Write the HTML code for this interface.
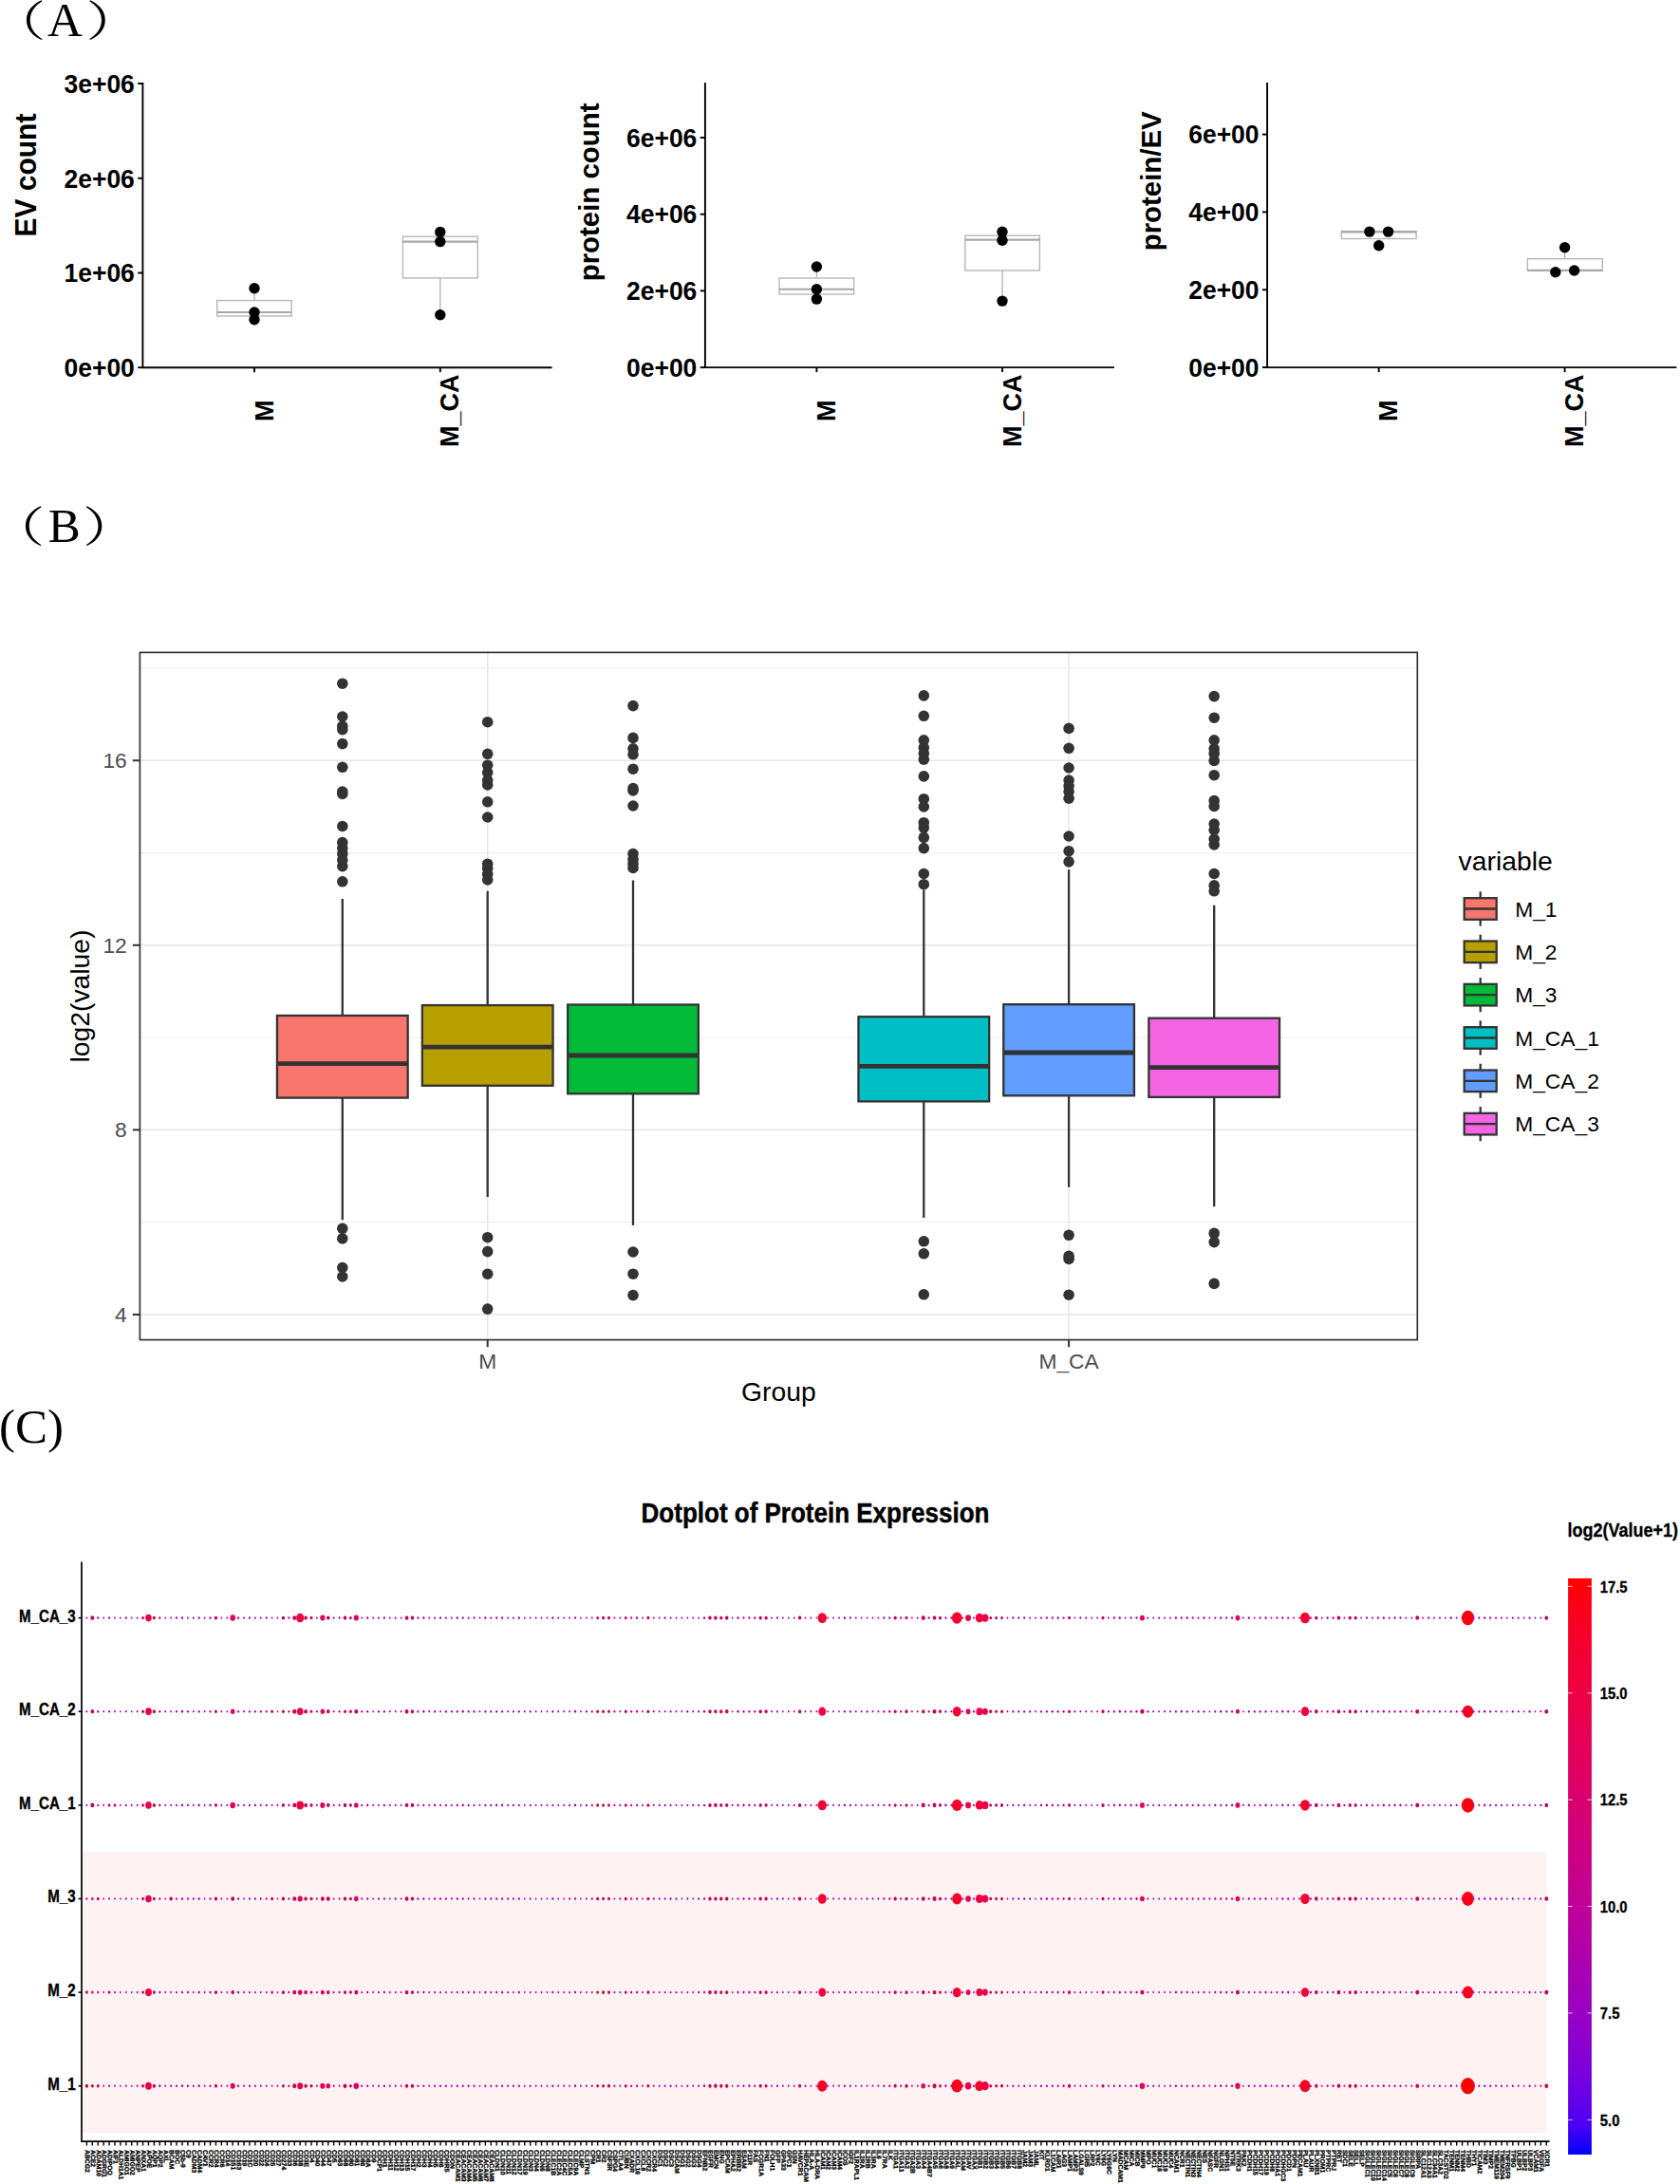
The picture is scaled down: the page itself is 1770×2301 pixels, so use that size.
<!DOCTYPE html>
<html lang="en"><head><meta charset="utf-8"><title>Figure</title>
<style>html,body{margin:0;padding:0;background:#fff}svg{display:block}text{font-family:'Liberation Sans', Arial, Helvetica, sans-serif}.b{font-weight:700}.lab,.lab text{font-family:'Liberation Serif', 'Noto Serif CJK SC', 'Times New Roman', serif}.lab{font-size:51px}.ax{stroke:#000;stroke-width:1.9;fill:none}.bx{stroke:#b5b5b5;stroke-width:1.35;fill:#fff}.bl{stroke:#b5b5b5;stroke-width:1.35;fill:none}.md{stroke:#a8a8a8;stroke-width:2.1;fill:none}.g3{fill:#4d4d4d}.bb{stroke:#333;stroke-width:2.3}.ol{fill:#333}</style></head><body>
<svg width="1770" height="2301" viewBox="0 0 1770 2301">
<rect width="1770" height="2301" fill="#fff"/>
<g class="lab">
<text font-size="44.5" transform="translate(-10 37.8) scale(1.31 1)">（</text>
<text x="50" y="38.4">A</text>
<text font-size="44.5" transform="translate(90.5 37.8) scale(1.31 1)">）</text>
</g>
<g class="lab">
<text font-size="44.5" transform="translate(-10.9 570.8) scale(1.31 1)">（</text>
<text x="50.8" y="571.4">B</text>
<text font-size="44.5" transform="translate(86.9 570.8) scale(1.31 1)">）</text>
</g>
<text class="lab" x="-1" y="1520">(C)</text>
<g>
<line class="bl" x1="268" y1="303.8" x2="268" y2="316.6"/>
<rect class="bx" x="228.7" y="316.6" width="78.5" height="16.4"/>
<line class="md" x1="228.7" y1="329" x2="307.2" y2="329"/>
<line class="bl" x1="463.8" y1="292.9" x2="463.8" y2="331.7"/>
<rect class="bx" x="424.4" y="249.2" width="78.9" height="43.7"/>
<line class="md" x1="424.4" y1="254.6" x2="503.3" y2="254.6"/>
<circle cx="268" cy="303.8" r="5.7" fill="#000"/>
<circle cx="268" cy="329" r="5.7" fill="#000"/>
<circle cx="268" cy="336.8" r="5.7" fill="#000"/>
<circle cx="463.8" cy="244.4" r="5.7" fill="#000"/>
<circle cx="463.8" cy="254.6" r="5.7" fill="#000"/>
<circle cx="463.8" cy="331.7" r="5.7" fill="#000"/>
<path class="ax" d="M150.4 87V387.2H581.6"/>
<line class="ax" x1="145.2" y1="88" x2="150.4" y2="88"/>
<text class="b" font-size="27" text-anchor="end" transform="translate(141.8 97.7) scale(0.98 1)">3e+06</text>
<line class="ax" x1="145.2" y1="187.8" x2="150.4" y2="187.8"/>
<text class="b" font-size="27" text-anchor="end" transform="translate(141.8 197.5) scale(0.98 1)">2e+06</text>
<line class="ax" x1="145.2" y1="287.5" x2="150.4" y2="287.5"/>
<text class="b" font-size="27" text-anchor="end" transform="translate(141.8 297.2) scale(0.98 1)">1e+06</text>
<line class="ax" x1="145.2" y1="387.2" x2="150.4" y2="387.2"/>
<text class="b" font-size="27" text-anchor="end" transform="translate(141.8 396.9) scale(0.98 1)">0e+00</text>
<line class="ax" x1="268" y1="387.2" x2="268" y2="392.2"/>
<text class="b" font-size="27" text-anchor="middle" transform="translate(287.5 432.8) rotate(-90)">M</text>
<line class="ax" x1="463.8" y1="387.2" x2="463.8" y2="392.2"/>
<text class="b" font-size="27" text-anchor="middle" transform="translate(483.3 432.8) rotate(-90)">M_CA</text>
<text class="b" font-size="30" text-anchor="middle" transform="translate(38 184.6) rotate(-90) scale(1 1.05)">EV count</text>
</g>
<g>
<line class="bl" x1="860.4" y1="281" x2="860.4" y2="293"/>
<rect class="bx" x="821" y="293" width="78.7" height="17"/>
<line class="md" x1="821" y1="304.7" x2="899.7" y2="304.7"/>
<line class="bl" x1="1056" y1="285" x2="1056" y2="317.1"/>
<rect class="bx" x="1016.8" y="248.2" width="78.6" height="36.8"/>
<line class="md" x1="1016.8" y1="252.6" x2="1095.4" y2="252.6"/>
<circle cx="860.4" cy="281" r="5.7" fill="#000"/>
<circle cx="860.4" cy="304.7" r="5.7" fill="#000"/>
<circle cx="860.4" cy="315.1" r="5.7" fill="#000"/>
<circle cx="1056" cy="244.3" r="5.7" fill="#000"/>
<circle cx="1056" cy="253.2" r="5.7" fill="#000"/>
<circle cx="1056" cy="317.1" r="5.7" fill="#000"/>
<path class="ax" d="M742.9 87V387.1H1173.9"/>
<line class="ax" x1="737.7" y1="145" x2="742.9" y2="145"/>
<text class="b" font-size="27" text-anchor="end" transform="translate(734.3 154.7) scale(0.98 1)">6e+06</text>
<line class="ax" x1="737.7" y1="225.7" x2="742.9" y2="225.7"/>
<text class="b" font-size="27" text-anchor="end" transform="translate(734.3 235.4) scale(0.98 1)">4e+06</text>
<line class="ax" x1="737.7" y1="306.4" x2="742.9" y2="306.4"/>
<text class="b" font-size="27" text-anchor="end" transform="translate(734.3 316.1) scale(0.98 1)">2e+06</text>
<line class="ax" x1="737.7" y1="387.1" x2="742.9" y2="387.1"/>
<text class="b" font-size="27" text-anchor="end" transform="translate(734.3 396.8) scale(0.98 1)">0e+00</text>
<line class="ax" x1="860.4" y1="387.1" x2="860.4" y2="392.1"/>
<text class="b" font-size="27" text-anchor="middle" transform="translate(879.9 432.8) rotate(-90)">M</text>
<line class="ax" x1="1056" y1="387.1" x2="1056" y2="392.1"/>
<text class="b" font-size="27" text-anchor="middle" transform="translate(1075.5 432.8) rotate(-90)">M_CA</text>
<text class="b" font-size="30" text-anchor="middle" transform="translate(630.5 202.4) rotate(-90) scale(0.98 1)">protein count</text>
</g>
<g>
<line class="bl" x1="1452.7" y1="251.5" x2="1452.7" y2="258.7"/>
<rect class="bx" x="1413.3" y="243.6" width="78.9" height="7.9"/>
<line class="md" x1="1413.3" y1="244.4" x2="1492.2" y2="244.4"/>
<line class="bl" x1="1648.6" y1="260.8" x2="1648.6" y2="272.7"/>
<rect class="bx" x="1609.3" y="272.7" width="79" height="12.7"/>
<line class="md" x1="1609.3" y1="284.8" x2="1688.3" y2="284.8"/>
<circle cx="1442.9" cy="244.1" r="5.7" fill="#000"/>
<circle cx="1462.6" cy="244.1" r="5.7" fill="#000"/>
<circle cx="1452.7" cy="258.7" r="5.7" fill="#000"/>
<circle cx="1648.6" cy="260.8" r="5.7" fill="#000"/>
<circle cx="1638.8" cy="286.8" r="5.7" fill="#000"/>
<circle cx="1658.6" cy="285" r="5.7" fill="#000"/>
<path class="ax" d="M1335.1 87V387.1H1766.4"/>
<line class="ax" x1="1329.9" y1="141.6" x2="1335.1" y2="141.6"/>
<text class="b" font-size="27" text-anchor="end" transform="translate(1326.5 151.3) scale(0.98 1)">6e+00</text>
<line class="ax" x1="1329.9" y1="223.4" x2="1335.1" y2="223.4"/>
<text class="b" font-size="27" text-anchor="end" transform="translate(1326.5 233.1) scale(0.98 1)">4e+00</text>
<line class="ax" x1="1329.9" y1="305.3" x2="1335.1" y2="305.3"/>
<text class="b" font-size="27" text-anchor="end" transform="translate(1326.5 315) scale(0.98 1)">2e+00</text>
<line class="ax" x1="1329.9" y1="387" x2="1335.1" y2="387"/>
<text class="b" font-size="27" text-anchor="end" transform="translate(1326.5 396.7) scale(0.98 1)">0e+00</text>
<line class="ax" x1="1452.7" y1="387.1" x2="1452.7" y2="392.1"/>
<text class="b" font-size="27" text-anchor="middle" transform="translate(1472.2 432.8) rotate(-90)">M</text>
<line class="ax" x1="1648.6" y1="387.1" x2="1648.6" y2="392.1"/>
<text class="b" font-size="27" text-anchor="middle" transform="translate(1668.1 432.8) rotate(-90)">M_CA</text>
<text class="b" font-size="30" text-anchor="middle" transform="translate(1222.7 190.8) rotate(-90) scale(0.98 1)">protein/EV</text>
</g>
<g>
<line x1="147.4" y1="703.9" x2="1493.3" y2="703.9" stroke="#ebebeb" stroke-width="0.9"/>
<line x1="147.4" y1="898.5" x2="1493.3" y2="898.5" stroke="#ebebeb" stroke-width="0.9"/>
<line x1="147.4" y1="1093.1" x2="1493.3" y2="1093.1" stroke="#ebebeb" stroke-width="0.9"/>
<line x1="147.4" y1="1287.7" x2="1493.3" y2="1287.7" stroke="#ebebeb" stroke-width="0.9"/>
<line x1="147.4" y1="801.2" x2="1493.3" y2="801.2" stroke="#e7e7e7" stroke-width="1.6"/>
<line x1="147.4" y1="995.8" x2="1493.3" y2="995.8" stroke="#e7e7e7" stroke-width="1.6"/>
<line x1="147.4" y1="1190.4" x2="1493.3" y2="1190.4" stroke="#e7e7e7" stroke-width="1.6"/>
<line x1="147.4" y1="1385" x2="1493.3" y2="1385" stroke="#e7e7e7" stroke-width="1.6"/>
<line x1="513.7" y1="687.4" x2="513.7" y2="1411.6" stroke="#e7e7e7" stroke-width="1.6"/>
<line x1="1126.1" y1="687.4" x2="1126.1" y2="1411.6" stroke="#e7e7e7" stroke-width="1.6"/>
<circle class="ol" cx="360.8" cy="720.2" r="5.8"/>
<circle class="ol" cx="360.8" cy="755" r="5.8"/>
<circle class="ol" cx="360.8" cy="765" r="5.8"/>
<circle class="ol" cx="360.8" cy="768.6" r="5.8"/>
<circle class="ol" cx="360.8" cy="783.6" r="5.8"/>
<circle class="ol" cx="360.8" cy="808.3" r="5.8"/>
<circle class="ol" cx="360.8" cy="834" r="5.8"/>
<circle class="ol" cx="360.8" cy="836.4" r="5.8"/>
<circle class="ol" cx="360.8" cy="870.5" r="5.8"/>
<circle class="ol" cx="360.8" cy="887.6" r="5.8"/>
<circle class="ol" cx="360.8" cy="893.6" r="5.8"/>
<circle class="ol" cx="360.8" cy="899.5" r="5.8"/>
<circle class="ol" cx="360.8" cy="906.2" r="5.8"/>
<circle class="ol" cx="360.8" cy="912.6" r="5.8"/>
<circle class="ol" cx="360.8" cy="928.8" r="5.8"/>
<circle class="ol" cx="360.8" cy="1294.3" r="5.8"/>
<circle class="ol" cx="360.8" cy="1304.9" r="5.8"/>
<circle class="ol" cx="360.8" cy="1335.5" r="5.8"/>
<circle class="ol" cx="360.8" cy="1345" r="5.8"/>
<path class="bb" fill="none" d="M360.8 947V1070M360.8 1156.6V1285.2"/>
<rect class="bb" x="291.95" y="1070" width="137.7" height="86.6" fill="#F8766D"/>
<line x1="291.95" y1="1120.6" x2="429.65" y2="1120.6" stroke="#333" stroke-width="4.8"/>
<circle class="ol" cx="513.7" cy="760.7" r="5.8"/>
<circle class="ol" cx="513.7" cy="794.3" r="5.8"/>
<circle class="ol" cx="513.7" cy="806.2" r="5.8"/>
<circle class="ol" cx="513.7" cy="813.8" r="5.8"/>
<circle class="ol" cx="513.7" cy="822.1" r="5.8"/>
<circle class="ol" cx="513.7" cy="826.9" r="5.8"/>
<circle class="ol" cx="513.7" cy="844.8" r="5.8"/>
<circle class="ol" cx="513.7" cy="861" r="5.8"/>
<circle class="ol" cx="513.7" cy="910.2" r="5.8"/>
<circle class="ol" cx="513.7" cy="915" r="5.8"/>
<circle class="ol" cx="513.7" cy="921" r="5.8"/>
<circle class="ol" cx="513.7" cy="926.9" r="5.8"/>
<circle class="ol" cx="513.7" cy="1303.7" r="5.8"/>
<circle class="ol" cx="513.7" cy="1318.6" r="5.8"/>
<circle class="ol" cx="513.7" cy="1342.2" r="5.8"/>
<circle class="ol" cx="513.7" cy="1379.1" r="5.8"/>
<path class="bb" fill="none" d="M513.7 938.8V1059.1M513.7 1143.8V1260.9"/>
<rect class="bb" x="444.85" y="1059.1" width="137.7" height="84.7" fill="#B79F00"/>
<line x1="444.85" y1="1103.1" x2="582.55" y2="1103.1" stroke="#333" stroke-width="4.8"/>
<circle class="ol" cx="667" cy="743.6" r="5.8"/>
<circle class="ol" cx="667" cy="777.4" r="5.8"/>
<circle class="ol" cx="667" cy="788.8" r="5.8"/>
<circle class="ol" cx="667" cy="794.8" r="5.8"/>
<circle class="ol" cx="667" cy="810.2" r="5.8"/>
<circle class="ol" cx="667" cy="830.5" r="5.8"/>
<circle class="ol" cx="667" cy="832.9" r="5.8"/>
<circle class="ol" cx="667" cy="849" r="5.8"/>
<circle class="ol" cx="667" cy="899.5" r="5.8"/>
<circle class="ol" cx="667" cy="905.5" r="5.8"/>
<circle class="ol" cx="667" cy="910.2" r="5.8"/>
<circle class="ol" cx="667" cy="914.5" r="5.8"/>
<circle class="ol" cx="667" cy="1319" r="5.8"/>
<circle class="ol" cx="667" cy="1342.2" r="5.8"/>
<circle class="ol" cx="667" cy="1364.6" r="5.8"/>
<path class="bb" fill="none" d="M667 927.4V1058.5M667 1152.3V1291.1"/>
<rect class="bb" x="598.15" y="1058.5" width="137.7" height="93.8" fill="#00BA38"/>
<line x1="598.15" y1="1112" x2="735.85" y2="1112" stroke="#333" stroke-width="4.8"/>
<circle class="ol" cx="973.3" cy="732.9" r="5.8"/>
<circle class="ol" cx="973.3" cy="754.3" r="5.8"/>
<circle class="ol" cx="973.3" cy="779.8" r="5.8"/>
<circle class="ol" cx="973.3" cy="787.6" r="5.8"/>
<circle class="ol" cx="973.3" cy="794" r="5.8"/>
<circle class="ol" cx="973.3" cy="800.2" r="5.8"/>
<circle class="ol" cx="973.3" cy="817.9" r="5.8"/>
<circle class="ol" cx="973.3" cy="841.7" r="5.8"/>
<circle class="ol" cx="973.3" cy="850" r="5.8"/>
<circle class="ol" cx="973.3" cy="866.7" r="5.8"/>
<circle class="ol" cx="973.3" cy="872.1" r="5.8"/>
<circle class="ol" cx="973.3" cy="882.4" r="5.8"/>
<circle class="ol" cx="973.3" cy="893.6" r="5.8"/>
<circle class="ol" cx="973.3" cy="920.5" r="5.8"/>
<circle class="ol" cx="973.3" cy="931.7" r="5.8"/>
<circle class="ol" cx="973.3" cy="1307.8" r="5.8"/>
<circle class="ol" cx="973.3" cy="1320.8" r="5.8"/>
<circle class="ol" cx="973.3" cy="1363.8" r="5.8"/>
<path class="bb" fill="none" d="M973.3 937.6V1071.2M973.3 1160.4V1283"/>
<rect class="bb" x="904.45" y="1071.2" width="137.7" height="89.2" fill="#00BFC4"/>
<line x1="904.45" y1="1123.4" x2="1042.15" y2="1123.4" stroke="#333" stroke-width="4.8"/>
<circle class="ol" cx="1126.1" cy="767.4" r="5.8"/>
<circle class="ol" cx="1126.1" cy="788.3" r="5.8"/>
<circle class="ol" cx="1126.1" cy="809" r="5.8"/>
<circle class="ol" cx="1126.1" cy="822.1" r="5.8"/>
<circle class="ol" cx="1126.1" cy="828.1" r="5.8"/>
<circle class="ol" cx="1126.1" cy="834" r="5.8"/>
<circle class="ol" cx="1126.1" cy="841.2" r="5.8"/>
<circle class="ol" cx="1126.1" cy="881" r="5.8"/>
<circle class="ol" cx="1126.1" cy="896.7" r="5.8"/>
<circle class="ol" cx="1126.1" cy="907.9" r="5.8"/>
<circle class="ol" cx="1126.1" cy="1301.3" r="5.8"/>
<circle class="ol" cx="1126.1" cy="1323.4" r="5.8"/>
<circle class="ol" cx="1126.1" cy="1326.5" r="5.8"/>
<circle class="ol" cx="1126.1" cy="1364.2" r="5.8"/>
<path class="bb" fill="none" d="M1126.1 916.2V1058.2M1126.1 1154.3V1250.7"/>
<rect class="bb" x="1057.25" y="1058.2" width="137.7" height="96.1" fill="#619CFF"/>
<line x1="1057.25" y1="1109" x2="1194.95" y2="1109" stroke="#333" stroke-width="4.8"/>
<circle class="ol" cx="1279.2" cy="733.6" r="5.8"/>
<circle class="ol" cx="1279.2" cy="756.2" r="5.8"/>
<circle class="ol" cx="1279.2" cy="779.8" r="5.8"/>
<circle class="ol" cx="1279.2" cy="788.8" r="5.8"/>
<circle class="ol" cx="1279.2" cy="794" r="5.8"/>
<circle class="ol" cx="1279.2" cy="801.4" r="5.8"/>
<circle class="ol" cx="1279.2" cy="816.7" r="5.8"/>
<circle class="ol" cx="1279.2" cy="843.6" r="5.8"/>
<circle class="ol" cx="1279.2" cy="849.5" r="5.8"/>
<circle class="ol" cx="1279.2" cy="868.1" r="5.8"/>
<circle class="ol" cx="1279.2" cy="874.5" r="5.8"/>
<circle class="ol" cx="1279.2" cy="884" r="5.8"/>
<circle class="ol" cx="1279.2" cy="890" r="5.8"/>
<circle class="ol" cx="1279.2" cy="920.5" r="5.8"/>
<circle class="ol" cx="1279.2" cy="932.9" r="5.8"/>
<circle class="ol" cx="1279.2" cy="938.8" r="5.8"/>
<circle class="ol" cx="1279.2" cy="1299.4" r="5.8"/>
<circle class="ol" cx="1279.2" cy="1308.6" r="5.8"/>
<circle class="ol" cx="1279.2" cy="1352.4" r="5.8"/>
<path class="bb" fill="none" d="M1279.2 953.8V1072.7M1279.2 1155.9V1271.2"/>
<rect class="bb" x="1210.35" y="1072.7" width="137.7" height="83.2" fill="#F564E3"/>
<line x1="1210.35" y1="1124.6" x2="1348.05" y2="1124.6" stroke="#333" stroke-width="4.8"/>
<rect x="147.4" y="687.4" width="1345.9" height="724.2" fill="none" stroke="#333" stroke-width="1.7"/>
<line x1="139.8" y1="801.2" x2="147.4" y2="801.2" stroke="#333" stroke-width="2"/>
<text class="g3" font-size="22.8" text-anchor="end" x="133.8" y="809.1">16</text>
<line x1="139.8" y1="995.8" x2="147.4" y2="995.8" stroke="#333" stroke-width="2"/>
<text class="g3" font-size="22.8" text-anchor="end" x="133.8" y="1003.7">12</text>
<line x1="139.8" y1="1190.4" x2="147.4" y2="1190.4" stroke="#333" stroke-width="2"/>
<text class="g3" font-size="22.8" text-anchor="end" x="133.8" y="1198.3">8</text>
<line x1="139.8" y1="1385" x2="147.4" y2="1385" stroke="#333" stroke-width="2"/>
<text class="g3" font-size="22.8" text-anchor="end" x="133.8" y="1392.9">4</text>
<line x1="513.7" y1="1411.6" x2="513.7" y2="1419.2" stroke="#333" stroke-width="2"/>
<text class="g3" font-size="22.8" text-anchor="middle" x="513.7" y="1441.7">M</text>
<line x1="1126.1" y1="1411.6" x2="1126.1" y2="1419.2" stroke="#333" stroke-width="2"/>
<text class="g3" font-size="22.8" text-anchor="middle" x="1126.1" y="1441.7">M_CA</text>
<text font-size="28.3" text-anchor="middle" x="820.4" y="1475.6">Group</text>
<text font-size="28.3" text-anchor="middle" transform="translate(94.3 1049.5) rotate(-90)">log2(value)</text>
<text font-size="28.3" x="1536.6" y="916.7">variable</text>
<path class="bb" fill="none" d="M1559.7 939.4V975.6"/>
<rect class="bb" x="1542.7" y="946.2" width="34" height="22.6" fill="#F8766D"/>
<line class="bb" x1="1542.7" y1="957.5" x2="1576.7" y2="957.5"/>
<text font-size="22.8" x="1596.2" y="965.6">M_1</text>
<path class="bb" fill="none" d="M1559.7 984.73V1020.93"/>
<rect class="bb" x="1542.7" y="991.53" width="34" height="22.6" fill="#B79F00"/>
<line class="bb" x1="1542.7" y1="1002.83" x2="1576.7" y2="1002.83"/>
<text font-size="22.8" x="1596.2" y="1010.93">M_2</text>
<path class="bb" fill="none" d="M1559.7 1030.06V1066.26"/>
<rect class="bb" x="1542.7" y="1036.86" width="34" height="22.6" fill="#00BA38"/>
<line class="bb" x1="1542.7" y1="1048.16" x2="1576.7" y2="1048.16"/>
<text font-size="22.8" x="1596.2" y="1056.26">M_3</text>
<path class="bb" fill="none" d="M1559.7 1075.39V1111.59"/>
<rect class="bb" x="1542.7" y="1082.19" width="34" height="22.6" fill="#00BFC4"/>
<line class="bb" x1="1542.7" y1="1093.49" x2="1576.7" y2="1093.49"/>
<text font-size="22.8" x="1596.2" y="1101.59">M_CA_1</text>
<path class="bb" fill="none" d="M1559.7 1120.72V1156.92"/>
<rect class="bb" x="1542.7" y="1127.52" width="34" height="22.6" fill="#619CFF"/>
<line class="bb" x1="1542.7" y1="1138.82" x2="1576.7" y2="1138.82"/>
<text font-size="22.8" x="1596.2" y="1146.92">M_CA_2</text>
<path class="bb" fill="none" d="M1559.7 1166.05V1202.25"/>
<rect class="bb" x="1542.7" y="1172.85" width="34" height="22.6" fill="#F564E3"/>
<line class="bb" x1="1542.7" y1="1184.15" x2="1576.7" y2="1184.15"/>
<text font-size="22.8" x="1596.2" y="1192.25">M_CA_3</text>
</g>
<g stroke="#000" stroke-width="0" paint-order="stroke">
<text class="b" stroke-width="0.4" font-size="26" text-anchor="middle" transform="translate(859 1604.4) scale(1 1.13)">Dotplot of Protein Expression</text>
<rect x="87" y="1951.2" width="1542.2" height="295.7" fill="#fef3f2"/>
<ellipse cx="91.4" cy="1704.6" rx="0.96" ry="1.11" fill="#ab00b1"/><ellipse cx="97.32" cy="1704.6" rx="2" ry="2.32" fill="#c2064f"/><ellipse cx="103.23" cy="1704.6" rx="1.09" ry="1.27" fill="#b200a9"/><ellipse cx="109.15" cy="1704.6" rx="0.96" ry="1.11" fill="#aa00b2"/><ellipse cx="115.06" cy="1704.6" rx="1.07" ry="1.24" fill="#ad00af"/><ellipse cx="120.98" cy="1704.6" rx="0.96" ry="1.11" fill="#ab00b1"/><ellipse cx="126.89" cy="1704.6" rx="0.89" ry="1.03" fill="#b800a1"/><ellipse cx="132.81" cy="1704.6" rx="1.08" ry="1.25" fill="#a700b5"/><ellipse cx="138.72" cy="1704.6" rx="0.91" ry="1.06" fill="#b400a7"/><ellipse cx="144.63" cy="1704.6" rx="0.99" ry="1.14" fill="#a200bb"/><ellipse cx="150.55" cy="1704.6" rx="1.43" ry="1.66" fill="#c2064f"/><ellipse cx="156.47" cy="1704.6" rx="3.3" ry="3.83" fill="#ea004a"/><ellipse cx="162.38" cy="1704.6" rx="1.57" ry="1.82" fill="#c2064f"/><ellipse cx="168.3" cy="1704.6" rx="1.12" ry="1.29" fill="#b900a0"/><ellipse cx="174.21" cy="1704.6" rx="0.92" ry="1.07" fill="#b900a1"/><ellipse cx="180.12" cy="1704.6" rx="0.97" ry="1.13" fill="#b700a2"/><ellipse cx="186.04" cy="1704.6" rx="1.09" ry="1.27" fill="#a200bb"/><ellipse cx="191.96" cy="1704.6" rx="1.15" ry="1.33" fill="#a000bd"/><ellipse cx="197.87" cy="1704.6" rx="1" ry="1.15" fill="#a900b3"/><ellipse cx="203.79" cy="1704.6" rx="1.03" ry="1.2" fill="#ae00ae"/><ellipse cx="209.7" cy="1704.6" rx="1.1" ry="1.28" fill="#b600a4"/><ellipse cx="215.62" cy="1704.6" rx="0.97" ry="1.12" fill="#a400b9"/><ellipse cx="221.53" cy="1704.6" rx="1.1" ry="1.28" fill="#b000ab"/><ellipse cx="227.44" cy="1704.6" rx="1.69" ry="1.96" fill="#c2064f"/><ellipse cx="233.36" cy="1704.6" rx="0.92" ry="1.06" fill="#ae00ae"/><ellipse cx="239.28" cy="1704.6" rx="0.99" ry="1.15" fill="#af00ac"/><ellipse cx="245.19" cy="1704.6" rx="2.8" ry="3.25" fill="#e50057"/><ellipse cx="251.11" cy="1704.6" rx="1.12" ry="1.3" fill="#b400a7"/><ellipse cx="257.02" cy="1704.6" rx="0.96" ry="1.11" fill="#a600b7"/><ellipse cx="262.94" cy="1704.6" rx="1.06" ry="1.23" fill="#ad00af"/><ellipse cx="268.85" cy="1704.6" rx="1.04" ry="1.21" fill="#b600a4"/><ellipse cx="274.76" cy="1704.6" rx="0.99" ry="1.15" fill="#ac00b0"/><ellipse cx="280.68" cy="1704.6" rx="1.07" ry="1.24" fill="#b500a5"/><ellipse cx="286.6" cy="1704.6" rx="0.97" ry="1.13" fill="#b100ab"/><ellipse cx="292.51" cy="1704.6" rx="0.91" ry="1.06" fill="#b600a4"/><ellipse cx="298.43" cy="1704.6" rx="1.69" ry="1.96" fill="#c2064f"/><ellipse cx="304.34" cy="1704.6" rx="1.09" ry="1.27" fill="#b400a7"/><ellipse cx="310.25" cy="1704.6" rx="2" ry="2.32" fill="#c2064f"/><ellipse cx="316.17" cy="1704.6" rx="4.1" ry="4.76" fill="#f1003a"/><ellipse cx="322.09" cy="1704.6" rx="1.8" ry="2.09" fill="#c2064f"/><ellipse cx="328" cy="1704.6" rx="1.52" ry="1.76" fill="#c2064f"/><ellipse cx="333.92" cy="1704.6" rx="0.95" ry="1.1" fill="#b100aa"/><ellipse cx="339.83" cy="1704.6" rx="2.6" ry="3.02" fill="#e2005c"/><ellipse cx="345.75" cy="1704.6" rx="1.8" ry="2.09" fill="#c2064f"/><ellipse cx="351.66" cy="1704.6" rx="1.01" ry="1.17" fill="#a200bb"/><ellipse cx="357.58" cy="1704.6" rx="1.07" ry="1.24" fill="#b200a9"/><ellipse cx="363.49" cy="1704.6" rx="1.8" ry="2.09" fill="#c2064f"/><ellipse cx="369.4" cy="1704.6" rx="1.42" ry="1.65" fill="#c2064f"/><ellipse cx="375.32" cy="1704.6" rx="2.6" ry="3.02" fill="#e2005c"/><ellipse cx="381.24" cy="1704.6" rx="0.94" ry="1.09" fill="#af00ad"/><ellipse cx="387.15" cy="1704.6" rx="1.1" ry="1.28" fill="#a700b6"/><ellipse cx="393.07" cy="1704.6" rx="0.96" ry="1.11" fill="#b100ab"/><ellipse cx="398.98" cy="1704.6" rx="1.04" ry="1.2" fill="#ae00ae"/><ellipse cx="404.89" cy="1704.6" rx="1.07" ry="1.24" fill="#9d00c0"/><ellipse cx="410.81" cy="1704.6" rx="0.92" ry="1.06" fill="#a300ba"/><ellipse cx="416.73" cy="1704.6" rx="1.03" ry="1.19" fill="#b300a8"/><ellipse cx="422.64" cy="1704.6" rx="0.9" ry="1.05" fill="#a900b4"/><ellipse cx="428.56" cy="1704.6" rx="1.91" ry="2.22" fill="#c2064f"/><ellipse cx="434.47" cy="1704.6" rx="1.77" ry="2.06" fill="#c2064f"/><ellipse cx="440.38" cy="1704.6" rx="1.07" ry="1.24" fill="#b000ac"/><ellipse cx="446.3" cy="1704.6" rx="1.13" ry="1.31" fill="#ac00b1"/><ellipse cx="452.22" cy="1704.6" rx="0.99" ry="1.15" fill="#b200a9"/><ellipse cx="458.13" cy="1704.6" rx="1.04" ry="1.2" fill="#b500a6"/><ellipse cx="464.04" cy="1704.6" rx="1.09" ry="1.26" fill="#9e00bf"/><ellipse cx="469.96" cy="1704.6" rx="1.02" ry="1.18" fill="#a500b8"/><ellipse cx="475.88" cy="1704.6" rx="0.98" ry="1.14" fill="#a100bc"/><ellipse cx="481.79" cy="1704.6" rx="1.12" ry="1.3" fill="#a000bd"/><ellipse cx="487.71" cy="1704.6" rx="1.08" ry="1.25" fill="#b800a1"/><ellipse cx="493.62" cy="1704.6" rx="1.01" ry="1.18" fill="#ad00ae"/><ellipse cx="499.53" cy="1704.6" rx="1.06" ry="1.23" fill="#a800b5"/><ellipse cx="505.45" cy="1704.6" rx="0.93" ry="1.08" fill="#a300ba"/><ellipse cx="511.37" cy="1704.6" rx="1.08" ry="1.26" fill="#a500b8"/><ellipse cx="517.28" cy="1704.6" rx="1.02" ry="1.19" fill="#a300ba"/><ellipse cx="523.2" cy="1704.6" rx="1.13" ry="1.31" fill="#b800a1"/><ellipse cx="529.11" cy="1704.6" rx="1.11" ry="1.29" fill="#b900a0"/><ellipse cx="535.02" cy="1704.6" rx="0.97" ry="1.13" fill="#a500b8"/><ellipse cx="540.94" cy="1704.6" rx="1.03" ry="1.19" fill="#a300ba"/><ellipse cx="546.86" cy="1704.6" rx="1.12" ry="1.3" fill="#a900b4"/><ellipse cx="552.77" cy="1704.6" rx="0.9" ry="1.05" fill="#a500b8"/><ellipse cx="558.69" cy="1704.6" rx="1" ry="1.16" fill="#b800a1"/><ellipse cx="564.6" cy="1704.6" rx="1" ry="1.16" fill="#ae00ae"/><ellipse cx="570.51" cy="1704.6" rx="0.92" ry="1.07" fill="#9d00c0"/><ellipse cx="576.43" cy="1704.6" rx="0.89" ry="1.04" fill="#a600b7"/><ellipse cx="582.35" cy="1704.6" rx="1.1" ry="1.28" fill="#b000ac"/><ellipse cx="588.26" cy="1704.6" rx="0.98" ry="1.14" fill="#b500a5"/><ellipse cx="594.17" cy="1704.6" rx="0.96" ry="1.11" fill="#b100aa"/><ellipse cx="600.09" cy="1704.6" rx="1" ry="1.16" fill="#b300a8"/><ellipse cx="606" cy="1704.6" rx="1.08" ry="1.25" fill="#b900a0"/><ellipse cx="611.92" cy="1704.6" rx="0.89" ry="1.04" fill="#b000ac"/><ellipse cx="617.84" cy="1704.6" rx="1" ry="1.16" fill="#b500a6"/><ellipse cx="623.75" cy="1704.6" rx="1" ry="1.16" fill="#b700a3"/><ellipse cx="629.66" cy="1704.6" rx="1.4" ry="1.62" fill="#c2064f"/><ellipse cx="635.58" cy="1704.6" rx="1.55" ry="1.8" fill="#c2064f"/><ellipse cx="641.5" cy="1704.6" rx="1.54" ry="1.79" fill="#c2064f"/><ellipse cx="647.41" cy="1704.6" rx="0.98" ry="1.14" fill="#a200bb"/><ellipse cx="653.32" cy="1704.6" rx="1" ry="1.16" fill="#ab00b2"/><ellipse cx="659.24" cy="1704.6" rx="1.44" ry="1.67" fill="#c2064f"/><ellipse cx="665.15" cy="1704.6" rx="1.08" ry="1.25" fill="#b600a4"/><ellipse cx="671.07" cy="1704.6" rx="1.14" ry="1.32" fill="#a500b8"/><ellipse cx="676.99" cy="1704.6" rx="0.97" ry="1.12" fill="#b000ab"/><ellipse cx="682.9" cy="1704.6" rx="1.52" ry="1.76" fill="#c2064f"/><ellipse cx="688.81" cy="1704.6" rx="0.98" ry="1.14" fill="#af00ad"/><ellipse cx="694.73" cy="1704.6" rx="0.93" ry="1.08" fill="#a600b7"/><ellipse cx="700.64" cy="1704.6" rx="1.06" ry="1.23" fill="#af00ad"/><ellipse cx="706.56" cy="1704.6" rx="1.02" ry="1.18" fill="#a900b3"/><ellipse cx="712.48" cy="1704.6" rx="0.97" ry="1.13" fill="#b200a9"/><ellipse cx="718.39" cy="1704.6" rx="0.95" ry="1.11" fill="#9f00be"/><ellipse cx="724.3" cy="1704.6" rx="0.97" ry="1.12" fill="#ab00b2"/><ellipse cx="730.22" cy="1704.6" rx="0.95" ry="1.11" fill="#a100bc"/><ellipse cx="736.13" cy="1704.6" rx="1" ry="1.16" fill="#9f00be"/><ellipse cx="742.05" cy="1704.6" rx="1.14" ry="1.33" fill="#a000be"/><ellipse cx="747.97" cy="1704.6" rx="1.72" ry="1.99" fill="#c2064f"/><ellipse cx="753.88" cy="1704.6" rx="1.81" ry="2.1" fill="#c2064f"/><ellipse cx="759.79" cy="1704.6" rx="1.61" ry="1.87" fill="#c2064f"/><ellipse cx="765.71" cy="1704.6" rx="1.76" ry="2.04" fill="#c2064f"/><ellipse cx="771.62" cy="1704.6" rx="0.94" ry="1.09" fill="#a200bb"/><ellipse cx="777.54" cy="1704.6" rx="1.17" ry="1.36" fill="#b300a8"/><ellipse cx="783.45" cy="1704.6" rx="1.08" ry="1.25" fill="#b700a3"/><ellipse cx="789.37" cy="1704.6" rx="1.07" ry="1.24" fill="#b600a5"/><ellipse cx="795.28" cy="1704.6" rx="1.13" ry="1.31" fill="#a000bd"/><ellipse cx="801.2" cy="1704.6" rx="1.69" ry="1.96" fill="#c2064f"/><ellipse cx="807.12" cy="1704.6" rx="1.66" ry="1.93" fill="#c2064f"/><ellipse cx="813.03" cy="1704.6" rx="0.98" ry="1.14" fill="#a600b7"/><ellipse cx="818.94" cy="1704.6" rx="1.08" ry="1.26" fill="#b400a6"/><ellipse cx="824.86" cy="1704.6" rx="0.92" ry="1.07" fill="#9d00c0"/><ellipse cx="830.77" cy="1704.6" rx="0.89" ry="1.03" fill="#ac00b0"/><ellipse cx="836.69" cy="1704.6" rx="0.97" ry="1.13" fill="#a100bd"/><ellipse cx="842.61" cy="1704.6" rx="1.73" ry="2.01" fill="#c2064f"/><ellipse cx="848.52" cy="1704.6" rx="0.95" ry="1.1" fill="#ac00b1"/><ellipse cx="854.43" cy="1704.6" rx="0.93" ry="1.08" fill="#a300ba"/><ellipse cx="860.35" cy="1704.6" rx="0.88" ry="1.02" fill="#b700a2"/><ellipse cx="866.26" cy="1704.6" rx="4.68" ry="5.43" fill="#f40031"/><ellipse cx="872.18" cy="1704.6" rx="0.98" ry="1.13" fill="#af00ad"/><ellipse cx="878.1" cy="1704.6" rx="0.95" ry="1.11" fill="#ad00af"/><ellipse cx="884.01" cy="1704.6" rx="0.97" ry="1.12" fill="#b400a7"/><ellipse cx="889.92" cy="1704.6" rx="1.13" ry="1.31" fill="#9e00bf"/><ellipse cx="895.84" cy="1704.6" rx="1.06" ry="1.23" fill="#a400b9"/><ellipse cx="901.75" cy="1704.6" rx="1" ry="1.16" fill="#9d00c0"/><ellipse cx="907.67" cy="1704.6" rx="0.95" ry="1.1" fill="#b700a3"/><ellipse cx="913.59" cy="1704.6" rx="0.96" ry="1.11" fill="#a600b7"/><ellipse cx="919.5" cy="1704.6" rx="0.98" ry="1.14" fill="#b700a3"/><ellipse cx="925.41" cy="1704.6" rx="0.97" ry="1.12" fill="#b800a1"/><ellipse cx="931.33" cy="1704.6" rx="1.07" ry="1.24" fill="#9f00be"/><ellipse cx="937.25" cy="1704.6" rx="1.12" ry="1.3" fill="#b400a7"/><ellipse cx="943.16" cy="1704.6" rx="1.63" ry="1.89" fill="#c2064f"/><ellipse cx="949.07" cy="1704.6" rx="1.07" ry="1.24" fill="#b200a9"/><ellipse cx="954.99" cy="1704.6" rx="1.51" ry="1.75" fill="#c2064f"/><ellipse cx="960.9" cy="1704.6" rx="0.93" ry="1.07" fill="#a300ba"/><ellipse cx="966.82" cy="1704.6" rx="0.97" ry="1.13" fill="#b100aa"/><ellipse cx="972.74" cy="1704.6" rx="2.07" ry="2.4" fill="#c2064f"/><ellipse cx="978.65" cy="1704.6" rx="1.1" ry="1.27" fill="#b400a7"/><ellipse cx="984.56" cy="1704.6" rx="1.86" ry="2.16" fill="#c2064f"/><ellipse cx="990.48" cy="1704.6" rx="1.59" ry="1.84" fill="#c2064f"/><ellipse cx="996.39" cy="1704.6" rx="1.09" ry="1.27" fill="#b300a8"/><ellipse cx="1002.31" cy="1704.6" rx="1.07" ry="1.24" fill="#9e00bf"/><ellipse cx="1008.23" cy="1704.6" rx="5.31" ry="6.16" fill="#f70027"/><ellipse cx="1014.14" cy="1704.6" rx="1.04" ry="1.21" fill="#b900a0"/><ellipse cx="1020.05" cy="1704.6" rx="2.97" ry="3.45" fill="#e70052"/><ellipse cx="1025.97" cy="1704.6" rx="0.99" ry="1.14" fill="#ac00b0"/><ellipse cx="1031.88" cy="1704.6" rx="4.14" ry="4.8" fill="#f1003a"/><ellipse cx="1037.8" cy="1704.6" rx="3.6" ry="4.18" fill="#ed0044"/><ellipse cx="1043.72" cy="1704.6" rx="1.48" ry="1.72" fill="#c2064f"/><ellipse cx="1049.63" cy="1704.6" rx="1.48" ry="1.71" fill="#c2064f"/><ellipse cx="1055.55" cy="1704.6" rx="1.44" ry="1.67" fill="#c2064f"/><ellipse cx="1061.46" cy="1704.6" rx="0.93" ry="1.07" fill="#a500b8"/><ellipse cx="1067.38" cy="1704.6" rx="1.06" ry="1.23" fill="#a600b7"/><ellipse cx="1073.29" cy="1704.6" rx="1.08" ry="1.25" fill="#b900a1"/><ellipse cx="1079.2" cy="1704.6" rx="1.07" ry="1.24" fill="#9d00c0"/><ellipse cx="1085.12" cy="1704.6" rx="0.97" ry="1.12" fill="#b600a4"/><ellipse cx="1091.04" cy="1704.6" rx="0.94" ry="1.09" fill="#b100aa"/><ellipse cx="1096.95" cy="1704.6" rx="1.05" ry="1.22" fill="#a800b5"/><ellipse cx="1102.87" cy="1704.6" rx="1.1" ry="1.27" fill="#b000ac"/><ellipse cx="1108.78" cy="1704.6" rx="1.09" ry="1.27" fill="#b400a7"/><ellipse cx="1114.69" cy="1704.6" rx="1.1" ry="1.28" fill="#a900b3"/><ellipse cx="1120.61" cy="1704.6" rx="1.05" ry="1.21" fill="#b600a4"/><ellipse cx="1126.53" cy="1704.6" rx="1.5" ry="1.74" fill="#c2064f"/><ellipse cx="1132.44" cy="1704.6" rx="0.97" ry="1.12" fill="#ba00a0"/><ellipse cx="1138.36" cy="1704.6" rx="1.06" ry="1.23" fill="#a800b5"/><ellipse cx="1144.27" cy="1704.6" rx="1.04" ry="1.21" fill="#a500b8"/><ellipse cx="1150.19" cy="1704.6" rx="0.93" ry="1.08" fill="#ae00ad"/><ellipse cx="1156.1" cy="1704.6" rx="0.95" ry="1.1" fill="#a600b7"/><ellipse cx="1162.02" cy="1704.6" rx="1.58" ry="1.83" fill="#c2064f"/><ellipse cx="1167.93" cy="1704.6" rx="0.96" ry="1.11" fill="#b800a2"/><ellipse cx="1173.85" cy="1704.6" rx="1.1" ry="1.27" fill="#a700b5"/><ellipse cx="1179.76" cy="1704.6" rx="1.16" ry="1.35" fill="#b000ac"/><ellipse cx="1185.68" cy="1704.6" rx="0.99" ry="1.15" fill="#ac00b0"/><ellipse cx="1191.59" cy="1704.6" rx="1.08" ry="1.25" fill="#a300ba"/><ellipse cx="1197.51" cy="1704.6" rx="1.09" ry="1.26" fill="#9f00be"/><ellipse cx="1203.42" cy="1704.6" rx="2.52" ry="2.92" fill="#e2005c"/><ellipse cx="1209.34" cy="1704.6" rx="1.01" ry="1.17" fill="#b500a5"/><ellipse cx="1215.25" cy="1704.6" rx="1" ry="1.16" fill="#a400b9"/><ellipse cx="1221.17" cy="1704.6" rx="1.01" ry="1.18" fill="#a700b5"/><ellipse cx="1227.08" cy="1704.6" rx="0.98" ry="1.14" fill="#af00ad"/><ellipse cx="1233" cy="1704.6" rx="0.96" ry="1.12" fill="#b200a9"/><ellipse cx="1238.91" cy="1704.6" rx="1.1" ry="1.27" fill="#b200a9"/><ellipse cx="1244.83" cy="1704.6" rx="1.12" ry="1.3" fill="#b600a4"/><ellipse cx="1250.74" cy="1704.6" rx="1.13" ry="1.31" fill="#a900b4"/><ellipse cx="1256.66" cy="1704.6" rx="1.07" ry="1.25" fill="#a900b3"/><ellipse cx="1262.57" cy="1704.6" rx="1.01" ry="1.18" fill="#b900a0"/><ellipse cx="1268.49" cy="1704.6" rx="1.14" ry="1.33" fill="#ad00af"/><ellipse cx="1274.4" cy="1704.6" rx="0.96" ry="1.12" fill="#b200a9"/><ellipse cx="1280.32" cy="1704.6" rx="1.02" ry="1.19" fill="#b500a6"/><ellipse cx="1286.23" cy="1704.6" rx="1.13" ry="1.32" fill="#b900a0"/><ellipse cx="1292.15" cy="1704.6" rx="1.09" ry="1.26" fill="#a500b7"/><ellipse cx="1298.06" cy="1704.6" rx="1.11" ry="1.29" fill="#ae00ae"/><ellipse cx="1303.98" cy="1704.6" rx="2.43" ry="2.82" fill="#e2005c"/><ellipse cx="1309.89" cy="1704.6" rx="1" ry="1.15" fill="#9e00bf"/><ellipse cx="1315.81" cy="1704.6" rx="1.11" ry="1.29" fill="#b800a2"/><ellipse cx="1321.72" cy="1704.6" rx="0.96" ry="1.12" fill="#9f00be"/><ellipse cx="1327.63" cy="1704.6" rx="1.1" ry="1.27" fill="#b100ab"/><ellipse cx="1333.55" cy="1704.6" rx="1.15" ry="1.33" fill="#ad00af"/><ellipse cx="1339.47" cy="1704.6" rx="0.99" ry="1.15" fill="#b200a9"/><ellipse cx="1345.38" cy="1704.6" rx="1.06" ry="1.23" fill="#ac00b0"/><ellipse cx="1351.3" cy="1704.6" rx="1.12" ry="1.3" fill="#b900a0"/><ellipse cx="1357.21" cy="1704.6" rx="1.04" ry="1.21" fill="#ae00ae"/><ellipse cx="1363.12" cy="1704.6" rx="0.99" ry="1.15" fill="#b400a6"/><ellipse cx="1369.04" cy="1704.6" rx="0.97" ry="1.13" fill="#b100aa"/><ellipse cx="1374.96" cy="1704.6" rx="4.95" ry="5.74" fill="#f6002d"/><ellipse cx="1380.87" cy="1704.6" rx="1.11" ry="1.29" fill="#b900a0"/><ellipse cx="1386.79" cy="1704.6" rx="1.67" ry="1.94" fill="#c2064f"/><ellipse cx="1392.7" cy="1704.6" rx="0.94" ry="1.1" fill="#ab00b2"/><ellipse cx="1398.62" cy="1704.6" rx="1.13" ry="1.31" fill="#a600b7"/><ellipse cx="1404.53" cy="1704.6" rx="1.1" ry="1.28" fill="#ab00b2"/><ellipse cx="1410.45" cy="1704.6" rx="1.83" ry="2.13" fill="#c2064f"/><ellipse cx="1416.36" cy="1704.6" rx="1" ry="1.16" fill="#b700a3"/><ellipse cx="1422.28" cy="1704.6" rx="1.69" ry="1.96" fill="#c2064f"/><ellipse cx="1428.19" cy="1704.6" rx="1.63" ry="1.89" fill="#c2064f"/><ellipse cx="1434.11" cy="1704.6" rx="0.94" ry="1.09" fill="#a900b4"/><ellipse cx="1440.02" cy="1704.6" rx="1.08" ry="1.25" fill="#a900b3"/><ellipse cx="1445.94" cy="1704.6" rx="1.02" ry="1.19" fill="#b000ab"/><ellipse cx="1451.85" cy="1704.6" rx="1.08" ry="1.25" fill="#b300a8"/><ellipse cx="1457.77" cy="1704.6" rx="1.18" ry="1.37" fill="#a100bc"/><ellipse cx="1463.68" cy="1704.6" rx="1.05" ry="1.22" fill="#b400a7"/><ellipse cx="1469.6" cy="1704.6" rx="1.08" ry="1.26" fill="#ab00b1"/><ellipse cx="1475.51" cy="1704.6" rx="1.07" ry="1.24" fill="#a600b6"/><ellipse cx="1481.43" cy="1704.6" rx="0.97" ry="1.12" fill="#a900b4"/><ellipse cx="1487.34" cy="1704.6" rx="0.96" ry="1.12" fill="#b200a9"/><ellipse cx="1493.26" cy="1704.6" rx="1.95" ry="2.26" fill="#c2064f"/><ellipse cx="1499.17" cy="1704.6" rx="0.94" ry="1.09" fill="#ae00ad"/><ellipse cx="1505.09" cy="1704.6" rx="1.08" ry="1.25" fill="#9d00c0"/><ellipse cx="1511" cy="1704.6" rx="1" ry="1.16" fill="#9d00c0"/><ellipse cx="1516.92" cy="1704.6" rx="1" ry="1.17" fill="#a900b4"/><ellipse cx="1522.83" cy="1704.6" rx="0.9" ry="1.05" fill="#9f00be"/><ellipse cx="1528.75" cy="1704.6" rx="1.14" ry="1.32" fill="#a500b8"/><ellipse cx="1534.66" cy="1704.6" rx="1" ry="1.16" fill="#a200bb"/><ellipse cx="1540.58" cy="1704.6" rx="1.03" ry="1.2" fill="#b800a1"/><ellipse cx="1546.49" cy="1704.6" rx="6.66" ry="7.73" fill="#fc0012"/><ellipse cx="1552.41" cy="1704.6" rx="1.15" ry="1.33" fill="#a800b4"/><ellipse cx="1558.32" cy="1704.6" rx="1.06" ry="1.23" fill="#a800b5"/><ellipse cx="1564.24" cy="1704.6" rx="1.1" ry="1.27" fill="#aa00b2"/><ellipse cx="1570.15" cy="1704.6" rx="1.08" ry="1.25" fill="#a900b4"/><ellipse cx="1576.07" cy="1704.6" rx="1.02" ry="1.18" fill="#ae00ae"/><ellipse cx="1581.98" cy="1704.6" rx="1.05" ry="1.22" fill="#b400a7"/><ellipse cx="1587.9" cy="1704.6" rx="0.94" ry="1.09" fill="#b100aa"/><ellipse cx="1593.81" cy="1704.6" rx="1.01" ry="1.17" fill="#aa00b2"/><ellipse cx="1599.73" cy="1704.6" rx="1.01" ry="1.17" fill="#ac00b0"/><ellipse cx="1605.64" cy="1704.6" rx="0.94" ry="1.1" fill="#a800b5"/><ellipse cx="1611.56" cy="1704.6" rx="1.04" ry="1.21" fill="#a900b4"/><ellipse cx="1617.47" cy="1704.6" rx="0.96" ry="1.11" fill="#a900b3"/><ellipse cx="1623.38" cy="1704.6" rx="0.99" ry="1.15" fill="#a200bb"/><ellipse cx="1629.3" cy="1704.6" rx="1.87" ry="2.17" fill="#c2064f"/>
<ellipse cx="91.4" cy="1803.2" rx="1" ry="1.16" fill="#a300ba"/><ellipse cx="97.32" cy="1803.2" rx="1.8" ry="2.09" fill="#c2064f"/><ellipse cx="103.23" cy="1803.2" rx="1.11" ry="1.29" fill="#b800a2"/><ellipse cx="109.15" cy="1803.2" rx="0.93" ry="1.08" fill="#b100aa"/><ellipse cx="115.06" cy="1803.2" rx="1.01" ry="1.17" fill="#a400b9"/><ellipse cx="120.98" cy="1803.2" rx="0.98" ry="1.14" fill="#b200a9"/><ellipse cx="126.89" cy="1803.2" rx="0.91" ry="1.05" fill="#b900a0"/><ellipse cx="132.81" cy="1803.2" rx="0.99" ry="1.15" fill="#a300ba"/><ellipse cx="138.72" cy="1803.2" rx="0.89" ry="1.03" fill="#b400a7"/><ellipse cx="144.63" cy="1803.2" rx="1" ry="1.16" fill="#ab00b1"/><ellipse cx="150.55" cy="1803.2" rx="1.46" ry="1.7" fill="#c2064f"/><ellipse cx="156.47" cy="1803.2" rx="3.3" ry="3.83" fill="#ea004a"/><ellipse cx="162.38" cy="1803.2" rx="1.63" ry="1.89" fill="#c2064f"/><ellipse cx="168.3" cy="1803.2" rx="1.09" ry="1.27" fill="#a300ba"/><ellipse cx="174.21" cy="1803.2" rx="0.94" ry="1.09" fill="#a600b6"/><ellipse cx="180.12" cy="1803.2" rx="0.93" ry="1.08" fill="#b500a5"/><ellipse cx="186.04" cy="1803.2" rx="1.08" ry="1.25" fill="#b100aa"/><ellipse cx="191.96" cy="1803.2" rx="1.17" ry="1.36" fill="#a900b3"/><ellipse cx="197.87" cy="1803.2" rx="1.03" ry="1.2" fill="#aa00b2"/><ellipse cx="203.79" cy="1803.2" rx="1" ry="1.16" fill="#b100aa"/><ellipse cx="209.7" cy="1803.2" rx="1.08" ry="1.25" fill="#ab00b1"/><ellipse cx="215.62" cy="1803.2" rx="0.93" ry="1.08" fill="#a800b5"/><ellipse cx="221.53" cy="1803.2" rx="1.06" ry="1.22" fill="#b200a9"/><ellipse cx="227.44" cy="1803.2" rx="1.49" ry="1.73" fill="#c2064f"/><ellipse cx="233.36" cy="1803.2" rx="0.96" ry="1.11" fill="#a100bc"/><ellipse cx="239.28" cy="1803.2" rx="0.9" ry="1.05" fill="#a200bb"/><ellipse cx="245.19" cy="1803.2" rx="2.3" ry="2.67" fill="#e2005c"/><ellipse cx="251.11" cy="1803.2" rx="1.05" ry="1.22" fill="#a100bc"/><ellipse cx="257.02" cy="1803.2" rx="0.98" ry="1.13" fill="#b300a8"/><ellipse cx="262.94" cy="1803.2" rx="1.03" ry="1.2" fill="#b100ab"/><ellipse cx="268.85" cy="1803.2" rx="1.06" ry="1.23" fill="#ac00b0"/><ellipse cx="274.76" cy="1803.2" rx="1.04" ry="1.21" fill="#a700b6"/><ellipse cx="280.68" cy="1803.2" rx="1.08" ry="1.25" fill="#b200a9"/><ellipse cx="286.6" cy="1803.2" rx="1.44" ry="1.67" fill="#c2064f"/><ellipse cx="292.51" cy="1803.2" rx="0.89" ry="1.03" fill="#9f00be"/><ellipse cx="298.43" cy="1803.2" rx="1.5" ry="1.73" fill="#c2064f"/><ellipse cx="304.34" cy="1803.2" rx="1.05" ry="1.22" fill="#b800a1"/><ellipse cx="310.25" cy="1803.2" rx="2.11" ry="2.44" fill="#c2064f"/><ellipse cx="316.17" cy="1803.2" rx="3.3" ry="3.83" fill="#ea004a"/><ellipse cx="322.09" cy="1803.2" rx="1.89" ry="2.19" fill="#c2064f"/><ellipse cx="328" cy="1803.2" rx="1.42" ry="1.65" fill="#c2064f"/><ellipse cx="333.92" cy="1803.2" rx="1.01" ry="1.17" fill="#b400a7"/><ellipse cx="339.83" cy="1803.2" rx="2.3" ry="2.67" fill="#e2005c"/><ellipse cx="345.75" cy="1803.2" rx="1.8" ry="2.09" fill="#c2064f"/><ellipse cx="351.66" cy="1803.2" rx="1" ry="1.16" fill="#b400a6"/><ellipse cx="357.58" cy="1803.2" rx="1.01" ry="1.17" fill="#a200bb"/><ellipse cx="363.49" cy="1803.2" rx="1.5" ry="1.74" fill="#c2064f"/><ellipse cx="369.4" cy="1803.2" rx="1.56" ry="1.81" fill="#c2064f"/><ellipse cx="375.32" cy="1803.2" rx="2" ry="2.32" fill="#c2064f"/><ellipse cx="381.24" cy="1803.2" rx="1.01" ry="1.17" fill="#b700a3"/><ellipse cx="387.15" cy="1803.2" rx="1.13" ry="1.31" fill="#b700a3"/><ellipse cx="393.07" cy="1803.2" rx="0.91" ry="1.06" fill="#b900a1"/><ellipse cx="398.98" cy="1803.2" rx="1.05" ry="1.22" fill="#a700b5"/><ellipse cx="404.89" cy="1803.2" rx="1.04" ry="1.21" fill="#ae00ae"/><ellipse cx="410.81" cy="1803.2" rx="0.97" ry="1.13" fill="#a800b5"/><ellipse cx="416.73" cy="1803.2" rx="0.98" ry="1.14" fill="#a600b7"/><ellipse cx="422.64" cy="1803.2" rx="0.96" ry="1.11" fill="#9f00be"/><ellipse cx="428.56" cy="1803.2" rx="1.91" ry="2.22" fill="#c2064f"/><ellipse cx="434.47" cy="1803.2" rx="1.74" ry="2.01" fill="#c2064f"/><ellipse cx="440.38" cy="1803.2" rx="1.02" ry="1.18" fill="#a000bd"/><ellipse cx="446.3" cy="1803.2" rx="1.17" ry="1.35" fill="#b700a2"/><ellipse cx="452.22" cy="1803.2" rx="0.97" ry="1.13" fill="#a000be"/><ellipse cx="458.13" cy="1803.2" rx="1.09" ry="1.26" fill="#b700a3"/><ellipse cx="464.04" cy="1803.2" rx="1" ry="1.16" fill="#b000ab"/><ellipse cx="469.96" cy="1803.2" rx="1.08" ry="1.26" fill="#ab00b1"/><ellipse cx="475.88" cy="1803.2" rx="1.03" ry="1.19" fill="#b500a6"/><ellipse cx="481.79" cy="1803.2" rx="1.08" ry="1.25" fill="#a500b7"/><ellipse cx="487.71" cy="1803.2" rx="1.15" ry="1.33" fill="#ae00ae"/><ellipse cx="493.62" cy="1803.2" rx="1.03" ry="1.19" fill="#a700b5"/><ellipse cx="499.53" cy="1803.2" rx="1.11" ry="1.29" fill="#a600b7"/><ellipse cx="505.45" cy="1803.2" rx="0.95" ry="1.1" fill="#b700a3"/><ellipse cx="511.37" cy="1803.2" rx="1.06" ry="1.23" fill="#9e00bf"/><ellipse cx="517.28" cy="1803.2" rx="1.03" ry="1.2" fill="#9f00bf"/><ellipse cx="523.2" cy="1803.2" rx="1.1" ry="1.27" fill="#a000bd"/><ellipse cx="529.11" cy="1803.2" rx="1.08" ry="1.26" fill="#a800b4"/><ellipse cx="535.02" cy="1803.2" rx="0.98" ry="1.13" fill="#b100aa"/><ellipse cx="540.94" cy="1803.2" rx="1.02" ry="1.19" fill="#b200aa"/><ellipse cx="546.86" cy="1803.2" rx="1.05" ry="1.22" fill="#b100aa"/><ellipse cx="552.77" cy="1803.2" rx="0.93" ry="1.08" fill="#a100bc"/><ellipse cx="558.69" cy="1803.2" rx="1.03" ry="1.19" fill="#a700b6"/><ellipse cx="564.6" cy="1803.2" rx="0.97" ry="1.13" fill="#b300a8"/><ellipse cx="570.51" cy="1803.2" rx="0.92" ry="1.07" fill="#aa00b2"/><ellipse cx="576.43" cy="1803.2" rx="0.93" ry="1.08" fill="#a600b7"/><ellipse cx="582.35" cy="1803.2" rx="1.04" ry="1.21" fill="#9e00bf"/><ellipse cx="588.26" cy="1803.2" rx="1" ry="1.15" fill="#b300a8"/><ellipse cx="594.17" cy="1803.2" rx="0.97" ry="1.12" fill="#b100aa"/><ellipse cx="600.09" cy="1803.2" rx="0.98" ry="1.14" fill="#b200a9"/><ellipse cx="606" cy="1803.2" rx="1.16" ry="1.35" fill="#b400a7"/><ellipse cx="611.92" cy="1803.2" rx="0.93" ry="1.08" fill="#b900a0"/><ellipse cx="617.84" cy="1803.2" rx="1.06" ry="1.23" fill="#9e00bf"/><ellipse cx="623.75" cy="1803.2" rx="1.03" ry="1.2" fill="#ab00b1"/><ellipse cx="629.66" cy="1803.2" rx="1.45" ry="1.68" fill="#c2064f"/><ellipse cx="635.58" cy="1803.2" rx="1.52" ry="1.77" fill="#c2064f"/><ellipse cx="641.5" cy="1803.2" rx="1.43" ry="1.65" fill="#c2064f"/><ellipse cx="647.41" cy="1803.2" rx="1.01" ry="1.17" fill="#b600a4"/><ellipse cx="653.32" cy="1803.2" rx="0.97" ry="1.12" fill="#b200a9"/><ellipse cx="659.24" cy="1803.2" rx="1.45" ry="1.68" fill="#c2064f"/><ellipse cx="665.15" cy="1803.2" rx="1.13" ry="1.31" fill="#b200a9"/><ellipse cx="671.07" cy="1803.2" rx="1.18" ry="1.37" fill="#b500a6"/><ellipse cx="676.99" cy="1803.2" rx="0.94" ry="1.09" fill="#b300a8"/><ellipse cx="682.9" cy="1803.2" rx="1.52" ry="1.76" fill="#c2064f"/><ellipse cx="688.81" cy="1803.2" rx="0.99" ry="1.15" fill="#aa00b3"/><ellipse cx="694.73" cy="1803.2" rx="0.95" ry="1.1" fill="#a400b9"/><ellipse cx="700.64" cy="1803.2" rx="1" ry="1.16" fill="#b500a6"/><ellipse cx="706.56" cy="1803.2" rx="1.01" ry="1.17" fill="#a400b9"/><ellipse cx="712.48" cy="1803.2" rx="0.95" ry="1.1" fill="#a200bb"/><ellipse cx="718.39" cy="1803.2" rx="0.94" ry="1.09" fill="#af00ad"/><ellipse cx="724.3" cy="1803.2" rx="1.03" ry="1.19" fill="#b700a2"/><ellipse cx="730.22" cy="1803.2" rx="1" ry="1.16" fill="#9e00bf"/><ellipse cx="736.13" cy="1803.2" rx="1.01" ry="1.17" fill="#ad00af"/><ellipse cx="742.05" cy="1803.2" rx="1.15" ry="1.34" fill="#b800a2"/><ellipse cx="747.97" cy="1803.2" rx="1.7" ry="1.98" fill="#c2064f"/><ellipse cx="753.88" cy="1803.2" rx="1.63" ry="1.9" fill="#c2064f"/><ellipse cx="759.79" cy="1803.2" rx="1.72" ry="2" fill="#c2064f"/><ellipse cx="765.71" cy="1803.2" rx="1.8" ry="2.09" fill="#c2064f"/><ellipse cx="771.62" cy="1803.2" rx="0.92" ry="1.06" fill="#b800a1"/><ellipse cx="777.54" cy="1803.2" rx="1.16" ry="1.35" fill="#af00ad"/><ellipse cx="783.45" cy="1803.2" rx="1.09" ry="1.26" fill="#a100bc"/><ellipse cx="789.37" cy="1803.2" rx="1.07" ry="1.24" fill="#9e00bf"/><ellipse cx="795.28" cy="1803.2" rx="1.11" ry="1.28" fill="#b200a9"/><ellipse cx="801.2" cy="1803.2" rx="1.71" ry="1.98" fill="#c2064f"/><ellipse cx="807.12" cy="1803.2" rx="1.62" ry="1.88" fill="#c2064f"/><ellipse cx="813.03" cy="1803.2" rx="0.99" ry="1.15" fill="#a900b3"/><ellipse cx="818.94" cy="1803.2" rx="1.02" ry="1.18" fill="#9e00bf"/><ellipse cx="824.86" cy="1803.2" rx="0.91" ry="1.06" fill="#ad00af"/><ellipse cx="830.77" cy="1803.2" rx="0.98" ry="1.14" fill="#a600b7"/><ellipse cx="836.69" cy="1803.2" rx="0.94" ry="1.09" fill="#b300a8"/><ellipse cx="842.61" cy="1803.2" rx="1.67" ry="1.94" fill="#c2064f"/><ellipse cx="848.52" cy="1803.2" rx="1" ry="1.16" fill="#a100bc"/><ellipse cx="854.43" cy="1803.2" rx="0.96" ry="1.12" fill="#b800a2"/><ellipse cx="860.35" cy="1803.2" rx="0.94" ry="1.09" fill="#b800a1"/><ellipse cx="866.26" cy="1803.2" rx="3.95" ry="4.58" fill="#f0003d"/><ellipse cx="872.18" cy="1803.2" rx="0.93" ry="1.07" fill="#9d00c0"/><ellipse cx="878.1" cy="1803.2" rx="0.98" ry="1.14" fill="#b700a3"/><ellipse cx="884.01" cy="1803.2" rx="0.92" ry="1.07" fill="#a300ba"/><ellipse cx="889.92" cy="1803.2" rx="1.07" ry="1.25" fill="#a200bb"/><ellipse cx="895.84" cy="1803.2" rx="1.05" ry="1.22" fill="#b800a2"/><ellipse cx="901.75" cy="1803.2" rx="0.99" ry="1.15" fill="#b400a7"/><ellipse cx="907.67" cy="1803.2" rx="1" ry="1.16" fill="#a300ba"/><ellipse cx="913.59" cy="1803.2" rx="1.02" ry="1.19" fill="#a400b9"/><ellipse cx="919.5" cy="1803.2" rx="1" ry="1.16" fill="#9d00c0"/><ellipse cx="925.41" cy="1803.2" rx="0.98" ry="1.14" fill="#a100bc"/><ellipse cx="931.33" cy="1803.2" rx="1.12" ry="1.3" fill="#b100aa"/><ellipse cx="937.25" cy="1803.2" rx="1.15" ry="1.34" fill="#b100aa"/><ellipse cx="943.16" cy="1803.2" rx="1.57" ry="1.82" fill="#c2064f"/><ellipse cx="949.07" cy="1803.2" rx="1.06" ry="1.23" fill="#b800a1"/><ellipse cx="954.99" cy="1803.2" rx="1.63" ry="1.89" fill="#c2064f"/><ellipse cx="960.9" cy="1803.2" rx="0.99" ry="1.15" fill="#b600a4"/><ellipse cx="966.82" cy="1803.2" rx="0.95" ry="1.1" fill="#b100aa"/><ellipse cx="972.74" cy="1803.2" rx="1.75" ry="2.03" fill="#c2064f"/><ellipse cx="978.65" cy="1803.2" rx="1.06" ry="1.23" fill="#b100aa"/><ellipse cx="984.56" cy="1803.2" rx="1.96" ry="2.28" fill="#c2064f"/><ellipse cx="990.48" cy="1803.2" rx="1.57" ry="1.83" fill="#c2064f"/><ellipse cx="996.39" cy="1803.2" rx="1.08" ry="1.25" fill="#b800a1"/><ellipse cx="1002.31" cy="1803.2" rx="0.99" ry="1.15" fill="#9e00bf"/><ellipse cx="1008.23" cy="1803.2" rx="4.48" ry="5.2" fill="#f30034"/><ellipse cx="1014.14" cy="1803.2" rx="0.99" ry="1.15" fill="#a100bd"/><ellipse cx="1020.05" cy="1803.2" rx="2.51" ry="2.91" fill="#e2005c"/><ellipse cx="1025.97" cy="1803.2" rx="1.09" ry="1.26" fill="#b600a5"/><ellipse cx="1031.88" cy="1803.2" rx="3.5" ry="4.06" fill="#ec0046"/><ellipse cx="1037.8" cy="1803.2" rx="3.04" ry="3.53" fill="#e80050"/><ellipse cx="1043.72" cy="1803.2" rx="1.59" ry="1.84" fill="#c2064f"/><ellipse cx="1049.63" cy="1803.2" rx="1.43" ry="1.66" fill="#c2064f"/><ellipse cx="1055.55" cy="1803.2" rx="1.54" ry="1.79" fill="#c2064f"/><ellipse cx="1061.46" cy="1803.2" rx="0.98" ry="1.14" fill="#b300a8"/><ellipse cx="1067.38" cy="1803.2" rx="1.06" ry="1.24" fill="#b900a0"/><ellipse cx="1073.29" cy="1803.2" rx="1.06" ry="1.23" fill="#b200aa"/><ellipse cx="1079.2" cy="1803.2" rx="1.07" ry="1.24" fill="#a900b3"/><ellipse cx="1085.12" cy="1803.2" rx="1.02" ry="1.18" fill="#ad00af"/><ellipse cx="1091.04" cy="1803.2" rx="0.97" ry="1.12" fill="#b800a2"/><ellipse cx="1096.95" cy="1803.2" rx="1.09" ry="1.26" fill="#b600a4"/><ellipse cx="1102.87" cy="1803.2" rx="1.09" ry="1.26" fill="#ad00af"/><ellipse cx="1108.78" cy="1803.2" rx="1.13" ry="1.31" fill="#9d00c0"/><ellipse cx="1114.69" cy="1803.2" rx="1.12" ry="1.3" fill="#a600b7"/><ellipse cx="1120.61" cy="1803.2" rx="1.11" ry="1.29" fill="#b000ac"/><ellipse cx="1126.53" cy="1803.2" rx="1.52" ry="1.76" fill="#c2064f"/><ellipse cx="1132.44" cy="1803.2" rx="1.01" ry="1.17" fill="#a400b9"/><ellipse cx="1138.36" cy="1803.2" rx="1" ry="1.16" fill="#ab00b2"/><ellipse cx="1144.27" cy="1803.2" rx="0.95" ry="1.11" fill="#a000bd"/><ellipse cx="1150.19" cy="1803.2" rx="0.95" ry="1.1" fill="#a000bd"/><ellipse cx="1156.1" cy="1803.2" rx="0.93" ry="1.08" fill="#b700a3"/><ellipse cx="1162.02" cy="1803.2" rx="1.59" ry="1.84" fill="#c2064f"/><ellipse cx="1167.93" cy="1803.2" rx="1.01" ry="1.17" fill="#b500a5"/><ellipse cx="1173.85" cy="1803.2" rx="1.04" ry="1.2" fill="#9f00be"/><ellipse cx="1179.76" cy="1803.2" rx="1.16" ry="1.35" fill="#b600a4"/><ellipse cx="1185.68" cy="1803.2" rx="1.05" ry="1.22" fill="#b200a9"/><ellipse cx="1191.59" cy="1803.2" rx="1.13" ry="1.31" fill="#b900a1"/><ellipse cx="1197.51" cy="1803.2" rx="1.16" ry="1.35" fill="#b400a7"/><ellipse cx="1203.42" cy="1803.2" rx="2.13" ry="2.47" fill="#c2064f"/><ellipse cx="1209.34" cy="1803.2" rx="1.04" ry="1.21" fill="#9e00bf"/><ellipse cx="1215.25" cy="1803.2" rx="0.99" ry="1.15" fill="#af00ad"/><ellipse cx="1221.17" cy="1803.2" rx="0.92" ry="1.07" fill="#a500b8"/><ellipse cx="1227.08" cy="1803.2" rx="0.98" ry="1.14" fill="#ad00af"/><ellipse cx="1233" cy="1803.2" rx="0.97" ry="1.13" fill="#a600b7"/><ellipse cx="1238.91" cy="1803.2" rx="1.06" ry="1.23" fill="#b700a3"/><ellipse cx="1244.83" cy="1803.2" rx="1.17" ry="1.36" fill="#ae00ae"/><ellipse cx="1250.74" cy="1803.2" rx="1.13" ry="1.31" fill="#9f00be"/><ellipse cx="1256.66" cy="1803.2" rx="0.99" ry="1.15" fill="#ae00ae"/><ellipse cx="1262.57" cy="1803.2" rx="1.1" ry="1.27" fill="#a000bd"/><ellipse cx="1268.49" cy="1803.2" rx="1.06" ry="1.23" fill="#ac00b0"/><ellipse cx="1274.4" cy="1803.2" rx="0.92" ry="1.07" fill="#a100bc"/><ellipse cx="1280.32" cy="1803.2" rx="1.03" ry="1.19" fill="#aa00b2"/><ellipse cx="1286.23" cy="1803.2" rx="1.15" ry="1.34" fill="#a200bb"/><ellipse cx="1292.15" cy="1803.2" rx="1.13" ry="1.31" fill="#9f00be"/><ellipse cx="1298.06" cy="1803.2" rx="1.06" ry="1.23" fill="#b100aa"/><ellipse cx="1303.98" cy="1803.2" rx="2.05" ry="2.38" fill="#c2064f"/><ellipse cx="1309.89" cy="1803.2" rx="0.91" ry="1.06" fill="#a700b6"/><ellipse cx="1315.81" cy="1803.2" rx="1.06" ry="1.22" fill="#a400b9"/><ellipse cx="1321.72" cy="1803.2" rx="1.03" ry="1.2" fill="#a200bb"/><ellipse cx="1327.63" cy="1803.2" rx="1.12" ry="1.3" fill="#b800a2"/><ellipse cx="1333.55" cy="1803.2" rx="1.1" ry="1.28" fill="#b600a4"/><ellipse cx="1339.47" cy="1803.2" rx="0.99" ry="1.15" fill="#b400a7"/><ellipse cx="1345.38" cy="1803.2" rx="1.02" ry="1.18" fill="#a800b5"/><ellipse cx="1351.3" cy="1803.2" rx="1.17" ry="1.36" fill="#b200a9"/><ellipse cx="1357.21" cy="1803.2" rx="1.06" ry="1.23" fill="#ae00ad"/><ellipse cx="1363.12" cy="1803.2" rx="0.94" ry="1.09" fill="#a600b7"/><ellipse cx="1369.04" cy="1803.2" rx="0.99" ry="1.15" fill="#b900a0"/><ellipse cx="1374.96" cy="1803.2" rx="4.18" ry="4.85" fill="#f10039"/><ellipse cx="1380.87" cy="1803.2" rx="1.08" ry="1.25" fill="#b800a2"/><ellipse cx="1386.79" cy="1803.2" rx="1.85" ry="2.15" fill="#c2064f"/><ellipse cx="1392.7" cy="1803.2" rx="0.91" ry="1.05" fill="#a000bd"/><ellipse cx="1398.62" cy="1803.2" rx="1.09" ry="1.27" fill="#b700a3"/><ellipse cx="1404.53" cy="1803.2" rx="1.18" ry="1.37" fill="#a500b8"/><ellipse cx="1410.45" cy="1803.2" rx="1.79" ry="2.07" fill="#c2064f"/><ellipse cx="1416.36" cy="1803.2" rx="1.04" ry="1.21" fill="#a300ba"/><ellipse cx="1422.28" cy="1803.2" rx="1.61" ry="1.86" fill="#c2064f"/><ellipse cx="1428.19" cy="1803.2" rx="1.68" ry="1.95" fill="#c2064f"/><ellipse cx="1434.11" cy="1803.2" rx="0.94" ry="1.09" fill="#b700a3"/><ellipse cx="1440.02" cy="1803.2" rx="1.18" ry="1.36" fill="#9d00c0"/><ellipse cx="1445.94" cy="1803.2" rx="1.03" ry="1.19" fill="#a100bc"/><ellipse cx="1451.85" cy="1803.2" rx="1.05" ry="1.21" fill="#a900b3"/><ellipse cx="1457.77" cy="1803.2" rx="1.17" ry="1.36" fill="#b000ac"/><ellipse cx="1463.68" cy="1803.2" rx="1.03" ry="1.19" fill="#b200aa"/><ellipse cx="1469.6" cy="1803.2" rx="1.08" ry="1.25" fill="#b700a3"/><ellipse cx="1475.51" cy="1803.2" rx="1.14" ry="1.32" fill="#b500a5"/><ellipse cx="1481.43" cy="1803.2" rx="0.99" ry="1.15" fill="#a200bb"/><ellipse cx="1487.34" cy="1803.2" rx="0.93" ry="1.08" fill="#a800b4"/><ellipse cx="1493.26" cy="1803.2" rx="1.96" ry="2.27" fill="#c2064f"/><ellipse cx="1499.17" cy="1803.2" rx="0.94" ry="1.09" fill="#b600a3"/><ellipse cx="1505.09" cy="1803.2" rx="1.09" ry="1.26" fill="#b200a9"/><ellipse cx="1511" cy="1803.2" rx="0.98" ry="1.13" fill="#a100bc"/><ellipse cx="1516.92" cy="1803.2" rx="1.04" ry="1.21" fill="#a200bb"/><ellipse cx="1522.83" cy="1803.2" rx="0.95" ry="1.1" fill="#b400a7"/><ellipse cx="1528.75" cy="1803.2" rx="1.14" ry="1.32" fill="#a400b9"/><ellipse cx="1534.66" cy="1803.2" rx="1.04" ry="1.2" fill="#a700b6"/><ellipse cx="1540.58" cy="1803.2" rx="1.01" ry="1.17" fill="#aa00b2"/><ellipse cx="1546.49" cy="1803.2" rx="5.62" ry="6.52" fill="#f90022"/><ellipse cx="1552.41" cy="1803.2" rx="1.14" ry="1.32" fill="#9e00bf"/><ellipse cx="1558.32" cy="1803.2" rx="1.03" ry="1.19" fill="#ac00b0"/><ellipse cx="1564.24" cy="1803.2" rx="1.16" ry="1.34" fill="#a800b4"/><ellipse cx="1570.15" cy="1803.2" rx="1.04" ry="1.2" fill="#b900a0"/><ellipse cx="1576.07" cy="1803.2" rx="0.99" ry="1.15" fill="#b400a6"/><ellipse cx="1581.98" cy="1803.2" rx="1.03" ry="1.2" fill="#a600b7"/><ellipse cx="1587.9" cy="1803.2" rx="0.9" ry="1.05" fill="#a400b9"/><ellipse cx="1593.81" cy="1803.2" rx="1.05" ry="1.22" fill="#a300ba"/><ellipse cx="1599.73" cy="1803.2" rx="1" ry="1.17" fill="#ad00af"/><ellipse cx="1605.64" cy="1803.2" rx="0.9" ry="1.05" fill="#b400a6"/><ellipse cx="1611.56" cy="1803.2" rx="1.1" ry="1.28" fill="#b700a3"/><ellipse cx="1617.47" cy="1803.2" rx="0.92" ry="1.07" fill="#b200a9"/><ellipse cx="1623.38" cy="1803.2" rx="0.98" ry="1.13" fill="#a200bb"/><ellipse cx="1629.3" cy="1803.2" rx="1.98" ry="2.29" fill="#c2064f"/>
<ellipse cx="91.4" cy="1901.9" rx="0.96" ry="1.11" fill="#b000ac"/><ellipse cx="97.32" cy="1901.9" rx="2" ry="2.32" fill="#c2064f"/><ellipse cx="103.23" cy="1901.9" rx="1.03" ry="1.19" fill="#b200a9"/><ellipse cx="109.15" cy="1901.9" rx="0.95" ry="1.1" fill="#a900b4"/><ellipse cx="115.06" cy="1901.9" rx="1.42" ry="1.65" fill="#c2064f"/><ellipse cx="120.98" cy="1901.9" rx="1.41" ry="1.64" fill="#c2064f"/><ellipse cx="126.89" cy="1901.9" rx="0.89" ry="1.03" fill="#ad00af"/><ellipse cx="132.81" cy="1901.9" rx="1.04" ry="1.21" fill="#ad00af"/><ellipse cx="138.72" cy="1901.9" rx="0.96" ry="1.12" fill="#b300a8"/><ellipse cx="144.63" cy="1901.9" rx="1" ry="1.16" fill="#a400b9"/><ellipse cx="150.55" cy="1901.9" rx="1.42" ry="1.65" fill="#c2064f"/><ellipse cx="156.47" cy="1901.9" rx="3.3" ry="3.83" fill="#ea004a"/><ellipse cx="162.38" cy="1901.9" rx="1.67" ry="1.94" fill="#c2064f"/><ellipse cx="168.3" cy="1901.9" rx="1.12" ry="1.3" fill="#af00ac"/><ellipse cx="174.21" cy="1901.9" rx="0.94" ry="1.09" fill="#ac00b0"/><ellipse cx="180.12" cy="1901.9" rx="0.94" ry="1.09" fill="#ad00af"/><ellipse cx="186.04" cy="1901.9" rx="1.02" ry="1.18" fill="#b000ac"/><ellipse cx="191.96" cy="1901.9" rx="1.14" ry="1.33" fill="#b100aa"/><ellipse cx="197.87" cy="1901.9" rx="1.02" ry="1.18" fill="#9f00be"/><ellipse cx="203.79" cy="1901.9" rx="0.99" ry="1.15" fill="#b200aa"/><ellipse cx="209.7" cy="1901.9" rx="1.14" ry="1.32" fill="#b300a8"/><ellipse cx="215.62" cy="1901.9" rx="0.92" ry="1.07" fill="#a900b3"/><ellipse cx="221.53" cy="1901.9" rx="1.15" ry="1.34" fill="#a200bb"/><ellipse cx="227.44" cy="1901.9" rx="1.53" ry="1.78" fill="#c2064f"/><ellipse cx="233.36" cy="1901.9" rx="0.96" ry="1.11" fill="#b000ab"/><ellipse cx="239.28" cy="1901.9" rx="0.94" ry="1.09" fill="#ae00ae"/><ellipse cx="245.19" cy="1901.9" rx="2.8" ry="3.25" fill="#e50057"/><ellipse cx="251.11" cy="1901.9" rx="1.09" ry="1.27" fill="#b100aa"/><ellipse cx="257.02" cy="1901.9" rx="1" ry="1.16" fill="#b500a5"/><ellipse cx="262.94" cy="1901.9" rx="1.06" ry="1.23" fill="#ab00b1"/><ellipse cx="268.85" cy="1901.9" rx="1.11" ry="1.29" fill="#ab00b2"/><ellipse cx="274.76" cy="1901.9" rx="1.01" ry="1.18" fill="#b600a3"/><ellipse cx="280.68" cy="1901.9" rx="1.06" ry="1.23" fill="#a900b4"/><ellipse cx="286.6" cy="1901.9" rx="0.96" ry="1.11" fill="#af00ac"/><ellipse cx="292.51" cy="1901.9" rx="0.97" ry="1.13" fill="#b000ac"/><ellipse cx="298.43" cy="1901.9" rx="1.61" ry="1.86" fill="#c2064f"/><ellipse cx="304.34" cy="1901.9" rx="1.12" ry="1.3" fill="#ad00af"/><ellipse cx="310.25" cy="1901.9" rx="1.97" ry="2.29" fill="#c2064f"/><ellipse cx="316.17" cy="1901.9" rx="3.8" ry="4.41" fill="#ef0040"/><ellipse cx="322.09" cy="1901.9" rx="1.91" ry="2.22" fill="#c2064f"/><ellipse cx="328" cy="1901.9" rx="1.59" ry="1.85" fill="#c2064f"/><ellipse cx="333.92" cy="1901.9" rx="0.95" ry="1.11" fill="#9f00be"/><ellipse cx="339.83" cy="1901.9" rx="2.6" ry="3.02" fill="#e2005c"/><ellipse cx="345.75" cy="1901.9" rx="1.8" ry="2.09" fill="#c2064f"/><ellipse cx="351.66" cy="1901.9" rx="1.01" ry="1.17" fill="#b700a3"/><ellipse cx="357.58" cy="1901.9" rx="1.03" ry="1.2" fill="#a500b8"/><ellipse cx="363.49" cy="1901.9" rx="1.8" ry="2.09" fill="#c2064f"/><ellipse cx="369.4" cy="1901.9" rx="1.54" ry="1.78" fill="#c2064f"/><ellipse cx="375.32" cy="1901.9" rx="2.3" ry="2.67" fill="#e2005c"/><ellipse cx="381.24" cy="1901.9" rx="1.03" ry="1.19" fill="#a300ba"/><ellipse cx="387.15" cy="1901.9" rx="1.13" ry="1.31" fill="#b100aa"/><ellipse cx="393.07" cy="1901.9" rx="0.92" ry="1.07" fill="#aa00b3"/><ellipse cx="398.98" cy="1901.9" rx="0.98" ry="1.13" fill="#ac00b1"/><ellipse cx="404.89" cy="1901.9" rx="1.06" ry="1.23" fill="#9f00be"/><ellipse cx="410.81" cy="1901.9" rx="0.94" ry="1.09" fill="#a100bc"/><ellipse cx="416.73" cy="1901.9" rx="0.99" ry="1.15" fill="#a100bc"/><ellipse cx="422.64" cy="1901.9" rx="0.92" ry="1.07" fill="#a700b6"/><ellipse cx="428.56" cy="1901.9" rx="1.86" ry="2.15" fill="#c2064f"/><ellipse cx="434.47" cy="1901.9" rx="1.78" ry="2.06" fill="#c2064f"/><ellipse cx="440.38" cy="1901.9" rx="1.02" ry="1.18" fill="#a300ba"/><ellipse cx="446.3" cy="1901.9" rx="1.09" ry="1.26" fill="#b300a8"/><ellipse cx="452.22" cy="1901.9" rx="0.96" ry="1.11" fill="#ab00b1"/><ellipse cx="458.13" cy="1901.9" rx="1.11" ry="1.28" fill="#b500a5"/><ellipse cx="464.04" cy="1901.9" rx="1.05" ry="1.21" fill="#b600a4"/><ellipse cx="469.96" cy="1901.9" rx="1.06" ry="1.23" fill="#a400b9"/><ellipse cx="475.88" cy="1901.9" rx="0.98" ry="1.14" fill="#a200bb"/><ellipse cx="481.79" cy="1901.9" rx="1.14" ry="1.32" fill="#a900b4"/><ellipse cx="487.71" cy="1901.9" rx="1.17" ry="1.35" fill="#b900a0"/><ellipse cx="493.62" cy="1901.9" rx="1.07" ry="1.24" fill="#ab00b1"/><ellipse cx="499.53" cy="1901.9" rx="1.01" ry="1.18" fill="#a500b7"/><ellipse cx="505.45" cy="1901.9" rx="0.91" ry="1.05" fill="#b100ab"/><ellipse cx="511.37" cy="1901.9" rx="1.1" ry="1.27" fill="#b800a2"/><ellipse cx="517.28" cy="1901.9" rx="1.08" ry="1.26" fill="#b900a0"/><ellipse cx="523.2" cy="1901.9" rx="1.15" ry="1.34" fill="#ac00b1"/><ellipse cx="529.11" cy="1901.9" rx="1.14" ry="1.32" fill="#a500b7"/><ellipse cx="535.02" cy="1901.9" rx="1.01" ry="1.17" fill="#b300a8"/><ellipse cx="540.94" cy="1901.9" rx="1.04" ry="1.21" fill="#9e00bf"/><ellipse cx="546.86" cy="1901.9" rx="1.03" ry="1.2" fill="#b900a1"/><ellipse cx="552.77" cy="1901.9" rx="0.89" ry="1.03" fill="#ab00b1"/><ellipse cx="558.69" cy="1901.9" rx="1.03" ry="1.2" fill="#ac00b0"/><ellipse cx="564.6" cy="1901.9" rx="0.99" ry="1.15" fill="#b900a1"/><ellipse cx="570.51" cy="1901.9" rx="0.93" ry="1.08" fill="#a100bc"/><ellipse cx="576.43" cy="1901.9" rx="0.97" ry="1.13" fill="#ab00b1"/><ellipse cx="582.35" cy="1901.9" rx="1.06" ry="1.23" fill="#a100bc"/><ellipse cx="588.26" cy="1901.9" rx="0.9" ry="1.05" fill="#af00ad"/><ellipse cx="594.17" cy="1901.9" rx="0.95" ry="1.11" fill="#ae00ae"/><ellipse cx="600.09" cy="1901.9" rx="1.05" ry="1.22" fill="#ac00b0"/><ellipse cx="606" cy="1901.9" rx="1.16" ry="1.35" fill="#9f00be"/><ellipse cx="611.92" cy="1901.9" rx="0.96" ry="1.12" fill="#b300a7"/><ellipse cx="617.84" cy="1901.9" rx="1.07" ry="1.24" fill="#9d00c0"/><ellipse cx="623.75" cy="1901.9" rx="1.04" ry="1.21" fill="#ae00ae"/><ellipse cx="629.66" cy="1901.9" rx="1.52" ry="1.76" fill="#c2064f"/><ellipse cx="635.58" cy="1901.9" rx="1.49" ry="1.73" fill="#c2064f"/><ellipse cx="641.5" cy="1901.9" rx="1.45" ry="1.68" fill="#c2064f"/><ellipse cx="647.41" cy="1901.9" rx="1.02" ry="1.18" fill="#b700a3"/><ellipse cx="653.32" cy="1901.9" rx="1.03" ry="1.2" fill="#b900a0"/><ellipse cx="659.24" cy="1901.9" rx="1.51" ry="1.75" fill="#c2064f"/><ellipse cx="665.15" cy="1901.9" rx="1.07" ry="1.24" fill="#b200a9"/><ellipse cx="671.07" cy="1901.9" rx="1.09" ry="1.26" fill="#b300a7"/><ellipse cx="676.99" cy="1901.9" rx="0.97" ry="1.12" fill="#a300ba"/><ellipse cx="682.9" cy="1901.9" rx="1.52" ry="1.77" fill="#c2064f"/><ellipse cx="688.81" cy="1901.9" rx="0.93" ry="1.08" fill="#a200bb"/><ellipse cx="694.73" cy="1901.9" rx="1.02" ry="1.18" fill="#a400b9"/><ellipse cx="700.64" cy="1901.9" rx="1.07" ry="1.24" fill="#a100bc"/><ellipse cx="706.56" cy="1901.9" rx="1.03" ry="1.2" fill="#ab00b1"/><ellipse cx="712.48" cy="1901.9" rx="0.96" ry="1.12" fill="#b900a0"/><ellipse cx="718.39" cy="1901.9" rx="0.9" ry="1.04" fill="#ac00b0"/><ellipse cx="724.3" cy="1901.9" rx="0.98" ry="1.14" fill="#a000bd"/><ellipse cx="730.22" cy="1901.9" rx="1.02" ry="1.18" fill="#a700b5"/><ellipse cx="736.13" cy="1901.9" rx="1.04" ry="1.21" fill="#b200a9"/><ellipse cx="742.05" cy="1901.9" rx="1.08" ry="1.26" fill="#9e00bf"/><ellipse cx="747.97" cy="1901.9" rx="1.74" ry="2.02" fill="#c2064f"/><ellipse cx="753.88" cy="1901.9" rx="1.82" ry="2.11" fill="#c2064f"/><ellipse cx="759.79" cy="1901.9" rx="1.59" ry="1.84" fill="#c2064f"/><ellipse cx="765.71" cy="1901.9" rx="1.69" ry="1.96" fill="#c2064f"/><ellipse cx="771.62" cy="1901.9" rx="0.98" ry="1.13" fill="#b600a5"/><ellipse cx="777.54" cy="1901.9" rx="1.17" ry="1.36" fill="#ad00af"/><ellipse cx="783.45" cy="1901.9" rx="1.14" ry="1.33" fill="#9e00bf"/><ellipse cx="789.37" cy="1901.9" rx="1.11" ry="1.29" fill="#b600a4"/><ellipse cx="795.28" cy="1901.9" rx="1.08" ry="1.26" fill="#ab00b2"/><ellipse cx="801.2" cy="1901.9" rx="1.59" ry="1.84" fill="#c2064f"/><ellipse cx="807.12" cy="1901.9" rx="1.57" ry="1.82" fill="#c2064f"/><ellipse cx="813.03" cy="1901.9" rx="0.97" ry="1.13" fill="#b900a0"/><ellipse cx="818.94" cy="1901.9" rx="1.03" ry="1.2" fill="#a700b6"/><ellipse cx="824.86" cy="1901.9" rx="0.96" ry="1.12" fill="#b300a8"/><ellipse cx="830.77" cy="1901.9" rx="0.96" ry="1.12" fill="#b100aa"/><ellipse cx="836.69" cy="1901.9" rx="1.01" ry="1.17" fill="#b600a4"/><ellipse cx="842.61" cy="1901.9" rx="1.73" ry="2.01" fill="#c2064f"/><ellipse cx="848.52" cy="1901.9" rx="0.97" ry="1.13" fill="#9f00be"/><ellipse cx="854.43" cy="1901.9" rx="0.97" ry="1.12" fill="#b600a4"/><ellipse cx="860.35" cy="1901.9" rx="0.96" ry="1.11" fill="#a500b8"/><ellipse cx="866.26" cy="1901.9" rx="4.68" ry="5.43" fill="#f40031"/><ellipse cx="872.18" cy="1901.9" rx="0.96" ry="1.12" fill="#b800a1"/><ellipse cx="878.1" cy="1901.9" rx="0.97" ry="1.13" fill="#9d00c0"/><ellipse cx="884.01" cy="1901.9" rx="0.9" ry="1.04" fill="#a400b9"/><ellipse cx="889.92" cy="1901.9" rx="1.13" ry="1.31" fill="#b500a5"/><ellipse cx="895.84" cy="1901.9" rx="1.09" ry="1.26" fill="#b200a9"/><ellipse cx="901.75" cy="1901.9" rx="1" ry="1.16" fill="#b900a0"/><ellipse cx="907.67" cy="1901.9" rx="0.97" ry="1.12" fill="#b800a2"/><ellipse cx="913.59" cy="1901.9" rx="1.02" ry="1.18" fill="#a400b8"/><ellipse cx="919.5" cy="1901.9" rx="1.01" ry="1.17" fill="#a200bb"/><ellipse cx="925.41" cy="1901.9" rx="0.94" ry="1.09" fill="#b500a5"/><ellipse cx="931.33" cy="1901.9" rx="1.05" ry="1.22" fill="#ad00af"/><ellipse cx="937.25" cy="1901.9" rx="1.13" ry="1.31" fill="#a600b7"/><ellipse cx="943.16" cy="1901.9" rx="1.5" ry="1.74" fill="#c2064f"/><ellipse cx="949.07" cy="1901.9" rx="1.03" ry="1.19" fill="#a700b5"/><ellipse cx="954.99" cy="1901.9" rx="1.51" ry="1.75" fill="#c2064f"/><ellipse cx="960.9" cy="1901.9" rx="0.93" ry="1.08" fill="#b100aa"/><ellipse cx="966.82" cy="1901.9" rx="0.95" ry="1.11" fill="#b400a6"/><ellipse cx="972.74" cy="1901.9" rx="2.07" ry="2.4" fill="#c2064f"/><ellipse cx="978.65" cy="1901.9" rx="1.06" ry="1.23" fill="#ab00b1"/><ellipse cx="984.56" cy="1901.9" rx="1.96" ry="2.28" fill="#c2064f"/><ellipse cx="990.48" cy="1901.9" rx="1.58" ry="1.83" fill="#c2064f"/><ellipse cx="996.39" cy="1901.9" rx="1.17" ry="1.36" fill="#b300a8"/><ellipse cx="1002.31" cy="1901.9" rx="1.01" ry="1.18" fill="#a700b6"/><ellipse cx="1008.23" cy="1901.9" rx="5.31" ry="6.16" fill="#f70027"/><ellipse cx="1014.14" cy="1901.9" rx="1.07" ry="1.24" fill="#ad00b0"/><ellipse cx="1020.05" cy="1901.9" rx="2.97" ry="3.45" fill="#e70052"/><ellipse cx="1025.97" cy="1901.9" rx="1.05" ry="1.22" fill="#b300a8"/><ellipse cx="1031.88" cy="1901.9" rx="4.14" ry="4.8" fill="#f1003a"/><ellipse cx="1037.8" cy="1901.9" rx="3.6" ry="4.18" fill="#ed0044"/><ellipse cx="1043.72" cy="1901.9" rx="1.44" ry="1.66" fill="#c2064f"/><ellipse cx="1049.63" cy="1901.9" rx="1.48" ry="1.71" fill="#c2064f"/><ellipse cx="1055.55" cy="1901.9" rx="1.6" ry="1.85" fill="#c2064f"/><ellipse cx="1061.46" cy="1901.9" rx="0.94" ry="1.09" fill="#b600a4"/><ellipse cx="1067.38" cy="1901.9" rx="1.05" ry="1.22" fill="#9d00c0"/><ellipse cx="1073.29" cy="1901.9" rx="1.04" ry="1.2" fill="#a600b7"/><ellipse cx="1079.2" cy="1901.9" rx="1.1" ry="1.28" fill="#b400a7"/><ellipse cx="1085.12" cy="1901.9" rx="0.95" ry="1.1" fill="#ac00b0"/><ellipse cx="1091.04" cy="1901.9" rx="0.96" ry="1.11" fill="#b700a2"/><ellipse cx="1096.95" cy="1901.9" rx="1.14" ry="1.32" fill="#b700a3"/><ellipse cx="1102.87" cy="1901.9" rx="1.16" ry="1.35" fill="#a800b5"/><ellipse cx="1108.78" cy="1901.9" rx="1.12" ry="1.3" fill="#ae00ae"/><ellipse cx="1114.69" cy="1901.9" rx="1.08" ry="1.26" fill="#a600b7"/><ellipse cx="1120.61" cy="1901.9" rx="1.12" ry="1.3" fill="#b700a3"/><ellipse cx="1126.53" cy="1901.9" rx="1.54" ry="1.79" fill="#c2064f"/><ellipse cx="1132.44" cy="1901.9" rx="0.96" ry="1.11" fill="#a200bb"/><ellipse cx="1138.36" cy="1901.9" rx="1.02" ry="1.18" fill="#a900b4"/><ellipse cx="1144.27" cy="1901.9" rx="0.96" ry="1.11" fill="#b000ab"/><ellipse cx="1150.19" cy="1901.9" rx="0.91" ry="1.06" fill="#b500a6"/><ellipse cx="1156.1" cy="1901.9" rx="0.9" ry="1.05" fill="#b300a8"/><ellipse cx="1162.02" cy="1901.9" rx="1.71" ry="1.98" fill="#c2064f"/><ellipse cx="1167.93" cy="1901.9" rx="0.94" ry="1.1" fill="#a800b4"/><ellipse cx="1173.85" cy="1901.9" rx="1.12" ry="1.3" fill="#a900b3"/><ellipse cx="1179.76" cy="1901.9" rx="1.11" ry="1.29" fill="#a100bc"/><ellipse cx="1185.68" cy="1901.9" rx="1.05" ry="1.22" fill="#a700b6"/><ellipse cx="1191.59" cy="1901.9" rx="1.17" ry="1.36" fill="#ae00ae"/><ellipse cx="1197.51" cy="1901.9" rx="1.1" ry="1.28" fill="#ba009f"/><ellipse cx="1203.42" cy="1901.9" rx="2.52" ry="2.92" fill="#e2005c"/><ellipse cx="1209.34" cy="1901.9" rx="1.04" ry="1.21" fill="#b300a7"/><ellipse cx="1215.25" cy="1901.9" rx="0.98" ry="1.13" fill="#b300a7"/><ellipse cx="1221.17" cy="1901.9" rx="1.01" ry="1.18" fill="#a300ba"/><ellipse cx="1227.08" cy="1901.9" rx="0.94" ry="1.09" fill="#b400a7"/><ellipse cx="1233" cy="1901.9" rx="0.96" ry="1.11" fill="#b900a0"/><ellipse cx="1238.91" cy="1901.9" rx="1.09" ry="1.27" fill="#ad00af"/><ellipse cx="1244.83" cy="1901.9" rx="1.08" ry="1.25" fill="#b000ac"/><ellipse cx="1250.74" cy="1901.9" rx="1.12" ry="1.29" fill="#af00ad"/><ellipse cx="1256.66" cy="1901.9" rx="1.05" ry="1.22" fill="#ac00b1"/><ellipse cx="1262.57" cy="1901.9" rx="1.11" ry="1.28" fill="#af00ad"/><ellipse cx="1268.49" cy="1901.9" rx="1.06" ry="1.23" fill="#b500a5"/><ellipse cx="1274.4" cy="1901.9" rx="0.91" ry="1.05" fill="#b700a2"/><ellipse cx="1280.32" cy="1901.9" rx="1.11" ry="1.29" fill="#a300ba"/><ellipse cx="1286.23" cy="1901.9" rx="1.09" ry="1.26" fill="#b200a9"/><ellipse cx="1292.15" cy="1901.9" rx="1.09" ry="1.26" fill="#a900b4"/><ellipse cx="1298.06" cy="1901.9" rx="1.11" ry="1.29" fill="#a700b5"/><ellipse cx="1303.98" cy="1901.9" rx="2.43" ry="2.82" fill="#e2005c"/><ellipse cx="1309.89" cy="1901.9" rx="0.92" ry="1.07" fill="#ae00ae"/><ellipse cx="1315.81" cy="1901.9" rx="1.13" ry="1.32" fill="#b900a0"/><ellipse cx="1321.72" cy="1901.9" rx="0.95" ry="1.11" fill="#b300a8"/><ellipse cx="1327.63" cy="1901.9" rx="1.08" ry="1.25" fill="#b900a0"/><ellipse cx="1333.55" cy="1901.9" rx="1.12" ry="1.3" fill="#a000bd"/><ellipse cx="1339.47" cy="1901.9" rx="0.99" ry="1.15" fill="#ad00af"/><ellipse cx="1345.38" cy="1901.9" rx="0.98" ry="1.13" fill="#b400a7"/><ellipse cx="1351.3" cy="1901.9" rx="1.11" ry="1.29" fill="#b300a8"/><ellipse cx="1357.21" cy="1901.9" rx="1.05" ry="1.22" fill="#ac00b0"/><ellipse cx="1363.12" cy="1901.9" rx="0.97" ry="1.13" fill="#a300ba"/><ellipse cx="1369.04" cy="1901.9" rx="0.93" ry="1.08" fill="#b600a4"/><ellipse cx="1374.96" cy="1901.9" rx="4.95" ry="5.74" fill="#f6002d"/><ellipse cx="1380.87" cy="1901.9" rx="1.11" ry="1.28" fill="#a800b5"/><ellipse cx="1386.79" cy="1901.9" rx="1.83" ry="2.12" fill="#c2064f"/><ellipse cx="1392.7" cy="1901.9" rx="0.97" ry="1.13" fill="#b600a4"/><ellipse cx="1398.62" cy="1901.9" rx="1.11" ry="1.29" fill="#b600a4"/><ellipse cx="1404.53" cy="1901.9" rx="1.18" ry="1.37" fill="#b800a2"/><ellipse cx="1410.45" cy="1901.9" rx="1.91" ry="2.21" fill="#c2064f"/><ellipse cx="1416.36" cy="1901.9" rx="1.02" ry="1.18" fill="#b200a9"/><ellipse cx="1422.28" cy="1901.9" rx="1.67" ry="1.94" fill="#c2064f"/><ellipse cx="1428.19" cy="1901.9" rx="1.61" ry="1.86" fill="#c2064f"/><ellipse cx="1434.11" cy="1901.9" rx="0.96" ry="1.12" fill="#aa00b3"/><ellipse cx="1440.02" cy="1901.9" rx="1.12" ry="1.29" fill="#ae00ae"/><ellipse cx="1445.94" cy="1901.9" rx="1.09" ry="1.26" fill="#b500a5"/><ellipse cx="1451.85" cy="1901.9" rx="1" ry="1.16" fill="#b400a6"/><ellipse cx="1457.77" cy="1901.9" rx="1.18" ry="1.36" fill="#b900a0"/><ellipse cx="1463.68" cy="1901.9" rx="1.06" ry="1.23" fill="#ae00ad"/><ellipse cx="1469.6" cy="1901.9" rx="1.16" ry="1.34" fill="#af00ad"/><ellipse cx="1475.51" cy="1901.9" rx="1.14" ry="1.32" fill="#ba009f"/><ellipse cx="1481.43" cy="1901.9" rx="0.95" ry="1.11" fill="#a000bd"/><ellipse cx="1487.34" cy="1901.9" rx="1" ry="1.16" fill="#b800a1"/><ellipse cx="1493.26" cy="1901.9" rx="2.01" ry="2.33" fill="#c2064f"/><ellipse cx="1499.17" cy="1901.9" rx="0.97" ry="1.12" fill="#ab00b2"/><ellipse cx="1505.09" cy="1901.9" rx="1.01" ry="1.17" fill="#b600a4"/><ellipse cx="1511" cy="1901.9" rx="0.95" ry="1.11" fill="#a000bd"/><ellipse cx="1516.92" cy="1901.9" rx="0.97" ry="1.13" fill="#b800a1"/><ellipse cx="1522.83" cy="1901.9" rx="0.94" ry="1.09" fill="#b400a6"/><ellipse cx="1528.75" cy="1901.9" rx="1.07" ry="1.24" fill="#ac00b0"/><ellipse cx="1534.66" cy="1901.9" rx="1.02" ry="1.19" fill="#b400a7"/><ellipse cx="1540.58" cy="1901.9" rx="0.99" ry="1.15" fill="#ac00b0"/><ellipse cx="1546.49" cy="1901.9" rx="6.66" ry="7.73" fill="#fc0012"/><ellipse cx="1552.41" cy="1901.9" rx="1.15" ry="1.34" fill="#b800a2"/><ellipse cx="1558.32" cy="1901.9" rx="0.97" ry="1.13" fill="#af00ad"/><ellipse cx="1564.24" cy="1901.9" rx="1.17" ry="1.35" fill="#b000ac"/><ellipse cx="1570.15" cy="1901.9" rx="1.06" ry="1.23" fill="#a600b7"/><ellipse cx="1576.07" cy="1901.9" rx="1.04" ry="1.2" fill="#9d00c0"/><ellipse cx="1581.98" cy="1901.9" rx="1.07" ry="1.24" fill="#ae00ae"/><ellipse cx="1587.9" cy="1901.9" rx="0.89" ry="1.04" fill="#b800a1"/><ellipse cx="1593.81" cy="1901.9" rx="0.99" ry="1.15" fill="#9d00c0"/><ellipse cx="1599.73" cy="1901.9" rx="0.98" ry="1.14" fill="#9f00be"/><ellipse cx="1605.64" cy="1901.9" rx="0.94" ry="1.09" fill="#a100bc"/><ellipse cx="1611.56" cy="1901.9" rx="1.04" ry="1.21" fill="#b300a8"/><ellipse cx="1617.47" cy="1901.9" rx="0.97" ry="1.12" fill="#b100aa"/><ellipse cx="1623.38" cy="1901.9" rx="1.05" ry="1.21" fill="#b200a9"/><ellipse cx="1629.3" cy="1901.9" rx="1.91" ry="2.21" fill="#c2064f"/>
<ellipse cx="91.4" cy="2000.5" rx="1.04" ry="1.2" fill="#ab00b1"/><ellipse cx="97.32" cy="2000.5" rx="1.3" ry="1.51" fill="#e2005c"/><ellipse cx="103.23" cy="2000.5" rx="1.44" ry="1.67" fill="#c2064f"/><ellipse cx="109.15" cy="2000.5" rx="0.96" ry="1.11" fill="#a300b9"/><ellipse cx="115.06" cy="2000.5" rx="0.99" ry="1.15" fill="#af00ac"/><ellipse cx="120.98" cy="2000.5" rx="0.96" ry="1.12" fill="#a900b4"/><ellipse cx="126.89" cy="2000.5" rx="0.97" ry="1.12" fill="#b700a3"/><ellipse cx="132.81" cy="2000.5" rx="0.99" ry="1.15" fill="#9f00be"/><ellipse cx="138.72" cy="2000.5" rx="0.9" ry="1.05" fill="#b500a5"/><ellipse cx="144.63" cy="2000.5" rx="0.97" ry="1.12" fill="#a400b9"/><ellipse cx="150.55" cy="2000.5" rx="1.42" ry="1.64" fill="#c2064f"/><ellipse cx="156.47" cy="2000.5" rx="3.3" ry="3.83" fill="#ea004a"/><ellipse cx="162.38" cy="2000.5" rx="1.52" ry="1.76" fill="#c2064f"/><ellipse cx="168.3" cy="2000.5" rx="1.1" ry="1.28" fill="#a200bb"/><ellipse cx="174.21" cy="2000.5" rx="0.94" ry="1.09" fill="#b300a8"/><ellipse cx="180.12" cy="2000.5" rx="1.75" ry="2.03" fill="#c2064f"/><ellipse cx="186.04" cy="2000.5" rx="1.05" ry="1.22" fill="#b400a6"/><ellipse cx="191.96" cy="2000.5" rx="1.14" ry="1.32" fill="#b500a5"/><ellipse cx="197.87" cy="2000.5" rx="1.02" ry="1.18" fill="#a800b4"/><ellipse cx="203.79" cy="2000.5" rx="1.02" ry="1.18" fill="#b800a1"/><ellipse cx="209.7" cy="2000.5" rx="1.15" ry="1.33" fill="#ac00b1"/><ellipse cx="215.62" cy="2000.5" rx="0.91" ry="1.05" fill="#a600b7"/><ellipse cx="221.53" cy="2000.5" rx="1.08" ry="1.25" fill="#b900a0"/><ellipse cx="227.44" cy="2000.5" rx="1.69" ry="1.96" fill="#c2064f"/><ellipse cx="233.36" cy="2000.5" rx="0.99" ry="1.15" fill="#ad00af"/><ellipse cx="239.28" cy="2000.5" rx="0.97" ry="1.12" fill="#a600b7"/><ellipse cx="245.19" cy="2000.5" rx="2" ry="2.32" fill="#c2064f"/><ellipse cx="251.11" cy="2000.5" rx="1.1" ry="1.27" fill="#a100bc"/><ellipse cx="257.02" cy="2000.5" rx="0.95" ry="1.1" fill="#a500b8"/><ellipse cx="262.94" cy="2000.5" rx="1.01" ry="1.17" fill="#b800a2"/><ellipse cx="268.85" cy="2000.5" rx="1.02" ry="1.18" fill="#b500a5"/><ellipse cx="274.76" cy="2000.5" rx="1.02" ry="1.19" fill="#9f00be"/><ellipse cx="280.68" cy="2000.5" rx="1.04" ry="1.21" fill="#ba009f"/><ellipse cx="286.6" cy="2000.5" rx="1.5" ry="1.73" fill="#c2064f"/><ellipse cx="292.51" cy="2000.5" rx="0.94" ry="1.09" fill="#b400a7"/><ellipse cx="298.43" cy="2000.5" rx="1.65" ry="1.91" fill="#c2064f"/><ellipse cx="304.34" cy="2000.5" rx="1.05" ry="1.22" fill="#ae00ae"/><ellipse cx="310.25" cy="2000.5" rx="2.03" ry="2.35" fill="#c2064f"/><ellipse cx="316.17" cy="2000.5" rx="2.6" ry="3.02" fill="#e2005c"/><ellipse cx="322.09" cy="2000.5" rx="1.77" ry="2.06" fill="#c2064f"/><ellipse cx="328" cy="2000.5" rx="1.57" ry="1.82" fill="#c2064f"/><ellipse cx="333.92" cy="2000.5" rx="0.98" ry="1.14" fill="#b300a7"/><ellipse cx="339.83" cy="2000.5" rx="2" ry="2.32" fill="#c2064f"/><ellipse cx="345.75" cy="2000.5" rx="2" ry="2.32" fill="#c2064f"/><ellipse cx="351.66" cy="2000.5" rx="0.93" ry="1.08" fill="#ab00b2"/><ellipse cx="357.58" cy="2000.5" rx="1" ry="1.16" fill="#b000ab"/><ellipse cx="363.49" cy="2000.5" rx="1.8" ry="2.09" fill="#c2064f"/><ellipse cx="369.4" cy="2000.5" rx="1.58" ry="1.83" fill="#c2064f"/><ellipse cx="375.32" cy="2000.5" rx="2.3" ry="2.67" fill="#e2005c"/><ellipse cx="381.24" cy="2000.5" rx="0.99" ry="1.15" fill="#ae00ae"/><ellipse cx="387.15" cy="2000.5" rx="1.15" ry="1.33" fill="#a400b9"/><ellipse cx="393.07" cy="2000.5" rx="0.94" ry="1.08" fill="#af00ad"/><ellipse cx="398.98" cy="2000.5" rx="1.03" ry="1.19" fill="#a900b4"/><ellipse cx="404.89" cy="2000.5" rx="1.08" ry="1.26" fill="#a700b6"/><ellipse cx="410.81" cy="2000.5" rx="0.96" ry="1.11" fill="#b100aa"/><ellipse cx="416.73" cy="2000.5" rx="1.01" ry="1.17" fill="#b200aa"/><ellipse cx="422.64" cy="2000.5" rx="0.96" ry="1.11" fill="#ad00af"/><ellipse cx="428.56" cy="2000.5" rx="1.92" ry="2.23" fill="#c2064f"/><ellipse cx="434.47" cy="2000.5" rx="1.75" ry="2.03" fill="#c2064f"/><ellipse cx="440.38" cy="2000.5" rx="1.09" ry="1.26" fill="#a200bb"/><ellipse cx="446.3" cy="2000.5" rx="1.1" ry="1.27" fill="#b500a5"/><ellipse cx="452.22" cy="2000.5" rx="0.94" ry="1.09" fill="#b000ac"/><ellipse cx="458.13" cy="2000.5" rx="1.11" ry="1.29" fill="#b800a1"/><ellipse cx="464.04" cy="2000.5" rx="1.07" ry="1.24" fill="#a800b5"/><ellipse cx="469.96" cy="2000.5" rx="1.03" ry="1.19" fill="#b000ab"/><ellipse cx="475.88" cy="2000.5" rx="0.98" ry="1.13" fill="#9d00c0"/><ellipse cx="481.79" cy="2000.5" rx="1.15" ry="1.33" fill="#b000ac"/><ellipse cx="487.71" cy="2000.5" rx="1.09" ry="1.26" fill="#aa00b2"/><ellipse cx="493.62" cy="2000.5" rx="1" ry="1.16" fill="#b600a3"/><ellipse cx="499.53" cy="2000.5" rx="1.04" ry="1.21" fill="#b300a8"/><ellipse cx="505.45" cy="2000.5" rx="0.96" ry="1.11" fill="#a700b6"/><ellipse cx="511.37" cy="2000.5" rx="1.05" ry="1.22" fill="#ad00af"/><ellipse cx="517.28" cy="2000.5" rx="1.05" ry="1.22" fill="#af00ad"/><ellipse cx="523.2" cy="2000.5" rx="1.12" ry="1.3" fill="#b500a6"/><ellipse cx="529.11" cy="2000.5" rx="1.09" ry="1.27" fill="#a100bc"/><ellipse cx="535.02" cy="2000.5" rx="1.01" ry="1.17" fill="#b700a3"/><ellipse cx="540.94" cy="2000.5" rx="1.02" ry="1.19" fill="#ae00ae"/><ellipse cx="546.86" cy="2000.5" rx="1.11" ry="1.28" fill="#b800a1"/><ellipse cx="552.77" cy="2000.5" rx="0.88" ry="1.02" fill="#ac00b0"/><ellipse cx="558.69" cy="2000.5" rx="0.97" ry="1.13" fill="#a700b5"/><ellipse cx="564.6" cy="2000.5" rx="0.93" ry="1.08" fill="#ab00b1"/><ellipse cx="570.51" cy="2000.5" rx="0.96" ry="1.12" fill="#b600a4"/><ellipse cx="576.43" cy="2000.5" rx="0.91" ry="1.06" fill="#9d00c0"/><ellipse cx="582.35" cy="2000.5" rx="1.14" ry="1.33" fill="#b400a6"/><ellipse cx="588.26" cy="2000.5" rx="0.95" ry="1.11" fill="#a000bd"/><ellipse cx="594.17" cy="2000.5" rx="0.93" ry="1.08" fill="#b800a1"/><ellipse cx="600.09" cy="2000.5" rx="1.01" ry="1.17" fill="#b600a4"/><ellipse cx="606" cy="2000.5" rx="1.14" ry="1.33" fill="#b300a7"/><ellipse cx="611.92" cy="2000.5" rx="0.97" ry="1.12" fill="#a500b8"/><ellipse cx="617.84" cy="2000.5" rx="0.99" ry="1.15" fill="#aa00b2"/><ellipse cx="623.75" cy="2000.5" rx="1.07" ry="1.24" fill="#b500a6"/><ellipse cx="629.66" cy="2000.5" rx="1.55" ry="1.8" fill="#c2064f"/><ellipse cx="635.58" cy="2000.5" rx="1.52" ry="1.76" fill="#c2064f"/><ellipse cx="641.5" cy="2000.5" rx="1.5" ry="1.73" fill="#c2064f"/><ellipse cx="647.41" cy="2000.5" rx="0.95" ry="1.1" fill="#b100aa"/><ellipse cx="653.32" cy="2000.5" rx="1.03" ry="1.19" fill="#ad00af"/><ellipse cx="659.24" cy="2000.5" rx="1.55" ry="1.8" fill="#c2064f"/><ellipse cx="665.15" cy="2000.5" rx="1.17" ry="1.35" fill="#b800a1"/><ellipse cx="671.07" cy="2000.5" rx="1.09" ry="1.26" fill="#a600b7"/><ellipse cx="676.99" cy="2000.5" rx="0.96" ry="1.12" fill="#b200a9"/><ellipse cx="682.9" cy="2000.5" rx="1.55" ry="1.8" fill="#c2064f"/><ellipse cx="688.81" cy="2000.5" rx="1.01" ry="1.17" fill="#ab00b1"/><ellipse cx="694.73" cy="2000.5" rx="1" ry="1.16" fill="#9e00bf"/><ellipse cx="700.64" cy="2000.5" rx="1" ry="1.16" fill="#9d00c0"/><ellipse cx="706.56" cy="2000.5" rx="1.08" ry="1.25" fill="#ad00af"/><ellipse cx="712.48" cy="2000.5" rx="1.02" ry="1.19" fill="#af00ac"/><ellipse cx="718.39" cy="2000.5" rx="0.9" ry="1.05" fill="#a800b5"/><ellipse cx="724.3" cy="2000.5" rx="1" ry="1.16" fill="#a300ba"/><ellipse cx="730.22" cy="2000.5" rx="0.96" ry="1.12" fill="#b100ab"/><ellipse cx="736.13" cy="2000.5" rx="1.03" ry="1.19" fill="#ab00b1"/><ellipse cx="742.05" cy="2000.5" rx="1.15" ry="1.34" fill="#a500b7"/><ellipse cx="747.97" cy="2000.5" rx="1.69" ry="1.96" fill="#c2064f"/><ellipse cx="753.88" cy="2000.5" rx="1.66" ry="1.92" fill="#c2064f"/><ellipse cx="759.79" cy="2000.5" rx="1.66" ry="1.92" fill="#c2064f"/><ellipse cx="765.71" cy="2000.5" rx="1.74" ry="2.02" fill="#c2064f"/><ellipse cx="771.62" cy="2000.5" rx="0.89" ry="1.04" fill="#a900b3"/><ellipse cx="777.54" cy="2000.5" rx="1.07" ry="1.25" fill="#b100aa"/><ellipse cx="783.45" cy="2000.5" rx="1.07" ry="1.24" fill="#b900a0"/><ellipse cx="789.37" cy="2000.5" rx="1.11" ry="1.29" fill="#b100aa"/><ellipse cx="795.28" cy="2000.5" rx="1.1" ry="1.27" fill="#b500a5"/><ellipse cx="801.2" cy="2000.5" rx="1.64" ry="1.91" fill="#c2064f"/><ellipse cx="807.12" cy="2000.5" rx="1.63" ry="1.89" fill="#c2064f"/><ellipse cx="813.03" cy="2000.5" rx="0.9" ry="1.04" fill="#a100bc"/><ellipse cx="818.94" cy="2000.5" rx="1.09" ry="1.26" fill="#aa00b3"/><ellipse cx="824.86" cy="2000.5" rx="0.98" ry="1.13" fill="#b000ab"/><ellipse cx="830.77" cy="2000.5" rx="0.97" ry="1.12" fill="#b300a8"/><ellipse cx="836.69" cy="2000.5" rx="1.01" ry="1.17" fill="#b100ab"/><ellipse cx="842.61" cy="2000.5" rx="1.8" ry="2.09" fill="#c2064f"/><ellipse cx="848.52" cy="2000.5" rx="0.99" ry="1.15" fill="#a500b8"/><ellipse cx="854.43" cy="2000.5" rx="0.9" ry="1.04" fill="#a500b8"/><ellipse cx="860.35" cy="2000.5" rx="0.96" ry="1.11" fill="#b100ab"/><ellipse cx="866.26" cy="2000.5" rx="4.47" ry="5.19" fill="#f30034"/><ellipse cx="872.18" cy="2000.5" rx="0.9" ry="1.04" fill="#9d00c0"/><ellipse cx="878.1" cy="2000.5" rx="1" ry="1.16" fill="#ae00ae"/><ellipse cx="884.01" cy="2000.5" rx="0.91" ry="1.06" fill="#9d00c0"/><ellipse cx="889.92" cy="2000.5" rx="1.09" ry="1.26" fill="#b700a3"/><ellipse cx="895.84" cy="2000.5" rx="1.08" ry="1.25" fill="#b500a5"/><ellipse cx="901.75" cy="2000.5" rx="0.93" ry="1.08" fill="#b100aa"/><ellipse cx="907.67" cy="2000.5" rx="0.95" ry="1.1" fill="#a600b7"/><ellipse cx="913.59" cy="2000.5" rx="1.04" ry="1.21" fill="#a300ba"/><ellipse cx="919.5" cy="2000.5" rx="0.98" ry="1.14" fill="#a400b9"/><ellipse cx="925.41" cy="2000.5" rx="0.98" ry="1.14" fill="#b200aa"/><ellipse cx="931.33" cy="2000.5" rx="1.12" ry="1.3" fill="#b600a4"/><ellipse cx="937.25" cy="2000.5" rx="1.13" ry="1.32" fill="#b800a2"/><ellipse cx="943.16" cy="2000.5" rx="1.66" ry="1.93" fill="#c2064f"/><ellipse cx="949.07" cy="2000.5" rx="1.01" ry="1.17" fill="#a400b9"/><ellipse cx="954.99" cy="2000.5" rx="1.61" ry="1.87" fill="#c2064f"/><ellipse cx="960.9" cy="2000.5" rx="0.94" ry="1.09" fill="#b400a6"/><ellipse cx="966.82" cy="2000.5" rx="1.01" ry="1.17" fill="#b300a8"/><ellipse cx="972.74" cy="2000.5" rx="1.98" ry="2.29" fill="#c2064f"/><ellipse cx="978.65" cy="2000.5" rx="1.11" ry="1.29" fill="#a500b8"/><ellipse cx="984.56" cy="2000.5" rx="2.07" ry="2.4" fill="#c2064f"/><ellipse cx="990.48" cy="2000.5" rx="1.6" ry="1.86" fill="#c2064f"/><ellipse cx="996.39" cy="2000.5" rx="1.14" ry="1.33" fill="#b200a9"/><ellipse cx="1002.31" cy="2000.5" rx="1.01" ry="1.17" fill="#a000bd"/><ellipse cx="1008.23" cy="2000.5" rx="5.07" ry="5.89" fill="#f6002b"/><ellipse cx="1014.14" cy="2000.5" rx="1.03" ry="1.2" fill="#af00ad"/><ellipse cx="1020.05" cy="2000.5" rx="2.84" ry="3.29" fill="#e50056"/><ellipse cx="1025.97" cy="2000.5" rx="1.06" ry="1.23" fill="#ac00b1"/><ellipse cx="1031.88" cy="2000.5" rx="3.96" ry="4.59" fill="#f0003d"/><ellipse cx="1037.8" cy="2000.5" rx="3.44" ry="3.99" fill="#ec0047"/><ellipse cx="1043.72" cy="2000.5" rx="1.51" ry="1.75" fill="#c2064f"/><ellipse cx="1049.63" cy="2000.5" rx="1.41" ry="1.64" fill="#c2064f"/><ellipse cx="1055.55" cy="2000.5" rx="1.41" ry="1.63" fill="#c2064f"/><ellipse cx="1061.46" cy="2000.5" rx="0.92" ry="1.07" fill="#a700b6"/><ellipse cx="1067.38" cy="2000.5" rx="1.06" ry="1.23" fill="#a100bc"/><ellipse cx="1073.29" cy="2000.5" rx="1.02" ry="1.18" fill="#a700b5"/><ellipse cx="1079.2" cy="2000.5" rx="1.13" ry="1.31" fill="#b800a1"/><ellipse cx="1085.12" cy="2000.5" rx="1.04" ry="1.21" fill="#b300a8"/><ellipse cx="1091.04" cy="2000.5" rx="0.92" ry="1.07" fill="#a400b9"/><ellipse cx="1096.95" cy="2000.5" rx="1.15" ry="1.34" fill="#b200a9"/><ellipse cx="1102.87" cy="2000.5" rx="1.18" ry="1.37" fill="#a300ba"/><ellipse cx="1108.78" cy="2000.5" rx="1.08" ry="1.25" fill="#a000bd"/><ellipse cx="1114.69" cy="2000.5" rx="1.1" ry="1.28" fill="#a800b4"/><ellipse cx="1120.61" cy="2000.5" rx="1.1" ry="1.27" fill="#a100bc"/><ellipse cx="1126.53" cy="2000.5" rx="1.49" ry="1.73" fill="#c2064f"/><ellipse cx="1132.44" cy="2000.5" rx="0.96" ry="1.11" fill="#b800a2"/><ellipse cx="1138.36" cy="2000.5" rx="1.05" ry="1.22" fill="#ae00ad"/><ellipse cx="1144.27" cy="2000.5" rx="0.95" ry="1.11" fill="#aa00b2"/><ellipse cx="1150.19" cy="2000.5" rx="0.91" ry="1.06" fill="#b000ab"/><ellipse cx="1156.1" cy="2000.5" rx="0.92" ry="1.06" fill="#b500a6"/><ellipse cx="1162.02" cy="2000.5" rx="1.55" ry="1.8" fill="#c2064f"/><ellipse cx="1167.93" cy="2000.5" rx="1" ry="1.16" fill="#9c00c1"/><ellipse cx="1173.85" cy="2000.5" rx="1.03" ry="1.2" fill="#b500a6"/><ellipse cx="1179.76" cy="2000.5" rx="1.17" ry="1.36" fill="#a600b6"/><ellipse cx="1185.68" cy="2000.5" rx="0.99" ry="1.15" fill="#b900a0"/><ellipse cx="1191.59" cy="2000.5" rx="1.14" ry="1.32" fill="#9f00be"/><ellipse cx="1197.51" cy="2000.5" rx="1.19" ry="1.38" fill="#ae00ae"/><ellipse cx="1203.42" cy="2000.5" rx="2.41" ry="2.79" fill="#e2005c"/><ellipse cx="1209.34" cy="2000.5" rx="0.98" ry="1.14" fill="#ac00b0"/><ellipse cx="1215.25" cy="2000.5" rx="0.96" ry="1.11" fill="#af00ad"/><ellipse cx="1221.17" cy="2000.5" rx="0.96" ry="1.12" fill="#a900b4"/><ellipse cx="1227.08" cy="2000.5" rx="0.99" ry="1.14" fill="#a600b6"/><ellipse cx="1233" cy="2000.5" rx="1" ry="1.16" fill="#b300a8"/><ellipse cx="1238.91" cy="2000.5" rx="1.1" ry="1.28" fill="#a100bc"/><ellipse cx="1244.83" cy="2000.5" rx="1.16" ry="1.34" fill="#b200a9"/><ellipse cx="1250.74" cy="2000.5" rx="1.07" ry="1.24" fill="#b800a2"/><ellipse cx="1256.66" cy="2000.5" rx="1.03" ry="1.19" fill="#a200bb"/><ellipse cx="1262.57" cy="2000.5" rx="1.03" ry="1.2" fill="#ba009f"/><ellipse cx="1268.49" cy="2000.5" rx="1.13" ry="1.31" fill="#a400b9"/><ellipse cx="1274.4" cy="2000.5" rx="0.98" ry="1.13" fill="#9e00bf"/><ellipse cx="1280.32" cy="2000.5" rx="1.09" ry="1.26" fill="#b000ab"/><ellipse cx="1286.23" cy="2000.5" rx="1.16" ry="1.35" fill="#b800a2"/><ellipse cx="1292.15" cy="2000.5" rx="1.12" ry="1.3" fill="#b600a4"/><ellipse cx="1298.06" cy="2000.5" rx="1.08" ry="1.25" fill="#b800a1"/><ellipse cx="1303.98" cy="2000.5" rx="2.32" ry="2.69" fill="#e2005c"/><ellipse cx="1309.89" cy="2000.5" rx="0.95" ry="1.1" fill="#b300a8"/><ellipse cx="1315.81" cy="2000.5" rx="1.12" ry="1.3" fill="#a900b3"/><ellipse cx="1321.72" cy="2000.5" rx="1.02" ry="1.19" fill="#b200a9"/><ellipse cx="1327.63" cy="2000.5" rx="1.06" ry="1.23" fill="#af00ad"/><ellipse cx="1333.55" cy="2000.5" rx="1.13" ry="1.31" fill="#af00ad"/><ellipse cx="1339.47" cy="2000.5" rx="0.96" ry="1.11" fill="#b200a9"/><ellipse cx="1345.38" cy="2000.5" rx="1" ry="1.16" fill="#b300a8"/><ellipse cx="1351.3" cy="2000.5" rx="1.1" ry="1.27" fill="#9d00c0"/><ellipse cx="1357.21" cy="2000.5" rx="1.08" ry="1.25" fill="#b000ab"/><ellipse cx="1363.12" cy="2000.5" rx="0.98" ry="1.14" fill="#ad00ae"/><ellipse cx="1369.04" cy="2000.5" rx="0.98" ry="1.14" fill="#a200bb"/><ellipse cx="1374.96" cy="2000.5" rx="4.73" ry="5.49" fill="#f40030"/><ellipse cx="1380.87" cy="2000.5" rx="1.08" ry="1.25" fill="#a900b3"/><ellipse cx="1386.79" cy="2000.5" rx="1.84" ry="2.13" fill="#c2064f"/><ellipse cx="1392.7" cy="2000.5" rx="0.98" ry="1.13" fill="#9e00bf"/><ellipse cx="1398.62" cy="2000.5" rx="1.11" ry="1.29" fill="#a800b5"/><ellipse cx="1404.53" cy="2000.5" rx="1.14" ry="1.32" fill="#a000bd"/><ellipse cx="1410.45" cy="2000.5" rx="1.71" ry="1.99" fill="#c2064f"/><ellipse cx="1416.36" cy="2000.5" rx="1.01" ry="1.17" fill="#a700b5"/><ellipse cx="1422.28" cy="2000.5" rx="1.81" ry="2.1" fill="#c2064f"/><ellipse cx="1428.19" cy="2000.5" rx="1.7" ry="1.97" fill="#c2064f"/><ellipse cx="1434.11" cy="2000.5" rx="0.91" ry="1.05" fill="#a300ba"/><ellipse cx="1440.02" cy="2000.5" rx="1.14" ry="1.32" fill="#ad00af"/><ellipse cx="1445.94" cy="2000.5" rx="1.04" ry="1.2" fill="#b900a0"/><ellipse cx="1451.85" cy="2000.5" rx="1.04" ry="1.2" fill="#b400a7"/><ellipse cx="1457.77" cy="2000.5" rx="1.15" ry="1.33" fill="#b600a5"/><ellipse cx="1463.68" cy="2000.5" rx="0.98" ry="1.13" fill="#b900a0"/><ellipse cx="1469.6" cy="2000.5" rx="1.12" ry="1.3" fill="#a200bb"/><ellipse cx="1475.51" cy="2000.5" rx="1.11" ry="1.29" fill="#9e00bf"/><ellipse cx="1481.43" cy="2000.5" rx="0.96" ry="1.11" fill="#a000bd"/><ellipse cx="1487.34" cy="2000.5" rx="0.93" ry="1.08" fill="#ab00b2"/><ellipse cx="1493.26" cy="2000.5" rx="1.99" ry="2.31" fill="#c2064f"/><ellipse cx="1499.17" cy="2000.5" rx="1" ry="1.16" fill="#b800a1"/><ellipse cx="1505.09" cy="2000.5" rx="1.08" ry="1.25" fill="#b000ac"/><ellipse cx="1511" cy="2000.5" rx="0.99" ry="1.14" fill="#b900a0"/><ellipse cx="1516.92" cy="2000.5" rx="0.97" ry="1.13" fill="#ad00af"/><ellipse cx="1522.83" cy="2000.5" rx="0.95" ry="1.11" fill="#9d00c0"/><ellipse cx="1528.75" cy="2000.5" rx="1.16" ry="1.35" fill="#b100aa"/><ellipse cx="1534.66" cy="2000.5" rx="0.98" ry="1.14" fill="#b500a6"/><ellipse cx="1540.58" cy="2000.5" rx="1.02" ry="1.18" fill="#b300a8"/><ellipse cx="1546.49" cy="2000.5" rx="6.36" ry="7.38" fill="#fb0017"/><ellipse cx="1552.41" cy="2000.5" rx="1.12" ry="1.3" fill="#b600a4"/><ellipse cx="1558.32" cy="2000.5" rx="1.01" ry="1.18" fill="#9f00be"/><ellipse cx="1564.24" cy="2000.5" rx="1.15" ry="1.34" fill="#a400b9"/><ellipse cx="1570.15" cy="2000.5" rx="1.04" ry="1.2" fill="#b800a1"/><ellipse cx="1576.07" cy="2000.5" rx="1.06" ry="1.23" fill="#9f00be"/><ellipse cx="1581.98" cy="2000.5" rx="1.07" ry="1.24" fill="#b900a0"/><ellipse cx="1587.9" cy="2000.5" rx="0.92" ry="1.07" fill="#a500b8"/><ellipse cx="1593.81" cy="2000.5" rx="1.01" ry="1.18" fill="#ad00af"/><ellipse cx="1599.73" cy="2000.5" rx="0.92" ry="1.06" fill="#b600a4"/><ellipse cx="1605.64" cy="2000.5" rx="0.93" ry="1.08" fill="#a900b3"/><ellipse cx="1611.56" cy="2000.5" rx="1.13" ry="1.31" fill="#a200bb"/><ellipse cx="1617.47" cy="2000.5" rx="1" ry="1.15" fill="#b600a4"/><ellipse cx="1623.38" cy="2000.5" rx="1.02" ry="1.19" fill="#a000bd"/><ellipse cx="1629.3" cy="2000.5" rx="1.99" ry="2.3" fill="#c2064f"/>
<ellipse cx="91.4" cy="2099.1" rx="1.49" ry="1.73" fill="#c2064f"/><ellipse cx="97.32" cy="2099.1" rx="1.3" ry="1.51" fill="#e2005c"/><ellipse cx="103.23" cy="2099.1" rx="1.1" ry="1.28" fill="#b300a8"/><ellipse cx="109.15" cy="2099.1" rx="0.91" ry="1.06" fill="#a700b6"/><ellipse cx="115.06" cy="2099.1" rx="1.44" ry="1.67" fill="#c2064f"/><ellipse cx="120.98" cy="2099.1" rx="1.03" ry="1.2" fill="#9d00c0"/><ellipse cx="126.89" cy="2099.1" rx="0.9" ry="1.05" fill="#b700a3"/><ellipse cx="132.81" cy="2099.1" rx="0.99" ry="1.15" fill="#b100ab"/><ellipse cx="138.72" cy="2099.1" rx="0.91" ry="1.06" fill="#b000ab"/><ellipse cx="144.63" cy="2099.1" rx="1.05" ry="1.22" fill="#af00ad"/><ellipse cx="150.55" cy="2099.1" rx="1.48" ry="1.71" fill="#c2064f"/><ellipse cx="156.47" cy="2099.1" rx="3.5" ry="4.06" fill="#ec0046"/><ellipse cx="162.38" cy="2099.1" rx="1.56" ry="1.81" fill="#c2064f"/><ellipse cx="168.3" cy="2099.1" rx="1.12" ry="1.29" fill="#b000ac"/><ellipse cx="174.21" cy="2099.1" rx="0.94" ry="1.09" fill="#ab00b1"/><ellipse cx="180.12" cy="2099.1" rx="0.97" ry="1.13" fill="#a500b8"/><ellipse cx="186.04" cy="2099.1" rx="1.02" ry="1.19" fill="#ae00ae"/><ellipse cx="191.96" cy="2099.1" rx="1.08" ry="1.26" fill="#af00ad"/><ellipse cx="197.87" cy="2099.1" rx="1.08" ry="1.25" fill="#b500a5"/><ellipse cx="203.79" cy="2099.1" rx="0.98" ry="1.14" fill="#aa00b3"/><ellipse cx="209.7" cy="2099.1" rx="1.18" ry="1.37" fill="#a800b5"/><ellipse cx="215.62" cy="2099.1" rx="0.98" ry="1.13" fill="#a300ba"/><ellipse cx="221.53" cy="2099.1" rx="1.15" ry="1.33" fill="#9e00bf"/><ellipse cx="227.44" cy="2099.1" rx="1.64" ry="1.9" fill="#c2064f"/><ellipse cx="233.36" cy="2099.1" rx="0.98" ry="1.14" fill="#ae00ae"/><ellipse cx="239.28" cy="2099.1" rx="0.96" ry="1.11" fill="#b800a2"/><ellipse cx="245.19" cy="2099.1" rx="1.8" ry="2.09" fill="#c2064f"/><ellipse cx="251.11" cy="2099.1" rx="1.15" ry="1.34" fill="#a200bb"/><ellipse cx="257.02" cy="2099.1" rx="0.96" ry="1.12" fill="#9e00bf"/><ellipse cx="262.94" cy="2099.1" rx="1.04" ry="1.2" fill="#a100bc"/><ellipse cx="268.85" cy="2099.1" rx="1.02" ry="1.19" fill="#b000ac"/><ellipse cx="274.76" cy="2099.1" rx="0.96" ry="1.11" fill="#a100bc"/><ellipse cx="280.68" cy="2099.1" rx="0.99" ry="1.15" fill="#b500a5"/><ellipse cx="286.6" cy="2099.1" rx="1.35" ry="1.57" fill="#e2005c"/><ellipse cx="292.51" cy="2099.1" rx="0.89" ry="1.04" fill="#b000ac"/><ellipse cx="298.43" cy="2099.1" rx="1.65" ry="1.91" fill="#c2064f"/><ellipse cx="304.34" cy="2099.1" rx="1.08" ry="1.26" fill="#ae00ae"/><ellipse cx="310.25" cy="2099.1" rx="2.01" ry="2.33" fill="#c2064f"/><ellipse cx="316.17" cy="2099.1" rx="2.3" ry="2.67" fill="#e2005c"/><ellipse cx="322.09" cy="2099.1" rx="1.86" ry="2.15" fill="#c2064f"/><ellipse cx="328" cy="2099.1" rx="1.46" ry="1.69" fill="#c2064f"/><ellipse cx="333.92" cy="2099.1" rx="1.02" ry="1.18" fill="#b200a9"/><ellipse cx="339.83" cy="2099.1" rx="2" ry="2.32" fill="#c2064f"/><ellipse cx="345.75" cy="2099.1" rx="1.8" ry="2.09" fill="#c2064f"/><ellipse cx="351.66" cy="2099.1" rx="1.01" ry="1.17" fill="#b700a3"/><ellipse cx="357.58" cy="2099.1" rx="1.08" ry="1.26" fill="#ad00af"/><ellipse cx="363.49" cy="2099.1" rx="1.6" ry="1.86" fill="#c2064f"/><ellipse cx="369.4" cy="2099.1" rx="1.5" ry="1.75" fill="#c2064f"/><ellipse cx="375.32" cy="2099.1" rx="2" ry="2.32" fill="#c2064f"/><ellipse cx="381.24" cy="2099.1" rx="1.01" ry="1.17" fill="#af00ad"/><ellipse cx="387.15" cy="2099.1" rx="1.08" ry="1.26" fill="#b800a2"/><ellipse cx="393.07" cy="2099.1" rx="0.92" ry="1.06" fill="#ac00b0"/><ellipse cx="398.98" cy="2099.1" rx="1.01" ry="1.17" fill="#9f00be"/><ellipse cx="404.89" cy="2099.1" rx="1.1" ry="1.27" fill="#af00ad"/><ellipse cx="410.81" cy="2099.1" rx="0.98" ry="1.14" fill="#b000ac"/><ellipse cx="416.73" cy="2099.1" rx="1.01" ry="1.17" fill="#ae00ae"/><ellipse cx="422.64" cy="2099.1" rx="0.97" ry="1.13" fill="#b000ab"/><ellipse cx="428.56" cy="2099.1" rx="1.89" ry="2.19" fill="#c2064f"/><ellipse cx="434.47" cy="2099.1" rx="1.68" ry="1.95" fill="#c2064f"/><ellipse cx="440.38" cy="2099.1" rx="1.07" ry="1.24" fill="#a300ba"/><ellipse cx="446.3" cy="2099.1" rx="1.08" ry="1.25" fill="#a700b6"/><ellipse cx="452.22" cy="2099.1" rx="0.96" ry="1.11" fill="#9f00be"/><ellipse cx="458.13" cy="2099.1" rx="1.04" ry="1.21" fill="#a400b9"/><ellipse cx="464.04" cy="2099.1" rx="1.02" ry="1.19" fill="#b500a6"/><ellipse cx="469.96" cy="2099.1" rx="1" ry="1.16" fill="#a300ba"/><ellipse cx="475.88" cy="2099.1" rx="0.97" ry="1.13" fill="#ac00b0"/><ellipse cx="481.79" cy="2099.1" rx="1.07" ry="1.25" fill="#ad00af"/><ellipse cx="487.71" cy="2099.1" rx="1.1" ry="1.27" fill="#a300ba"/><ellipse cx="493.62" cy="2099.1" rx="1.02" ry="1.19" fill="#9f00be"/><ellipse cx="499.53" cy="2099.1" rx="1.11" ry="1.28" fill="#ae00ae"/><ellipse cx="505.45" cy="2099.1" rx="0.92" ry="1.07" fill="#ae00ae"/><ellipse cx="511.37" cy="2099.1" rx="1.12" ry="1.3" fill="#ac00b0"/><ellipse cx="517.28" cy="2099.1" rx="1.05" ry="1.22" fill="#a400b9"/><ellipse cx="523.2" cy="2099.1" rx="1.12" ry="1.3" fill="#b400a7"/><ellipse cx="529.11" cy="2099.1" rx="1.11" ry="1.29" fill="#a500b7"/><ellipse cx="535.02" cy="2099.1" rx="1.02" ry="1.19" fill="#a100bc"/><ellipse cx="540.94" cy="2099.1" rx="0.99" ry="1.15" fill="#b400a7"/><ellipse cx="546.86" cy="2099.1" rx="1.11" ry="1.29" fill="#ab00b1"/><ellipse cx="552.77" cy="2099.1" rx="0.88" ry="1.02" fill="#ae00ae"/><ellipse cx="558.69" cy="2099.1" rx="1.01" ry="1.18" fill="#9d00c0"/><ellipse cx="564.6" cy="2099.1" rx="0.94" ry="1.09" fill="#b700a3"/><ellipse cx="570.51" cy="2099.1" rx="0.9" ry="1.05" fill="#a200bb"/><ellipse cx="576.43" cy="2099.1" rx="0.9" ry="1.05" fill="#b500a6"/><ellipse cx="582.35" cy="2099.1" rx="1.07" ry="1.24" fill="#b200aa"/><ellipse cx="588.26" cy="2099.1" rx="0.97" ry="1.12" fill="#9d00c0"/><ellipse cx="594.17" cy="2099.1" rx="0.97" ry="1.12" fill="#a000bd"/><ellipse cx="600.09" cy="2099.1" rx="1.04" ry="1.2" fill="#ac00b0"/><ellipse cx="606" cy="2099.1" rx="1.1" ry="1.27" fill="#b500a5"/><ellipse cx="611.92" cy="2099.1" rx="0.97" ry="1.12" fill="#9f00be"/><ellipse cx="617.84" cy="2099.1" rx="0.98" ry="1.13" fill="#a700b6"/><ellipse cx="623.75" cy="2099.1" rx="1.02" ry="1.18" fill="#ab00b2"/><ellipse cx="629.66" cy="2099.1" rx="1.48" ry="1.72" fill="#c2064f"/><ellipse cx="635.58" cy="2099.1" rx="1.6" ry="1.86" fill="#c2064f"/><ellipse cx="641.5" cy="2099.1" rx="1.54" ry="1.78" fill="#c2064f"/><ellipse cx="647.41" cy="2099.1" rx="1.03" ry="1.19" fill="#b000ac"/><ellipse cx="653.32" cy="2099.1" rx="0.98" ry="1.14" fill="#ae00ae"/><ellipse cx="659.24" cy="2099.1" rx="1.43" ry="1.66" fill="#c2064f"/><ellipse cx="665.15" cy="2099.1" rx="1.12" ry="1.3" fill="#a100bc"/><ellipse cx="671.07" cy="2099.1" rx="1.18" ry="1.37" fill="#a600b6"/><ellipse cx="676.99" cy="2099.1" rx="0.99" ry="1.15" fill="#a400b9"/><ellipse cx="682.9" cy="2099.1" rx="1.53" ry="1.78" fill="#c2064f"/><ellipse cx="688.81" cy="2099.1" rx="0.95" ry="1.1" fill="#b500a5"/><ellipse cx="694.73" cy="2099.1" rx="1" ry="1.16" fill="#b300a8"/><ellipse cx="700.64" cy="2099.1" rx="1.03" ry="1.2" fill="#a100bc"/><ellipse cx="706.56" cy="2099.1" rx="1.02" ry="1.19" fill="#9d00c0"/><ellipse cx="712.48" cy="2099.1" rx="1.02" ry="1.18" fill="#a100bc"/><ellipse cx="718.39" cy="2099.1" rx="0.94" ry="1.09" fill="#9c00c1"/><ellipse cx="724.3" cy="2099.1" rx="0.99" ry="1.15" fill="#af00ac"/><ellipse cx="730.22" cy="2099.1" rx="0.97" ry="1.12" fill="#9f00be"/><ellipse cx="736.13" cy="2099.1" rx="1.09" ry="1.26" fill="#a600b7"/><ellipse cx="742.05" cy="2099.1" rx="1.07" ry="1.25" fill="#b200a9"/><ellipse cx="747.97" cy="2099.1" rx="1.82" ry="2.11" fill="#c2064f"/><ellipse cx="753.88" cy="2099.1" rx="1.71" ry="1.98" fill="#c2064f"/><ellipse cx="759.79" cy="2099.1" rx="1.59" ry="1.84" fill="#c2064f"/><ellipse cx="765.71" cy="2099.1" rx="1.68" ry="1.95" fill="#c2064f"/><ellipse cx="771.62" cy="2099.1" rx="0.94" ry="1.09" fill="#a400b8"/><ellipse cx="777.54" cy="2099.1" rx="1.11" ry="1.29" fill="#b300a8"/><ellipse cx="783.45" cy="2099.1" rx="1.11" ry="1.29" fill="#b500a5"/><ellipse cx="789.37" cy="2099.1" rx="1.16" ry="1.35" fill="#ad00af"/><ellipse cx="795.28" cy="2099.1" rx="1.15" ry="1.33" fill="#a000bd"/><ellipse cx="801.2" cy="2099.1" rx="1.6" ry="1.86" fill="#c2064f"/><ellipse cx="807.12" cy="2099.1" rx="1.64" ry="1.9" fill="#c2064f"/><ellipse cx="813.03" cy="2099.1" rx="0.98" ry="1.14" fill="#ab00b1"/><ellipse cx="818.94" cy="2099.1" rx="1.05" ry="1.22" fill="#b700a3"/><ellipse cx="824.86" cy="2099.1" rx="0.93" ry="1.08" fill="#9e00bf"/><ellipse cx="830.77" cy="2099.1" rx="0.93" ry="1.08" fill="#a500b8"/><ellipse cx="836.69" cy="2099.1" rx="0.98" ry="1.14" fill="#b500a5"/><ellipse cx="842.61" cy="2099.1" rx="1.59" ry="1.85" fill="#c2064f"/><ellipse cx="848.52" cy="2099.1" rx="0.98" ry="1.13" fill="#b700a2"/><ellipse cx="854.43" cy="2099.1" rx="0.96" ry="1.11" fill="#b400a6"/><ellipse cx="860.35" cy="2099.1" rx="0.91" ry="1.06" fill="#b900a1"/><ellipse cx="866.26" cy="2099.1" rx="3.95" ry="4.58" fill="#f0003d"/><ellipse cx="872.18" cy="2099.1" rx="0.98" ry="1.13" fill="#b500a5"/><ellipse cx="878.1" cy="2099.1" rx="1" ry="1.17" fill="#b000ab"/><ellipse cx="884.01" cy="2099.1" rx="0.89" ry="1.03" fill="#9d00c0"/><ellipse cx="889.92" cy="2099.1" rx="1.06" ry="1.23" fill="#9e00bf"/><ellipse cx="895.84" cy="2099.1" rx="1.06" ry="1.23" fill="#b800a1"/><ellipse cx="901.75" cy="2099.1" rx="0.96" ry="1.11" fill="#b400a6"/><ellipse cx="907.67" cy="2099.1" rx="1" ry="1.16" fill="#b800a1"/><ellipse cx="913.59" cy="2099.1" rx="0.97" ry="1.13" fill="#ac00b0"/><ellipse cx="919.5" cy="2099.1" rx="1.04" ry="1.21" fill="#a700b6"/><ellipse cx="925.41" cy="2099.1" rx="0.97" ry="1.12" fill="#aa00b3"/><ellipse cx="931.33" cy="2099.1" rx="1.07" ry="1.24" fill="#a300ba"/><ellipse cx="937.25" cy="2099.1" rx="1.12" ry="1.3" fill="#9d00c0"/><ellipse cx="943.16" cy="2099.1" rx="1.69" ry="1.96" fill="#c2064f"/><ellipse cx="949.07" cy="2099.1" rx="1.01" ry="1.17" fill="#a400b9"/><ellipse cx="954.99" cy="2099.1" rx="1.67" ry="1.93" fill="#c2064f"/><ellipse cx="960.9" cy="2099.1" rx="0.9" ry="1.04" fill="#b400a7"/><ellipse cx="966.82" cy="2099.1" rx="0.99" ry="1.15" fill="#9f00be"/><ellipse cx="972.74" cy="2099.1" rx="1.75" ry="2.03" fill="#c2064f"/><ellipse cx="978.65" cy="2099.1" rx="1.09" ry="1.27" fill="#b900a0"/><ellipse cx="984.56" cy="2099.1" rx="1.87" ry="2.17" fill="#c2064f"/><ellipse cx="990.48" cy="2099.1" rx="1.45" ry="1.69" fill="#c2064f"/><ellipse cx="996.39" cy="2099.1" rx="1.09" ry="1.27" fill="#af00ad"/><ellipse cx="1002.31" cy="2099.1" rx="1.01" ry="1.17" fill="#b600a4"/><ellipse cx="1008.23" cy="2099.1" rx="4.48" ry="5.2" fill="#f30034"/><ellipse cx="1014.14" cy="2099.1" rx="1.03" ry="1.19" fill="#b900a1"/><ellipse cx="1020.05" cy="2099.1" rx="2.51" ry="2.91" fill="#e2005c"/><ellipse cx="1025.97" cy="2099.1" rx="1" ry="1.16" fill="#a400b9"/><ellipse cx="1031.88" cy="2099.1" rx="3.5" ry="4.06" fill="#ec0046"/><ellipse cx="1037.8" cy="2099.1" rx="3.04" ry="3.53" fill="#e80050"/><ellipse cx="1043.72" cy="2099.1" rx="1.4" ry="1.62" fill="#c2064f"/><ellipse cx="1049.63" cy="2099.1" rx="1.4" ry="1.63" fill="#c2064f"/><ellipse cx="1055.55" cy="2099.1" rx="1.43" ry="1.66" fill="#c2064f"/><ellipse cx="1061.46" cy="2099.1" rx="0.97" ry="1.12" fill="#ae00ae"/><ellipse cx="1067.38" cy="2099.1" rx="1.11" ry="1.29" fill="#a400b9"/><ellipse cx="1073.29" cy="2099.1" rx="1.05" ry="1.22" fill="#b900a0"/><ellipse cx="1079.2" cy="2099.1" rx="1.07" ry="1.24" fill="#a400b9"/><ellipse cx="1085.12" cy="2099.1" rx="0.96" ry="1.12" fill="#b900a0"/><ellipse cx="1091.04" cy="2099.1" rx="0.98" ry="1.14" fill="#ac00b0"/><ellipse cx="1096.95" cy="2099.1" rx="1.1" ry="1.27" fill="#9f00be"/><ellipse cx="1102.87" cy="2099.1" rx="1.11" ry="1.28" fill="#b200a9"/><ellipse cx="1108.78" cy="2099.1" rx="1.08" ry="1.25" fill="#ad00af"/><ellipse cx="1114.69" cy="2099.1" rx="1.14" ry="1.32" fill="#a200bb"/><ellipse cx="1120.61" cy="2099.1" rx="1.1" ry="1.27" fill="#b400a7"/><ellipse cx="1126.53" cy="2099.1" rx="1.65" ry="1.92" fill="#c2064f"/><ellipse cx="1132.44" cy="2099.1" rx="1" ry="1.16" fill="#b800a2"/><ellipse cx="1138.36" cy="2099.1" rx="1.04" ry="1.21" fill="#a400b9"/><ellipse cx="1144.27" cy="2099.1" rx="1" ry="1.16" fill="#b800a2"/><ellipse cx="1150.19" cy="2099.1" rx="0.9" ry="1.04" fill="#a600b7"/><ellipse cx="1156.1" cy="2099.1" rx="0.9" ry="1.04" fill="#b700a3"/><ellipse cx="1162.02" cy="2099.1" rx="1.51" ry="1.75" fill="#c2064f"/><ellipse cx="1167.93" cy="2099.1" rx="0.94" ry="1.09" fill="#af00ac"/><ellipse cx="1173.85" cy="2099.1" rx="1.1" ry="1.27" fill="#aa00b2"/><ellipse cx="1179.76" cy="2099.1" rx="1.16" ry="1.34" fill="#b200a9"/><ellipse cx="1185.68" cy="2099.1" rx="1.01" ry="1.17" fill="#9f00be"/><ellipse cx="1191.59" cy="2099.1" rx="1.15" ry="1.33" fill="#b000ac"/><ellipse cx="1197.51" cy="2099.1" rx="1.19" ry="1.38" fill="#b200a9"/><ellipse cx="1203.42" cy="2099.1" rx="2.13" ry="2.47" fill="#c2064f"/><ellipse cx="1209.34" cy="2099.1" rx="0.96" ry="1.11" fill="#a300ba"/><ellipse cx="1215.25" cy="2099.1" rx="0.95" ry="1.1" fill="#b300a8"/><ellipse cx="1221.17" cy="2099.1" rx="0.95" ry="1.1" fill="#a400b9"/><ellipse cx="1227.08" cy="2099.1" rx="0.93" ry="1.08" fill="#a500b8"/><ellipse cx="1233" cy="2099.1" rx="0.96" ry="1.12" fill="#b200a9"/><ellipse cx="1238.91" cy="2099.1" rx="1.09" ry="1.27" fill="#a000bd"/><ellipse cx="1244.83" cy="2099.1" rx="1.12" ry="1.3" fill="#b900a0"/><ellipse cx="1250.74" cy="2099.1" rx="1.09" ry="1.27" fill="#a000bd"/><ellipse cx="1256.66" cy="2099.1" rx="1.04" ry="1.21" fill="#b500a5"/><ellipse cx="1262.57" cy="2099.1" rx="1.01" ry="1.18" fill="#9f00be"/><ellipse cx="1268.49" cy="2099.1" rx="1.07" ry="1.25" fill="#a800b4"/><ellipse cx="1274.4" cy="2099.1" rx="0.9" ry="1.05" fill="#9f00be"/><ellipse cx="1280.32" cy="2099.1" rx="1.06" ry="1.23" fill="#b900a1"/><ellipse cx="1286.23" cy="2099.1" rx="1.13" ry="1.31" fill="#a500b7"/><ellipse cx="1292.15" cy="2099.1" rx="1.14" ry="1.32" fill="#a600b7"/><ellipse cx="1298.06" cy="2099.1" rx="1.05" ry="1.21" fill="#a000bd"/><ellipse cx="1303.98" cy="2099.1" rx="2.05" ry="2.38" fill="#c2064f"/><ellipse cx="1309.89" cy="2099.1" rx="0.91" ry="1.06" fill="#b800a2"/><ellipse cx="1315.81" cy="2099.1" rx="1.1" ry="1.27" fill="#b900a0"/><ellipse cx="1321.72" cy="2099.1" rx="1" ry="1.16" fill="#9f00be"/><ellipse cx="1327.63" cy="2099.1" rx="1.08" ry="1.26" fill="#a800b5"/><ellipse cx="1333.55" cy="2099.1" rx="1.1" ry="1.27" fill="#9f00be"/><ellipse cx="1339.47" cy="2099.1" rx="1.03" ry="1.19" fill="#b700a3"/><ellipse cx="1345.38" cy="2099.1" rx="1.05" ry="1.22" fill="#a400b9"/><ellipse cx="1351.3" cy="2099.1" rx="1.14" ry="1.32" fill="#a500b8"/><ellipse cx="1357.21" cy="2099.1" rx="1.12" ry="1.3" fill="#b800a2"/><ellipse cx="1363.12" cy="2099.1" rx="0.91" ry="1.06" fill="#a300ba"/><ellipse cx="1369.04" cy="2099.1" rx="0.98" ry="1.14" fill="#b900a0"/><ellipse cx="1374.96" cy="2099.1" rx="4.18" ry="4.85" fill="#f10039"/><ellipse cx="1380.87" cy="2099.1" rx="1.16" ry="1.34" fill="#9e00bf"/><ellipse cx="1386.79" cy="2099.1" rx="1.83" ry="2.12" fill="#c2064f"/><ellipse cx="1392.7" cy="2099.1" rx="0.98" ry="1.13" fill="#ae00ad"/><ellipse cx="1398.62" cy="2099.1" rx="1.11" ry="1.28" fill="#b400a7"/><ellipse cx="1404.53" cy="2099.1" rx="1.09" ry="1.26" fill="#ae00ae"/><ellipse cx="1410.45" cy="2099.1" rx="1.92" ry="2.23" fill="#c2064f"/><ellipse cx="1416.36" cy="2099.1" rx="1" ry="1.16" fill="#a800b5"/><ellipse cx="1422.28" cy="2099.1" rx="1.61" ry="1.87" fill="#c2064f"/><ellipse cx="1428.19" cy="2099.1" rx="1.79" ry="2.08" fill="#c2064f"/><ellipse cx="1434.11" cy="2099.1" rx="0.94" ry="1.09" fill="#b900a1"/><ellipse cx="1440.02" cy="2099.1" rx="1.19" ry="1.38" fill="#b200a9"/><ellipse cx="1445.94" cy="2099.1" rx="1.1" ry="1.28" fill="#b500a5"/><ellipse cx="1451.85" cy="2099.1" rx="1.06" ry="1.23" fill="#aa00b3"/><ellipse cx="1457.77" cy="2099.1" rx="1.15" ry="1.33" fill="#b400a6"/><ellipse cx="1463.68" cy="2099.1" rx="0.99" ry="1.15" fill="#b400a6"/><ellipse cx="1469.6" cy="2099.1" rx="1.12" ry="1.3" fill="#a900b4"/><ellipse cx="1475.51" cy="2099.1" rx="1.09" ry="1.27" fill="#b800a2"/><ellipse cx="1481.43" cy="2099.1" rx="0.92" ry="1.07" fill="#9e00bf"/><ellipse cx="1487.34" cy="2099.1" rx="0.98" ry="1.13" fill="#a000bd"/><ellipse cx="1493.26" cy="2099.1" rx="1.99" ry="2.31" fill="#c2064f"/><ellipse cx="1499.17" cy="2099.1" rx="1.01" ry="1.18" fill="#a800b5"/><ellipse cx="1505.09" cy="2099.1" rx="1.03" ry="1.2" fill="#b100aa"/><ellipse cx="1511" cy="2099.1" rx="1.01" ry="1.18" fill="#b000ab"/><ellipse cx="1516.92" cy="2099.1" rx="1.05" ry="1.22" fill="#a800b5"/><ellipse cx="1522.83" cy="2099.1" rx="0.95" ry="1.1" fill="#b200aa"/><ellipse cx="1528.75" cy="2099.1" rx="1.15" ry="1.33" fill="#a900b4"/><ellipse cx="1534.66" cy="2099.1" rx="0.98" ry="1.14" fill="#b600a4"/><ellipse cx="1540.58" cy="2099.1" rx="1.04" ry="1.2" fill="#ad00af"/><ellipse cx="1546.49" cy="2099.1" rx="5.62" ry="6.52" fill="#f90022"/><ellipse cx="1552.41" cy="2099.1" rx="1.09" ry="1.27" fill="#a800b4"/><ellipse cx="1558.32" cy="2099.1" rx="0.97" ry="1.13" fill="#a400b8"/><ellipse cx="1564.24" cy="2099.1" rx="1.08" ry="1.25" fill="#a400b9"/><ellipse cx="1570.15" cy="2099.1" rx="1.04" ry="1.21" fill="#ae00ae"/><ellipse cx="1576.07" cy="2099.1" rx="1.07" ry="1.24" fill="#ae00ae"/><ellipse cx="1581.98" cy="2099.1" rx="1.02" ry="1.18" fill="#a800b5"/><ellipse cx="1587.9" cy="2099.1" rx="0.95" ry="1.11" fill="#9d00c0"/><ellipse cx="1593.81" cy="2099.1" rx="0.98" ry="1.14" fill="#ab00b2"/><ellipse cx="1599.73" cy="2099.1" rx="0.93" ry="1.07" fill="#a900b3"/><ellipse cx="1605.64" cy="2099.1" rx="0.89" ry="1.03" fill="#b000ac"/><ellipse cx="1611.56" cy="2099.1" rx="1.14" ry="1.32" fill="#a900b4"/><ellipse cx="1617.47" cy="2099.1" rx="0.98" ry="1.14" fill="#9c00c1"/><ellipse cx="1623.38" cy="2099.1" rx="0.98" ry="1.14" fill="#a100bc"/><ellipse cx="1629.3" cy="2099.1" rx="2.08" ry="2.41" fill="#c2064f"/>
<ellipse cx="91.4" cy="2197.7" rx="1.68" ry="1.95" fill="#c2064f"/><ellipse cx="97.32" cy="2197.7" rx="1.5" ry="1.74" fill="#c2064f"/><ellipse cx="103.23" cy="2197.7" rx="1.47" ry="1.7" fill="#c2064f"/><ellipse cx="109.15" cy="2197.7" rx="0.96" ry="1.12" fill="#b900a1"/><ellipse cx="115.06" cy="2197.7" rx="1.02" ry="1.18" fill="#b400a7"/><ellipse cx="120.98" cy="2197.7" rx="0.98" ry="1.14" fill="#a200bb"/><ellipse cx="126.89" cy="2197.7" rx="0.92" ry="1.07" fill="#b300a7"/><ellipse cx="132.81" cy="2197.7" rx="1" ry="1.15" fill="#b100aa"/><ellipse cx="138.72" cy="2197.7" rx="0.91" ry="1.06" fill="#a200bb"/><ellipse cx="144.63" cy="2197.7" rx="1.01" ry="1.17" fill="#a900b4"/><ellipse cx="150.55" cy="2197.7" rx="1.49" ry="1.73" fill="#c2064f"/><ellipse cx="156.47" cy="2197.7" rx="3.4" ry="3.94" fill="#eb0048"/><ellipse cx="162.38" cy="2197.7" rx="1.69" ry="1.96" fill="#c2064f"/><ellipse cx="168.3" cy="2197.7" rx="1.15" ry="1.33" fill="#a400b9"/><ellipse cx="174.21" cy="2197.7" rx="0.99" ry="1.15" fill="#b000ac"/><ellipse cx="180.12" cy="2197.7" rx="1.01" ry="1.18" fill="#b500a5"/><ellipse cx="186.04" cy="2197.7" rx="1.06" ry="1.23" fill="#a500b8"/><ellipse cx="191.96" cy="2197.7" rx="1.18" ry="1.37" fill="#ba009f"/><ellipse cx="197.87" cy="2197.7" rx="1.06" ry="1.23" fill="#a000bd"/><ellipse cx="203.79" cy="2197.7" rx="1.04" ry="1.21" fill="#b400a7"/><ellipse cx="209.7" cy="2197.7" rx="1.18" ry="1.37" fill="#b900a0"/><ellipse cx="215.62" cy="2197.7" rx="0.97" ry="1.13" fill="#b300a8"/><ellipse cx="221.53" cy="2197.7" rx="1.1" ry="1.27" fill="#ad00af"/><ellipse cx="227.44" cy="2197.7" rx="1.6" ry="1.86" fill="#c2064f"/><ellipse cx="233.36" cy="2197.7" rx="0.98" ry="1.13" fill="#b000ac"/><ellipse cx="239.28" cy="2197.7" rx="0.98" ry="1.13" fill="#ad00af"/><ellipse cx="245.19" cy="2197.7" rx="2.6" ry="3.02" fill="#e2005c"/><ellipse cx="251.11" cy="2197.7" rx="1.11" ry="1.29" fill="#b900a0"/><ellipse cx="257.02" cy="2197.7" rx="0.99" ry="1.15" fill="#b800a1"/><ellipse cx="262.94" cy="2197.7" rx="1.07" ry="1.24" fill="#a000bd"/><ellipse cx="268.85" cy="2197.7" rx="1.05" ry="1.22" fill="#a600b7"/><ellipse cx="274.76" cy="2197.7" rx="0.98" ry="1.13" fill="#a100bc"/><ellipse cx="280.68" cy="2197.7" rx="1" ry="1.16" fill="#ac00b0"/><ellipse cx="286.6" cy="2197.7" rx="0.96" ry="1.11" fill="#b600a4"/><ellipse cx="292.51" cy="2197.7" rx="0.98" ry="1.13" fill="#af00ad"/><ellipse cx="298.43" cy="2197.7" rx="1.49" ry="1.73" fill="#c2064f"/><ellipse cx="304.34" cy="2197.7" rx="1.04" ry="1.2" fill="#9e00bf"/><ellipse cx="310.25" cy="2197.7" rx="2.1" ry="2.44" fill="#c2064f"/><ellipse cx="316.17" cy="2197.7" rx="3" ry="3.48" fill="#e70051"/><ellipse cx="322.09" cy="2197.7" rx="1.75" ry="2.04" fill="#c2064f"/><ellipse cx="328" cy="2197.7" rx="1.55" ry="1.79" fill="#c2064f"/><ellipse cx="333.92" cy="2197.7" rx="0.98" ry="1.14" fill="#af00ad"/><ellipse cx="339.83" cy="2197.7" rx="2.6" ry="3.02" fill="#e2005c"/><ellipse cx="345.75" cy="2197.7" rx="2.3" ry="2.67" fill="#e2005c"/><ellipse cx="351.66" cy="2197.7" rx="1.01" ry="1.17" fill="#b100ab"/><ellipse cx="357.58" cy="2197.7" rx="1" ry="1.16" fill="#b000ab"/><ellipse cx="363.49" cy="2197.7" rx="2" ry="2.32" fill="#c2064f"/><ellipse cx="369.4" cy="2197.7" rx="1.47" ry="1.7" fill="#c2064f"/><ellipse cx="375.32" cy="2197.7" rx="2.8" ry="3.25" fill="#e50057"/><ellipse cx="381.24" cy="2197.7" rx="1.03" ry="1.2" fill="#a500b8"/><ellipse cx="387.15" cy="2197.7" rx="1.11" ry="1.28" fill="#b800a2"/><ellipse cx="393.07" cy="2197.7" rx="0.94" ry="1.09" fill="#9f00be"/><ellipse cx="398.98" cy="2197.7" rx="1.04" ry="1.21" fill="#b800a2"/><ellipse cx="404.89" cy="2197.7" rx="1.09" ry="1.26" fill="#a200bb"/><ellipse cx="410.81" cy="2197.7" rx="0.99" ry="1.15" fill="#a700b5"/><ellipse cx="416.73" cy="2197.7" rx="1" ry="1.16" fill="#9e00bf"/><ellipse cx="422.64" cy="2197.7" rx="0.96" ry="1.12" fill="#a400b9"/><ellipse cx="428.56" cy="2197.7" rx="1.7" ry="1.98" fill="#c2064f"/><ellipse cx="434.47" cy="2197.7" rx="1.77" ry="2.05" fill="#c2064f"/><ellipse cx="440.38" cy="2197.7" rx="1.07" ry="1.24" fill="#ba009f"/><ellipse cx="446.3" cy="2197.7" rx="1.08" ry="1.25" fill="#b000ac"/><ellipse cx="452.22" cy="2197.7" rx="0.97" ry="1.12" fill="#b600a4"/><ellipse cx="458.13" cy="2197.7" rx="1.07" ry="1.24" fill="#b200aa"/><ellipse cx="464.04" cy="2197.7" rx="1.09" ry="1.26" fill="#ad00af"/><ellipse cx="469.96" cy="2197.7" rx="1.04" ry="1.21" fill="#9d00c0"/><ellipse cx="475.88" cy="2197.7" rx="0.99" ry="1.14" fill="#b200a9"/><ellipse cx="481.79" cy="2197.7" rx="1.13" ry="1.31" fill="#af00ad"/><ellipse cx="487.71" cy="2197.7" rx="1.08" ry="1.25" fill="#b300a8"/><ellipse cx="493.62" cy="2197.7" rx="1.06" ry="1.23" fill="#b600a4"/><ellipse cx="499.53" cy="2197.7" rx="1.09" ry="1.27" fill="#b100aa"/><ellipse cx="505.45" cy="2197.7" rx="0.92" ry="1.07" fill="#a800b4"/><ellipse cx="511.37" cy="2197.7" rx="1.04" ry="1.21" fill="#b000ab"/><ellipse cx="517.28" cy="2197.7" rx="1.05" ry="1.21" fill="#b500a5"/><ellipse cx="523.2" cy="2197.7" rx="1.11" ry="1.29" fill="#a500b8"/><ellipse cx="529.11" cy="2197.7" rx="1.06" ry="1.22" fill="#a600b7"/><ellipse cx="535.02" cy="2197.7" rx="1.01" ry="1.17" fill="#b500a5"/><ellipse cx="540.94" cy="2197.7" rx="1.05" ry="1.21" fill="#9d00c0"/><ellipse cx="546.86" cy="2197.7" rx="1.09" ry="1.26" fill="#ae00ae"/><ellipse cx="552.77" cy="2197.7" rx="0.91" ry="1.06" fill="#b800a1"/><ellipse cx="558.69" cy="2197.7" rx="1.04" ry="1.21" fill="#a700b6"/><ellipse cx="564.6" cy="2197.7" rx="0.99" ry="1.15" fill="#ab00b2"/><ellipse cx="570.51" cy="2197.7" rx="0.94" ry="1.09" fill="#ac00b1"/><ellipse cx="576.43" cy="2197.7" rx="0.93" ry="1.08" fill="#9d00c0"/><ellipse cx="582.35" cy="2197.7" rx="1.12" ry="1.3" fill="#a600b7"/><ellipse cx="588.26" cy="2197.7" rx="0.94" ry="1.09" fill="#a200bb"/><ellipse cx="594.17" cy="2197.7" rx="0.98" ry="1.14" fill="#9f00be"/><ellipse cx="600.09" cy="2197.7" rx="0.96" ry="1.11" fill="#a300ba"/><ellipse cx="606" cy="2197.7" rx="1.15" ry="1.34" fill="#b100aa"/><ellipse cx="611.92" cy="2197.7" rx="0.96" ry="1.11" fill="#9f00be"/><ellipse cx="617.84" cy="2197.7" rx="1.01" ry="1.18" fill="#b300a8"/><ellipse cx="623.75" cy="2197.7" rx="1.07" ry="1.24" fill="#ab00b2"/><ellipse cx="629.66" cy="2197.7" rx="1.41" ry="1.64" fill="#c2064f"/><ellipse cx="635.58" cy="2197.7" rx="1.47" ry="1.71" fill="#c2064f"/><ellipse cx="641.5" cy="2197.7" rx="1.59" ry="1.85" fill="#c2064f"/><ellipse cx="647.41" cy="2197.7" rx="1.02" ry="1.18" fill="#b000ac"/><ellipse cx="653.32" cy="2197.7" rx="1" ry="1.16" fill="#af00ac"/><ellipse cx="659.24" cy="2197.7" rx="1.52" ry="1.76" fill="#c2064f"/><ellipse cx="665.15" cy="2197.7" rx="1.11" ry="1.29" fill="#b600a4"/><ellipse cx="671.07" cy="2197.7" rx="1.14" ry="1.32" fill="#a000bd"/><ellipse cx="676.99" cy="2197.7" rx="0.98" ry="1.13" fill="#b200a9"/><ellipse cx="682.9" cy="2197.7" rx="1.51" ry="1.75" fill="#c2064f"/><ellipse cx="688.81" cy="2197.7" rx="0.97" ry="1.13" fill="#b900a0"/><ellipse cx="694.73" cy="2197.7" rx="0.99" ry="1.14" fill="#b100aa"/><ellipse cx="700.64" cy="2197.7" rx="1.02" ry="1.19" fill="#aa00b2"/><ellipse cx="706.56" cy="2197.7" rx="1.1" ry="1.28" fill="#a600b7"/><ellipse cx="712.48" cy="2197.7" rx="0.97" ry="1.13" fill="#9f00be"/><ellipse cx="718.39" cy="2197.7" rx="0.92" ry="1.07" fill="#b100aa"/><ellipse cx="724.3" cy="2197.7" rx="1.03" ry="1.2" fill="#b900a0"/><ellipse cx="730.22" cy="2197.7" rx="0.98" ry="1.13" fill="#a300ba"/><ellipse cx="736.13" cy="2197.7" rx="1.03" ry="1.19" fill="#a700b5"/><ellipse cx="742.05" cy="2197.7" rx="1.18" ry="1.36" fill="#a300ba"/><ellipse cx="747.97" cy="2197.7" rx="1.69" ry="1.96" fill="#c2064f"/><ellipse cx="753.88" cy="2197.7" rx="1.82" ry="2.11" fill="#c2064f"/><ellipse cx="759.79" cy="2197.7" rx="1.68" ry="1.95" fill="#c2064f"/><ellipse cx="765.71" cy="2197.7" rx="1.69" ry="1.96" fill="#c2064f"/><ellipse cx="771.62" cy="2197.7" rx="0.92" ry="1.07" fill="#a700b6"/><ellipse cx="777.54" cy="2197.7" rx="1.1" ry="1.27" fill="#b600a5"/><ellipse cx="783.45" cy="2197.7" rx="1.04" ry="1.2" fill="#9f00bf"/><ellipse cx="789.37" cy="2197.7" rx="1.15" ry="1.33" fill="#b300a8"/><ellipse cx="795.28" cy="2197.7" rx="1.09" ry="1.26" fill="#ac00b1"/><ellipse cx="801.2" cy="2197.7" rx="1.59" ry="1.85" fill="#c2064f"/><ellipse cx="807.12" cy="2197.7" rx="1.55" ry="1.79" fill="#c2064f"/><ellipse cx="813.03" cy="2197.7" rx="0.94" ry="1.09" fill="#a800b5"/><ellipse cx="818.94" cy="2197.7" rx="1.07" ry="1.24" fill="#a700b5"/><ellipse cx="824.86" cy="2197.7" rx="0.94" ry="1.09" fill="#9e00bf"/><ellipse cx="830.77" cy="2197.7" rx="0.98" ry="1.14" fill="#9d00c0"/><ellipse cx="836.69" cy="2197.7" rx="0.96" ry="1.12" fill="#a900b4"/><ellipse cx="842.61" cy="2197.7" rx="1.61" ry="1.87" fill="#c2064f"/><ellipse cx="848.52" cy="2197.7" rx="1.04" ry="1.21" fill="#ab00b2"/><ellipse cx="854.43" cy="2197.7" rx="0.9" ry="1.05" fill="#a700b6"/><ellipse cx="860.35" cy="2197.7" rx="0.89" ry="1.03" fill="#ae00ae"/><ellipse cx="866.26" cy="2197.7" rx="5.2" ry="6.03" fill="#f70029"/><ellipse cx="872.18" cy="2197.7" rx="0.99" ry="1.15" fill="#b900a0"/><ellipse cx="878.1" cy="2197.7" rx="0.97" ry="1.13" fill="#b200a9"/><ellipse cx="884.01" cy="2197.7" rx="0.93" ry="1.08" fill="#b400a7"/><ellipse cx="889.92" cy="2197.7" rx="1.07" ry="1.25" fill="#9e00bf"/><ellipse cx="895.84" cy="2197.7" rx="1.02" ry="1.18" fill="#b700a2"/><ellipse cx="901.75" cy="2197.7" rx="0.91" ry="1.06" fill="#9e00bf"/><ellipse cx="907.67" cy="2197.7" rx="0.97" ry="1.13" fill="#9e00bf"/><ellipse cx="913.59" cy="2197.7" rx="0.96" ry="1.12" fill="#b900a1"/><ellipse cx="919.5" cy="2197.7" rx="0.97" ry="1.12" fill="#b400a7"/><ellipse cx="925.41" cy="2197.7" rx="0.98" ry="1.14" fill="#ab00b1"/><ellipse cx="931.33" cy="2197.7" rx="1.1" ry="1.28" fill="#a300ba"/><ellipse cx="937.25" cy="2197.7" rx="1.12" ry="1.3" fill="#ad00af"/><ellipse cx="943.16" cy="2197.7" rx="1.62" ry="1.87" fill="#c2064f"/><ellipse cx="949.07" cy="2197.7" rx="1.03" ry="1.19" fill="#a800b4"/><ellipse cx="954.99" cy="2197.7" rx="1.69" ry="1.96" fill="#c2064f"/><ellipse cx="960.9" cy="2197.7" rx="0.94" ry="1.09" fill="#a900b4"/><ellipse cx="966.82" cy="2197.7" rx="0.99" ry="1.15" fill="#b600a4"/><ellipse cx="972.74" cy="2197.7" rx="2.3" ry="2.67" fill="#e2005c"/><ellipse cx="978.65" cy="2197.7" rx="1.11" ry="1.29" fill="#b300a8"/><ellipse cx="984.56" cy="2197.7" rx="2.09" ry="2.43" fill="#c2064f"/><ellipse cx="990.48" cy="2197.7" rx="1.47" ry="1.7" fill="#c2064f"/><ellipse cx="996.39" cy="2197.7" rx="1.15" ry="1.34" fill="#a000be"/><ellipse cx="1002.31" cy="2197.7" rx="1.03" ry="1.2" fill="#ab00b1"/><ellipse cx="1008.23" cy="2197.7" rx="5.9" ry="6.84" fill="#fa001e"/><ellipse cx="1014.14" cy="2197.7" rx="1.03" ry="1.19" fill="#a200bb"/><ellipse cx="1020.05" cy="2197.7" rx="3.3" ry="3.83" fill="#ea004a"/><ellipse cx="1025.97" cy="2197.7" rx="1.07" ry="1.24" fill="#a800b5"/><ellipse cx="1031.88" cy="2197.7" rx="4.6" ry="5.34" fill="#f40032"/><ellipse cx="1037.8" cy="2197.7" rx="4" ry="4.64" fill="#f0003c"/><ellipse cx="1043.72" cy="2197.7" rx="1.48" ry="1.71" fill="#c2064f"/><ellipse cx="1049.63" cy="2197.7" rx="1.42" ry="1.65" fill="#c2064f"/><ellipse cx="1055.55" cy="2197.7" rx="1.58" ry="1.83" fill="#c2064f"/><ellipse cx="1061.46" cy="2197.7" rx="0.99" ry="1.15" fill="#a200bb"/><ellipse cx="1067.38" cy="2197.7" rx="1.08" ry="1.25" fill="#a600b7"/><ellipse cx="1073.29" cy="2197.7" rx="1" ry="1.17" fill="#b500a5"/><ellipse cx="1079.2" cy="2197.7" rx="1.1" ry="1.28" fill="#b800a2"/><ellipse cx="1085.12" cy="2197.7" rx="1.01" ry="1.17" fill="#a700b5"/><ellipse cx="1091.04" cy="2197.7" rx="1" ry="1.16" fill="#a000bd"/><ellipse cx="1096.95" cy="2197.7" rx="1.11" ry="1.29" fill="#ad00af"/><ellipse cx="1102.87" cy="2197.7" rx="1.09" ry="1.26" fill="#a600b7"/><ellipse cx="1108.78" cy="2197.7" rx="1.11" ry="1.29" fill="#a000bd"/><ellipse cx="1114.69" cy="2197.7" rx="1.05" ry="1.22" fill="#b000ac"/><ellipse cx="1120.61" cy="2197.7" rx="1.15" ry="1.34" fill="#af00ad"/><ellipse cx="1126.53" cy="2197.7" rx="1.71" ry="1.99" fill="#c2064f"/><ellipse cx="1132.44" cy="2197.7" rx="0.97" ry="1.12" fill="#a000bd"/><ellipse cx="1138.36" cy="2197.7" rx="1" ry="1.16" fill="#ab00b1"/><ellipse cx="1144.27" cy="2197.7" rx="1.04" ry="1.2" fill="#b500a5"/><ellipse cx="1150.19" cy="2197.7" rx="0.97" ry="1.13" fill="#af00ad"/><ellipse cx="1156.1" cy="2197.7" rx="0.95" ry="1.1" fill="#ae00ae"/><ellipse cx="1162.02" cy="2197.7" rx="1.53" ry="1.77" fill="#c2064f"/><ellipse cx="1167.93" cy="2197.7" rx="0.98" ry="1.14" fill="#a600b7"/><ellipse cx="1173.85" cy="2197.7" rx="1.11" ry="1.28" fill="#b500a5"/><ellipse cx="1179.76" cy="2197.7" rx="1.1" ry="1.27" fill="#a100bc"/><ellipse cx="1185.68" cy="2197.7" rx="1" ry="1.16" fill="#9d00c0"/><ellipse cx="1191.59" cy="2197.7" rx="1.09" ry="1.27" fill="#b900a1"/><ellipse cx="1197.51" cy="2197.7" rx="1.19" ry="1.38" fill="#aa00b2"/><ellipse cx="1203.42" cy="2197.7" rx="2.8" ry="3.25" fill="#e50057"/><ellipse cx="1209.34" cy="2197.7" rx="1.04" ry="1.2" fill="#a300ba"/><ellipse cx="1215.25" cy="2197.7" rx="1.02" ry="1.18" fill="#ae00ad"/><ellipse cx="1221.17" cy="2197.7" rx="0.98" ry="1.14" fill="#a600b7"/><ellipse cx="1227.08" cy="2197.7" rx="0.92" ry="1.06" fill="#ad00ae"/><ellipse cx="1233" cy="2197.7" rx="0.98" ry="1.13" fill="#b200a9"/><ellipse cx="1238.91" cy="2197.7" rx="1.09" ry="1.26" fill="#b800a2"/><ellipse cx="1244.83" cy="2197.7" rx="1.07" ry="1.24" fill="#b100aa"/><ellipse cx="1250.74" cy="2197.7" rx="1.06" ry="1.23" fill="#b600a4"/><ellipse cx="1256.66" cy="2197.7" rx="1.03" ry="1.19" fill="#9c00c1"/><ellipse cx="1262.57" cy="2197.7" rx="1.05" ry="1.22" fill="#b600a4"/><ellipse cx="1268.49" cy="2197.7" rx="1.14" ry="1.32" fill="#b800a2"/><ellipse cx="1274.4" cy="2197.7" rx="0.94" ry="1.09" fill="#b200aa"/><ellipse cx="1280.32" cy="2197.7" rx="1.08" ry="1.26" fill="#ac00b0"/><ellipse cx="1286.23" cy="2197.7" rx="1.15" ry="1.33" fill="#a200bb"/><ellipse cx="1292.15" cy="2197.7" rx="1.06" ry="1.23" fill="#b000ac"/><ellipse cx="1298.06" cy="2197.7" rx="1.11" ry="1.29" fill="#b900a0"/><ellipse cx="1303.98" cy="2197.7" rx="2.7" ry="3.13" fill="#e30059"/><ellipse cx="1309.89" cy="2197.7" rx="0.92" ry="1.06" fill="#ba009f"/><ellipse cx="1315.81" cy="2197.7" rx="1.07" ry="1.24" fill="#a800b4"/><ellipse cx="1321.72" cy="2197.7" rx="1.01" ry="1.18" fill="#ba009f"/><ellipse cx="1327.63" cy="2197.7" rx="1.06" ry="1.23" fill="#a900b3"/><ellipse cx="1333.55" cy="2197.7" rx="1.18" ry="1.37" fill="#b600a4"/><ellipse cx="1339.47" cy="2197.7" rx="1" ry="1.16" fill="#a500b8"/><ellipse cx="1345.38" cy="2197.7" rx="1.04" ry="1.21" fill="#a300ba"/><ellipse cx="1351.3" cy="2197.7" rx="1.11" ry="1.29" fill="#9d00c0"/><ellipse cx="1357.21" cy="2197.7" rx="1.05" ry="1.22" fill="#ab00b2"/><ellipse cx="1363.12" cy="2197.7" rx="0.96" ry="1.11" fill="#b400a7"/><ellipse cx="1369.04" cy="2197.7" rx="0.96" ry="1.11" fill="#a400b9"/><ellipse cx="1374.96" cy="2197.7" rx="5.5" ry="6.38" fill="#f80024"/><ellipse cx="1380.87" cy="2197.7" rx="1.11" ry="1.28" fill="#a400b9"/><ellipse cx="1386.79" cy="2197.7" rx="1.71" ry="1.98" fill="#c2064f"/><ellipse cx="1392.7" cy="2197.7" rx="0.92" ry="1.07" fill="#b900a1"/><ellipse cx="1398.62" cy="2197.7" rx="1.13" ry="1.32" fill="#b600a4"/><ellipse cx="1404.53" cy="2197.7" rx="1.16" ry="1.35" fill="#a500b8"/><ellipse cx="1410.45" cy="2197.7" rx="1.86" ry="2.16" fill="#c2064f"/><ellipse cx="1416.36" cy="2197.7" rx="1" ry="1.16" fill="#b400a6"/><ellipse cx="1422.28" cy="2197.7" rx="1.72" ry="1.99" fill="#c2064f"/><ellipse cx="1428.19" cy="2197.7" rx="1.73" ry="2.01" fill="#c2064f"/><ellipse cx="1434.11" cy="2197.7" rx="0.89" ry="1.03" fill="#b600a4"/><ellipse cx="1440.02" cy="2197.7" rx="1.16" ry="1.34" fill="#ae00ae"/><ellipse cx="1445.94" cy="2197.7" rx="1.04" ry="1.2" fill="#b100aa"/><ellipse cx="1451.85" cy="2197.7" rx="1.03" ry="1.19" fill="#a400b9"/><ellipse cx="1457.77" cy="2197.7" rx="1.16" ry="1.34" fill="#b200a9"/><ellipse cx="1463.68" cy="2197.7" rx="1.05" ry="1.21" fill="#ba009f"/><ellipse cx="1469.6" cy="2197.7" rx="1.1" ry="1.28" fill="#af00ad"/><ellipse cx="1475.51" cy="2197.7" rx="1.06" ry="1.22" fill="#b100aa"/><ellipse cx="1481.43" cy="2197.7" rx="1" ry="1.16" fill="#aa00b3"/><ellipse cx="1487.34" cy="2197.7" rx="0.93" ry="1.08" fill="#b200a9"/><ellipse cx="1493.26" cy="2197.7" rx="1.87" ry="2.17" fill="#c2064f"/><ellipse cx="1499.17" cy="2197.7" rx="0.94" ry="1.09" fill="#b300a7"/><ellipse cx="1505.09" cy="2197.7" rx="1.04" ry="1.21" fill="#ac00b0"/><ellipse cx="1511" cy="2197.7" rx="0.99" ry="1.14" fill="#ab00b1"/><ellipse cx="1516.92" cy="2197.7" rx="1.03" ry="1.19" fill="#a600b7"/><ellipse cx="1522.83" cy="2197.7" rx="0.92" ry="1.07" fill="#ab00b1"/><ellipse cx="1528.75" cy="2197.7" rx="1.15" ry="1.34" fill="#a700b6"/><ellipse cx="1534.66" cy="2197.7" rx="0.97" ry="1.12" fill="#a500b8"/><ellipse cx="1540.58" cy="2197.7" rx="1.01" ry="1.17" fill="#a100bc"/><ellipse cx="1546.49" cy="2197.7" rx="7.4" ry="8.58" fill="#ff0002"/><ellipse cx="1552.41" cy="2197.7" rx="1.12" ry="1.29" fill="#af00ad"/><ellipse cx="1558.32" cy="2197.7" rx="1.06" ry="1.23" fill="#9f00be"/><ellipse cx="1564.24" cy="2197.7" rx="1.1" ry="1.27" fill="#a200bb"/><ellipse cx="1570.15" cy="2197.7" rx="1.02" ry="1.18" fill="#b600a4"/><ellipse cx="1576.07" cy="2197.7" rx="1" ry="1.16" fill="#ad00af"/><ellipse cx="1581.98" cy="2197.7" rx="1.03" ry="1.19" fill="#b600a4"/><ellipse cx="1587.9" cy="2197.7" rx="0.93" ry="1.08" fill="#ba009f"/><ellipse cx="1593.81" cy="2197.7" rx="1.05" ry="1.22" fill="#b800a2"/><ellipse cx="1599.73" cy="2197.7" rx="0.99" ry="1.15" fill="#a000bd"/><ellipse cx="1605.64" cy="2197.7" rx="0.88" ry="1.03" fill="#b900a0"/><ellipse cx="1611.56" cy="2197.7" rx="1.06" ry="1.23" fill="#9e00bf"/><ellipse cx="1617.47" cy="2197.7" rx="0.97" ry="1.12" fill="#af00ad"/><ellipse cx="1623.38" cy="2197.7" rx="0.99" ry="1.15" fill="#aa00b2"/><ellipse cx="1629.3" cy="2197.7" rx="1.97" ry="2.29" fill="#c2064f"/>
<path d="M86 1645.5V2256.1H1632.5" fill="none" stroke="#000" stroke-width="1.7"/>
<line x1="82.6" y1="1704.6" x2="86" y2="1704.6" stroke="#000" stroke-width="1.6"/>
<text class="b" stroke-width="0.3" font-size="15.1" text-anchor="end" transform="translate(79.6 1708.5) scale(1 1.16)">M_CA_3</text>
<line x1="82.6" y1="1803.2" x2="86" y2="1803.2" stroke="#000" stroke-width="1.6"/>
<text class="b" stroke-width="0.3" font-size="15.1" text-anchor="end" transform="translate(79.6 1807.1) scale(1 1.16)">M_CA_2</text>
<line x1="82.6" y1="1901.9" x2="86" y2="1901.9" stroke="#000" stroke-width="1.6"/>
<text class="b" stroke-width="0.3" font-size="15.1" text-anchor="end" transform="translate(79.6 1905.8) scale(1 1.16)">M_CA_1</text>
<line x1="82.6" y1="2000.5" x2="86" y2="2000.5" stroke="#000" stroke-width="1.6"/>
<text class="b" stroke-width="0.3" font-size="15.1" text-anchor="end" transform="translate(79.6 2004.4) scale(1 1.16)">M_3</text>
<line x1="82.6" y1="2099.1" x2="86" y2="2099.1" stroke="#000" stroke-width="1.6"/>
<text class="b" stroke-width="0.3" font-size="15.1" text-anchor="end" transform="translate(79.6 2103) scale(1 1.16)">M_2</text>
<line x1="82.6" y1="2197.7" x2="86" y2="2197.7" stroke="#000" stroke-width="1.6"/>
<text class="b" stroke-width="0.3" font-size="15.1" text-anchor="end" transform="translate(79.6 2201.6) scale(1 1.16)">M_1</text>
<path d="M91.4 2256.1v4.4M97.32 2256.1v4.4M103.23 2256.1v4.4M109.15 2256.1v4.4M115.06 2256.1v4.4M120.98 2256.1v4.4M126.89 2256.1v4.4M132.81 2256.1v4.4M138.72 2256.1v4.4M144.63 2256.1v4.4M150.55 2256.1v4.4M156.47 2256.1v4.4M162.38 2256.1v4.4M168.3 2256.1v4.4M174.21 2256.1v4.4M180.12 2256.1v4.4M186.04 2256.1v4.4M191.96 2256.1v4.4M197.87 2256.1v4.4M203.79 2256.1v4.4M209.7 2256.1v4.4M215.62 2256.1v4.4M221.53 2256.1v4.4M227.44 2256.1v4.4M233.36 2256.1v4.4M239.28 2256.1v4.4M245.19 2256.1v4.4M251.11 2256.1v4.4M257.02 2256.1v4.4M262.94 2256.1v4.4M268.85 2256.1v4.4M274.76 2256.1v4.4M280.68 2256.1v4.4M286.6 2256.1v4.4M292.51 2256.1v4.4M298.43 2256.1v4.4M304.34 2256.1v4.4M310.25 2256.1v4.4M316.17 2256.1v4.4M322.09 2256.1v4.4M328 2256.1v4.4M333.92 2256.1v4.4M339.83 2256.1v4.4M345.75 2256.1v4.4M351.66 2256.1v4.4M357.58 2256.1v4.4M363.49 2256.1v4.4M369.4 2256.1v4.4M375.32 2256.1v4.4M381.24 2256.1v4.4M387.15 2256.1v4.4M393.07 2256.1v4.4M398.98 2256.1v4.4M404.89 2256.1v4.4M410.81 2256.1v4.4M416.73 2256.1v4.4M422.64 2256.1v4.4M428.56 2256.1v4.4M434.47 2256.1v4.4M440.38 2256.1v4.4M446.3 2256.1v4.4M452.22 2256.1v4.4M458.13 2256.1v4.4M464.04 2256.1v4.4M469.96 2256.1v4.4M475.88 2256.1v4.4M481.79 2256.1v4.4M487.71 2256.1v4.4M493.62 2256.1v4.4M499.53 2256.1v4.4M505.45 2256.1v4.4M511.37 2256.1v4.4M517.28 2256.1v4.4M523.2 2256.1v4.4M529.11 2256.1v4.4M535.02 2256.1v4.4M540.94 2256.1v4.4M546.86 2256.1v4.4M552.77 2256.1v4.4M558.69 2256.1v4.4M564.6 2256.1v4.4M570.51 2256.1v4.4M576.43 2256.1v4.4M582.35 2256.1v4.4M588.26 2256.1v4.4M594.17 2256.1v4.4M600.09 2256.1v4.4M606 2256.1v4.4M611.92 2256.1v4.4M617.84 2256.1v4.4M623.75 2256.1v4.4M629.66 2256.1v4.4M635.58 2256.1v4.4M641.5 2256.1v4.4M647.41 2256.1v4.4M653.32 2256.1v4.4M659.24 2256.1v4.4M665.15 2256.1v4.4M671.07 2256.1v4.4M676.99 2256.1v4.4M682.9 2256.1v4.4M688.81 2256.1v4.4M694.73 2256.1v4.4M700.64 2256.1v4.4M706.56 2256.1v4.4M712.48 2256.1v4.4M718.39 2256.1v4.4M724.3 2256.1v4.4M730.22 2256.1v4.4M736.13 2256.1v4.4M742.05 2256.1v4.4M747.97 2256.1v4.4M753.88 2256.1v4.4M759.79 2256.1v4.4M765.71 2256.1v4.4M771.62 2256.1v4.4M777.54 2256.1v4.4M783.45 2256.1v4.4M789.37 2256.1v4.4M795.28 2256.1v4.4M801.2 2256.1v4.4M807.12 2256.1v4.4M813.03 2256.1v4.4M818.94 2256.1v4.4M824.86 2256.1v4.4M830.77 2256.1v4.4M836.69 2256.1v4.4M842.61 2256.1v4.4M848.52 2256.1v4.4M854.43 2256.1v4.4M860.35 2256.1v4.4M866.26 2256.1v4.4M872.18 2256.1v4.4M878.1 2256.1v4.4M884.01 2256.1v4.4M889.92 2256.1v4.4M895.84 2256.1v4.4M901.75 2256.1v4.4M907.67 2256.1v4.4M913.59 2256.1v4.4M919.5 2256.1v4.4M925.41 2256.1v4.4M931.33 2256.1v4.4M937.25 2256.1v4.4M943.16 2256.1v4.4M949.07 2256.1v4.4M954.99 2256.1v4.4M960.9 2256.1v4.4M966.82 2256.1v4.4M972.74 2256.1v4.4M978.65 2256.1v4.4M984.56 2256.1v4.4M990.48 2256.1v4.4M996.39 2256.1v4.4M1002.31 2256.1v4.4M1008.23 2256.1v4.4M1014.14 2256.1v4.4M1020.05 2256.1v4.4M1025.97 2256.1v4.4M1031.88 2256.1v4.4M1037.8 2256.1v4.4M1043.72 2256.1v4.4M1049.63 2256.1v4.4M1055.55 2256.1v4.4M1061.46 2256.1v4.4M1067.38 2256.1v4.4M1073.29 2256.1v4.4M1079.2 2256.1v4.4M1085.12 2256.1v4.4M1091.04 2256.1v4.4M1096.95 2256.1v4.4M1102.87 2256.1v4.4M1108.78 2256.1v4.4M1114.69 2256.1v4.4M1120.61 2256.1v4.4M1126.53 2256.1v4.4M1132.44 2256.1v4.4M1138.36 2256.1v4.4M1144.27 2256.1v4.4M1150.19 2256.1v4.4M1156.1 2256.1v4.4M1162.02 2256.1v4.4M1167.93 2256.1v4.4M1173.85 2256.1v4.4M1179.76 2256.1v4.4M1185.68 2256.1v4.4M1191.59 2256.1v4.4M1197.51 2256.1v4.4M1203.42 2256.1v4.4M1209.34 2256.1v4.4M1215.25 2256.1v4.4M1221.17 2256.1v4.4M1227.08 2256.1v4.4M1233 2256.1v4.4M1238.91 2256.1v4.4M1244.83 2256.1v4.4M1250.74 2256.1v4.4M1256.66 2256.1v4.4M1262.57 2256.1v4.4M1268.49 2256.1v4.4M1274.4 2256.1v4.4M1280.32 2256.1v4.4M1286.23 2256.1v4.4M1292.15 2256.1v4.4M1298.06 2256.1v4.4M1303.98 2256.1v4.4M1309.89 2256.1v4.4M1315.81 2256.1v4.4M1321.72 2256.1v4.4M1327.63 2256.1v4.4M1333.55 2256.1v4.4M1339.47 2256.1v4.4M1345.38 2256.1v4.4M1351.3 2256.1v4.4M1357.21 2256.1v4.4M1363.12 2256.1v4.4M1369.04 2256.1v4.4M1374.96 2256.1v4.4M1380.87 2256.1v4.4M1386.79 2256.1v4.4M1392.7 2256.1v4.4M1398.62 2256.1v4.4M1404.53 2256.1v4.4M1410.45 2256.1v4.4M1416.36 2256.1v4.4M1422.28 2256.1v4.4M1428.19 2256.1v4.4M1434.11 2256.1v4.4M1440.02 2256.1v4.4M1445.94 2256.1v4.4M1451.85 2256.1v4.4M1457.77 2256.1v4.4M1463.68 2256.1v4.4M1469.6 2256.1v4.4M1475.51 2256.1v4.4M1481.43 2256.1v4.4M1487.34 2256.1v4.4M1493.26 2256.1v4.4M1499.17 2256.1v4.4M1505.09 2256.1v4.4M1511 2256.1v4.4M1516.92 2256.1v4.4M1522.83 2256.1v4.4M1528.75 2256.1v4.4M1534.66 2256.1v4.4M1540.58 2256.1v4.4M1546.49 2256.1v4.4M1552.41 2256.1v4.4M1558.32 2256.1v4.4M1564.24 2256.1v4.4M1570.15 2256.1v4.4M1576.07 2256.1v4.4M1581.98 2256.1v4.4M1587.9 2256.1v4.4M1593.81 2256.1v4.4M1599.73 2256.1v4.4M1605.64 2256.1v4.4M1611.56 2256.1v4.4M1617.47 2256.1v4.4M1623.38 2256.1v4.4M1629.3 2256.1v4.4" fill="none" stroke="#000" stroke-width="1.4"/>
<g class="b" font-size="6.8" stroke-width="0.3" text-rendering="geometricPrecision">
<text transform="translate(89.8 2265) rotate(89.9)">ABCG2</text>
<text transform="translate(95.72 2265) rotate(89.9)">ACE2</text>
<text transform="translate(101.63 2265) rotate(89.9)">ADAM10</text>
<text transform="translate(107.55 2265) rotate(89.9)">ADGRG1</text>
<text transform="translate(113.46 2265) rotate(89.9)">ADIPOQ</text>
<text transform="translate(119.38 2265) rotate(89.9)">AIF1</text>
<text transform="translate(125.29 2265) rotate(89.9)">ALDH1A1</text>
<text transform="translate(131.21 2265) rotate(89.9)">AMIGO1</text>
<text transform="translate(137.12 2265) rotate(89.9)">AMIGO2</text>
<text transform="translate(143.03 2265) rotate(89.9)">ANPEP</text>
<text transform="translate(148.95 2265) rotate(89.9)">ANXA1</text>
<text transform="translate(154.87 2265) rotate(89.9)">APOE</text>
<text transform="translate(160.78 2265) rotate(89.9)">AQP1</text>
<text transform="translate(166.7 2265) rotate(89.9)">AQP2</text>
<text transform="translate(172.61 2265) rotate(89.9)">AXL</text>
<text transform="translate(178.53 2265) rotate(89.9)">BCAM</text>
<text transform="translate(184.44 2265) rotate(89.9)">BOC</text>
<text transform="translate(190.36 2265) rotate(89.9)">C5b-9</text>
<text transform="translate(196.27 2265) rotate(89.9)">C9</text>
<text transform="translate(202.19 2265) rotate(89.9)">CADM3</text>
<text transform="translate(208.1 2265) rotate(89.9)">CADM4</text>
<text transform="translate(214.02 2265) rotate(89.9)">CAV1</text>
<text transform="translate(219.93 2265) rotate(89.9)">CCR2</text>
<text transform="translate(225.84 2265) rotate(89.9)">CCR4</text>
<text transform="translate(231.76 2265) rotate(89.9)">CCR6</text>
<text transform="translate(237.68 2265) rotate(89.9)">CD14</text>
<text transform="translate(243.59 2265) rotate(89.9)">CD151</text>
<text transform="translate(249.51 2265) rotate(89.9)">CD163</text>
<text transform="translate(255.42 2265) rotate(89.9)">CD19</text>
<text transform="translate(261.33 2265) rotate(89.9)">CD1C</text>
<text transform="translate(267.25 2265) rotate(89.9)">CD20</text>
<text transform="translate(273.16 2265) rotate(89.9)">CD22</text>
<text transform="translate(279.08 2265) rotate(89.9)">CD24</text>
<text transform="translate(285 2265) rotate(89.9)">CD25</text>
<text transform="translate(290.91 2265) rotate(89.9)">CD27</text>
<text transform="translate(296.82 2265) rotate(89.9)">CD274</text>
<text transform="translate(302.74 2265) rotate(89.9)">CD33</text>
<text transform="translate(308.65 2265) rotate(89.9)">CD36</text>
<text transform="translate(314.57 2265) rotate(89.9)">CD38</text>
<text transform="translate(320.49 2265) rotate(89.9)">CD3E</text>
<text transform="translate(326.4 2265) rotate(89.9)">CD4</text>
<text transform="translate(332.31 2265) rotate(89.9)">CD40</text>
<text transform="translate(338.23 2265) rotate(89.9)">CD44</text>
<text transform="translate(344.14 2265) rotate(89.9)">CD47</text>
<text transform="translate(350.06 2265) rotate(89.9)">CD5</text>
<text transform="translate(355.98 2265) rotate(89.9)">CD63</text>
<text transform="translate(361.89 2265) rotate(89.9)">CD68</text>
<text transform="translate(367.8 2265) rotate(89.9)">CD80</text>
<text transform="translate(373.72 2265) rotate(89.9)">CD81</text>
<text transform="translate(379.63 2265) rotate(89.9)">CD86</text>
<text transform="translate(385.55 2265) rotate(89.9)">CD8A</text>
<text transform="translate(391.47 2265) rotate(89.9)">CD9</text>
<text transform="translate(397.38 2265) rotate(89.9)">CDCP1</text>
<text transform="translate(403.29 2265) rotate(89.9)">CDH1</text>
<text transform="translate(409.21 2265) rotate(89.9)">CDH11</text>
<text transform="translate(415.12 2265) rotate(89.9)">CDH12</text>
<text transform="translate(421.04 2265) rotate(89.9)">CDH13</text>
<text transform="translate(426.96 2265) rotate(89.9)">CDH15</text>
<text transform="translate(432.87 2265) rotate(89.9)">CDH17</text>
<text transform="translate(438.78 2265) rotate(89.9)">CDH2</text>
<text transform="translate(444.7 2265) rotate(89.9)">CDH3</text>
<text transform="translate(450.62 2265) rotate(89.9)">CDH4</text>
<text transform="translate(456.53 2265) rotate(89.9)">CDH5</text>
<text transform="translate(462.44 2265) rotate(89.9)">CDH6</text>
<text transform="translate(468.36 2265) rotate(89.9)">CDHR5</text>
<text transform="translate(474.27 2265) rotate(89.9)">CDON</text>
<text transform="translate(480.19 2265) rotate(89.9)">CEACAM1</text>
<text transform="translate(486.11 2265) rotate(89.9)">CEACAM3</text>
<text transform="translate(492.02 2265) rotate(89.9)">CEACAM4</text>
<text transform="translate(497.93 2265) rotate(89.9)">CEACAM5</text>
<text transform="translate(503.85 2265) rotate(89.9)">CEACAM6</text>
<text transform="translate(509.76 2265) rotate(89.9)">CEACAM7</text>
<text transform="translate(515.68 2265) rotate(89.9)">CEACAM8</text>
<text transform="translate(521.6 2265) rotate(89.9)">CLDN1</text>
<text transform="translate(527.51 2265) rotate(89.9)">CLDN10</text>
<text transform="translate(533.42 2265) rotate(89.9)">CLDN11</text>
<text transform="translate(539.34 2265) rotate(89.9)">CLDN12</text>
<text transform="translate(545.25 2265) rotate(89.9)">CLDN17</text>
<text transform="translate(551.17 2265) rotate(89.9)">CLDN19</text>
<text transform="translate(557.09 2265) rotate(89.9)">CLDN3</text>
<text transform="translate(563 2265) rotate(89.9)">CLDN4</text>
<text transform="translate(568.91 2265) rotate(89.9)">CLDN6</text>
<text transform="translate(574.83 2265) rotate(89.9)">CLDN8</text>
<text transform="translate(580.75 2265) rotate(89.9)">CLEC1B</text>
<text transform="translate(586.66 2265) rotate(89.9)">CLEC2A</text>
<text transform="translate(592.57 2265) rotate(89.9)">CLEC4C</text>
<text transform="translate(598.49 2265) rotate(89.9)">CLEC5A</text>
<text transform="translate(604.4 2265) rotate(89.9)">CLEC9A</text>
<text transform="translate(610.32 2265) rotate(89.9)">CLMP</text>
<text transform="translate(616.24 2265) rotate(89.9)">CLSTN1</text>
<text transform="translate(622.15 2265) rotate(89.9)">CPM</text>
<text transform="translate(628.06 2265) rotate(89.9)">CR1</text>
<text transform="translate(633.98 2265) rotate(89.9)">CR2</text>
<text transform="translate(639.89 2265) rotate(89.9)">CSF3R</text>
<text transform="translate(645.81 2265) rotate(89.9)">CSPG4</text>
<text transform="translate(651.72 2265) rotate(89.9)">CTLA4</text>
<text transform="translate(657.64 2265) rotate(89.9)">CUBN</text>
<text transform="translate(663.55 2265) rotate(89.9)">CXADR</text>
<text transform="translate(669.47 2265) rotate(89.9)">CXCL16</text>
<text transform="translate(675.38 2265) rotate(89.9)">CXCL8</text>
<text transform="translate(681.3 2265) rotate(89.9)">CXCR2</text>
<text transform="translate(687.21 2265) rotate(89.9)">CXCR4</text>
<text transform="translate(693.13 2265) rotate(89.9)">DSC1</text>
<text transform="translate(699.04 2265) rotate(89.9)">DSC2</text>
<text transform="translate(704.96 2265) rotate(89.9)">DSC3</text>
<text transform="translate(710.88 2265) rotate(89.9)">DSCAM</text>
<text transform="translate(716.79 2265) rotate(89.9)">DSG1</text>
<text transform="translate(722.7 2265) rotate(89.9)">DSG2</text>
<text transform="translate(728.62 2265) rotate(89.9)">DSG3</text>
<text transform="translate(734.53 2265) rotate(89.9)">DSG4</text>
<text transform="translate(740.45 2265) rotate(89.9)">EFNB2</text>
<text transform="translate(746.37 2265) rotate(89.9)">EGFR</text>
<text transform="translate(752.28 2265) rotate(89.9)">EMCN</text>
<text transform="translate(758.19 2265) rotate(89.9)">ENG</text>
<text transform="translate(764.11 2265) rotate(89.9)">EPCAM</text>
<text transform="translate(770.02 2265) rotate(89.9)">EPHA2</text>
<text transform="translate(775.94 2265) rotate(89.9)">ERBB2</text>
<text transform="translate(781.85 2265) rotate(89.9)">ESAM</text>
<text transform="translate(787.77 2265) rotate(89.9)">F11R</text>
<text transform="translate(793.68 2265) rotate(89.9)">FAS</text>
<text transform="translate(799.6 2265) rotate(89.9)">FCGR1A</text>
<text transform="translate(805.51 2265) rotate(89.9)">FN1</text>
<text transform="translate(811.43 2265) rotate(89.9)">FOLH1</text>
<text transform="translate(817.34 2265) rotate(89.9)">GFP</text>
<text transform="translate(823.26 2265) rotate(89.9)">GPA33</text>
<text transform="translate(829.17 2265) rotate(89.9)">GPC1</text>
<text transform="translate(835.09 2265) rotate(89.9)">GSN</text>
<text transform="translate(841 2265) rotate(89.9)">HAVCR1</text>
<text transform="translate(846.92 2265) rotate(89.9)">HEPACAM</text>
<text transform="translate(852.83 2265) rotate(89.9)">HLA-A</text>
<text transform="translate(858.75 2265) rotate(89.9)">HLA-DRA</text>
<text transform="translate(864.66 2265) rotate(89.9)">ICAM1</text>
<text transform="translate(870.58 2265) rotate(89.9)">ICAM2</text>
<text transform="translate(876.5 2265) rotate(89.9)">ICAM3</text>
<text transform="translate(882.41 2265) rotate(89.9)">ICAM4</text>
<text transform="translate(888.32 2265) rotate(89.9)">ICOS</text>
<text transform="translate(894.24 2265) rotate(89.9)">IGF2</text>
<text transform="translate(900.15 2265) rotate(89.9)">IL1RAPL1</text>
<text transform="translate(906.07 2265) rotate(89.9)">IL2RA</text>
<text transform="translate(911.99 2265) rotate(89.9)">IL2RB</text>
<text transform="translate(917.9 2265) rotate(89.9)">IL3RA</text>
<text transform="translate(923.81 2265) rotate(89.9)">IL6</text>
<text transform="translate(929.73 2265) rotate(89.9)">IL7RA</text>
<text transform="translate(935.64 2265) rotate(89.9)">ILK</text>
<text transform="translate(941.56 2265) rotate(89.9)">ITGA1</text>
<text transform="translate(947.47 2265) rotate(89.9)">ITGA11</text>
<text transform="translate(953.39 2265) rotate(89.9)">ITGA2</text>
<text transform="translate(959.3 2265) rotate(89.9)">ITGA2B</text>
<text transform="translate(965.22 2265) rotate(89.9)">ITGA3</text>
<text transform="translate(971.13 2265) rotate(89.9)">ITGA4</text>
<text transform="translate(977.05 2265) rotate(89.9)">ITGA4B7</text>
<text transform="translate(982.96 2265) rotate(89.9)">ITGA5</text>
<text transform="translate(988.88 2265) rotate(89.9)">ITGA6</text>
<text transform="translate(994.79 2265) rotate(89.9)">ITGA8</text>
<text transform="translate(1000.71 2265) rotate(89.9)">ITGA9</text>
<text transform="translate(1006.62 2265) rotate(89.9)">ITGAL</text>
<text transform="translate(1012.54 2265) rotate(89.9)">ITGAM</text>
<text transform="translate(1018.45 2265) rotate(89.9)">ITGAV</text>
<text transform="translate(1024.37 2265) rotate(89.9)">ITGAX</text>
<text transform="translate(1030.29 2265) rotate(89.9)">ITGB1</text>
<text transform="translate(1036.2 2265) rotate(89.9)">ITGB2</text>
<text transform="translate(1042.12 2265) rotate(89.9)">ITGB3</text>
<text transform="translate(1048.03 2265) rotate(89.9)">ITGB4</text>
<text transform="translate(1053.95 2265) rotate(89.9)">ITGB5</text>
<text transform="translate(1059.86 2265) rotate(89.9)">ITGB6</text>
<text transform="translate(1065.78 2265) rotate(89.9)">ITGB7</text>
<text transform="translate(1071.69 2265) rotate(89.9)">ITGB8</text>
<text transform="translate(1077.61 2265) rotate(89.9)">JAM2</text>
<text transform="translate(1083.52 2265) rotate(89.9)">JAM3</text>
<text transform="translate(1089.44 2265) rotate(89.9)">JAML</text>
<text transform="translate(1095.35 2265) rotate(89.9)">KIT</text>
<text transform="translate(1101.27 2265) rotate(89.9)">KLRD1</text>
<text transform="translate(1107.18 2265) rotate(89.9)">L1CAM</text>
<text transform="translate(1113.1 2265) rotate(89.9)">LAIR1</text>
<text transform="translate(1119.01 2265) rotate(89.9)">LAG3</text>
<text transform="translate(1124.93 2265) rotate(89.9)">LAMP1</text>
<text transform="translate(1130.84 2265) rotate(89.9)">LAMP2</text>
<text transform="translate(1136.76 2265) rotate(89.9)">LGALS9</text>
<text transform="translate(1142.67 2265) rotate(89.9)">LGR5</text>
<text transform="translate(1148.59 2265) rotate(89.9)">LRP2</text>
<text transform="translate(1154.5 2265) rotate(89.9)">LY6C</text>
<text transform="translate(1160.42 2265) rotate(89.9)">LY6G</text>
<text transform="translate(1166.33 2265) rotate(89.9)">LY6G6C</text>
<text transform="translate(1172.25 2265) rotate(89.9)">LYN</text>
<text transform="translate(1178.16 2265) rotate(89.9)">MADCAM1</text>
<text transform="translate(1184.08 2265) rotate(89.9)">MCAM</text>
<text transform="translate(1189.99 2265) rotate(89.9)">MICA</text>
<text transform="translate(1195.91 2265) rotate(89.9)">MICB</text>
<text transform="translate(1201.82 2265) rotate(89.9)">MMP9</text>
<text transform="translate(1207.74 2265) rotate(89.9)">MPO</text>
<text transform="translate(1213.65 2265) rotate(89.9)">MUC1</text>
<text transform="translate(1219.57 2265) rotate(89.9)">MUC16</text>
<text transform="translate(1225.48 2265) rotate(89.9)">MUC19</text>
<text transform="translate(1231.4 2265) rotate(89.9)">MUC4</text>
<text transform="translate(1237.31 2265) rotate(89.9)">NCAM1</text>
<text transform="translate(1243.23 2265) rotate(89.9)">NCR1</text>
<text transform="translate(1249.14 2265) rotate(89.9)">NECTIN1</text>
<text transform="translate(1255.06 2265) rotate(89.9)">NECTIN3</text>
<text transform="translate(1260.97 2265) rotate(89.9)">NECTIN4</text>
<text transform="translate(1266.89 2265) rotate(89.9)">NES</text>
<text transform="translate(1272.8 2265) rotate(89.9)">NFASC</text>
<text transform="translate(1278.72 2265) rotate(89.9)">NGFR</text>
<text transform="translate(1284.63 2265) rotate(89.9)">NLGN1</text>
<text transform="translate(1290.55 2265) rotate(89.9)">NPHS1</text>
<text transform="translate(1296.46 2265) rotate(89.9)">NT5E</text>
<text transform="translate(1302.38 2265) rotate(89.9)">NTRK3</text>
<text transform="translate(1308.29 2265) rotate(89.9)">PAK2</text>
<text transform="translate(1314.21 2265) rotate(89.9)">PCDH1</text>
<text transform="translate(1320.12 2265) rotate(89.9)">PCDH15</text>
<text transform="translate(1326.04 2265) rotate(89.9)">PCDH17</text>
<text transform="translate(1331.95 2265) rotate(89.9)">PCDH19</text>
<text transform="translate(1337.87 2265) rotate(89.9)">PCDH8</text>
<text transform="translate(1343.78 2265) rotate(89.9)">PCDHA1</text>
<text transform="translate(1349.7 2265) rotate(89.9)">PCDHGC3</text>
<text transform="translate(1355.61 2265) rotate(89.9)">PDCD1</text>
<text transform="translate(1361.53 2265) rotate(89.9)">PDPN</text>
<text transform="translate(1367.44 2265) rotate(89.9)">PECAM1</text>
<text transform="translate(1373.36 2265) rotate(89.9)">PLAU</text>
<text transform="translate(1379.27 2265) rotate(89.9)">PLAUR</text>
<text transform="translate(1385.19 2265) rotate(89.9)">PLXNB1</text>
<text transform="translate(1391.1 2265) rotate(89.9)">PROM1</text>
<text transform="translate(1397.02 2265) rotate(89.9)">PTPRC</text>
<text transform="translate(1402.93 2265) rotate(89.9)">PTPRJ</text>
<text transform="translate(1408.85 2265) rotate(89.9)">RET</text>
<text transform="translate(1414.76 2265) rotate(89.9)">SDC1</text>
<text transform="translate(1420.68 2265) rotate(89.9)">SELE</text>
<text transform="translate(1426.59 2265) rotate(89.9)">SELL</text>
<text transform="translate(1432.51 2265) rotate(89.9)">SELP</text>
<text transform="translate(1438.42 2265) rotate(89.9)">SIGLEC1</text>
<text transform="translate(1444.34 2265) rotate(89.9)">SIGLEC10</text>
<text transform="translate(1450.25 2265) rotate(89.9)">SIGLEC11</text>
<text transform="translate(1456.17 2265) rotate(89.9)">SIGLEC14</text>
<text transform="translate(1462.08 2265) rotate(89.9)">SIGLEC5</text>
<text transform="translate(1468 2265) rotate(89.9)">SIGLEC6</text>
<text transform="translate(1473.91 2265) rotate(89.9)">SIGLEC7</text>
<text transform="translate(1479.83 2265) rotate(89.9)">SIGLEC8</text>
<text transform="translate(1485.74 2265) rotate(89.9)">SIGLEC9</text>
<text transform="translate(1491.66 2265) rotate(89.9)">SIRPA</text>
<text transform="translate(1497.57 2265) rotate(89.9)">SLC12A1</text>
<text transform="translate(1503.49 2265) rotate(89.9)">SLC12A3</text>
<text transform="translate(1509.4 2265) rotate(89.9)">SLC34A1</text>
<text transform="translate(1515.32 2265) rotate(89.9)">SLC3A2</text>
<text transform="translate(1521.23 2265) rotate(89.9)">TACSTD2</text>
<text transform="translate(1527.15 2265) rotate(89.9)">TENM1</text>
<text transform="translate(1533.06 2265) rotate(89.9)">TENM2</text>
<text transform="translate(1538.98 2265) rotate(89.9)">TENM4</text>
<text transform="translate(1544.89 2265) rotate(89.9)">THBD</text>
<text transform="translate(1550.81 2265) rotate(89.9)">THY1</text>
<text transform="translate(1556.72 2265) rotate(89.9)">TICAM2</text>
<text transform="translate(1562.64 2265) rotate(89.9)">TIM3</text>
<text transform="translate(1568.55 2265) rotate(89.9)">TIMP2</text>
<text transform="translate(1574.47 2265) rotate(89.9)">TMEM119</text>
<text transform="translate(1580.38 2265) rotate(89.9)">TMEM204</text>
<text transform="translate(1586.3 2265) rotate(89.9)">TNFRSF9</text>
<text transform="translate(1592.21 2265) rotate(89.9)">TPBG</text>
<text transform="translate(1598.13 2265) rotate(89.9)">ULBP1</text>
<text transform="translate(1604.04 2265) rotate(89.9)">ULBP2</text>
<text transform="translate(1609.96 2265) rotate(89.9)">ULBP3</text>
<text transform="translate(1615.87 2265) rotate(89.9)">VCAM1</text>
<text transform="translate(1621.79 2265) rotate(89.9)">VEGFA</text>
<text transform="translate(1627.7 2265) rotate(89.9)">XCR1</text>
</g>
<defs><linearGradient id="cb" x1="0" y1="0" x2="0" y2="1">
<stop offset="0" stop-color="#ff0000"/>
<stop offset="0.05" stop-color="#fb001a"/>
<stop offset="0.1" stop-color="#f6002a"/>
<stop offset="0.15" stop-color="#f20037"/>
<stop offset="0.2" stop-color="#ed0044"/>
<stop offset="0.25" stop-color="#e80050"/>
<stop offset="0.3" stop-color="#e3005b"/>
<stop offset="0.35" stop-color="#dd0066"/>
<stop offset="0.4" stop-color="#d70072"/>
<stop offset="0.45" stop-color="#d1007d"/>
<stop offset="0.5" stop-color="#ca0088"/>
<stop offset="0.55" stop-color="#c20094"/>
<stop offset="0.6" stop-color="#ba009f"/>
<stop offset="0.65" stop-color="#b000ab"/>
<stop offset="0.7" stop-color="#a600b7"/>
<stop offset="0.75" stop-color="#9a00c3"/>
<stop offset="0.8" stop-color="#8d00ce"/>
<stop offset="0.85" stop-color="#7c00da"/>
<stop offset="0.9" stop-color="#6800e7"/>
<stop offset="0.95" stop-color="#4b00f3"/>
<stop offset="1" stop-color="#0000ff"/>
</linearGradient></defs>
<rect x="1652.1" y="1662.9" width="24.8" height="607.1" fill="url(#cb)"/>
<path d="M1652.1 1671.3h4.6M1676.9 1671.3h-4.6" stroke="#fff" stroke-opacity="0.75" stroke-width="1"/>
<text class="b" stroke-width="0.3" font-size="14.8" transform="translate(1685.8 1677.5) scale(1 1.16)">17.5</text>
<path d="M1652.1 1783.7h4.6M1676.9 1783.7h-4.6" stroke="#fff" stroke-opacity="0.75" stroke-width="1"/>
<text class="b" stroke-width="0.3" font-size="14.8" transform="translate(1685.8 1789.9) scale(1 1.16)">15.0</text>
<path d="M1652.1 1896.1h4.6M1676.9 1896.1h-4.6" stroke="#fff" stroke-opacity="0.75" stroke-width="1"/>
<text class="b" stroke-width="0.3" font-size="14.8" transform="translate(1685.8 1902.3) scale(1 1.16)">12.5</text>
<path d="M1652.1 2008.5h4.6M1676.9 2008.5h-4.6" stroke="#fff" stroke-opacity="0.75" stroke-width="1"/>
<text class="b" stroke-width="0.3" font-size="14.8" transform="translate(1685.8 2014.7) scale(1 1.16)">10.0</text>
<path d="M1652.1 2120.9h4.6M1676.9 2120.9h-4.6" stroke="#fff" stroke-opacity="0.75" stroke-width="1"/>
<text class="b" stroke-width="0.3" font-size="14.8" transform="translate(1685.8 2127.1) scale(1 1.16)">7.5</text>
<path d="M1652.1 2233.4h4.6M1676.9 2233.4h-4.6" stroke="#fff" stroke-opacity="0.75" stroke-width="1"/>
<text class="b" stroke-width="0.3" font-size="14.8" transform="translate(1685.8 2239.6) scale(1 1.16)">5.0</text>
<text class="b" stroke-width="0.3" font-size="18" transform="translate(1651.6 1619.2) scale(1 1.14)">log2(Value+1)</text>
</g>
</svg></body></html>
